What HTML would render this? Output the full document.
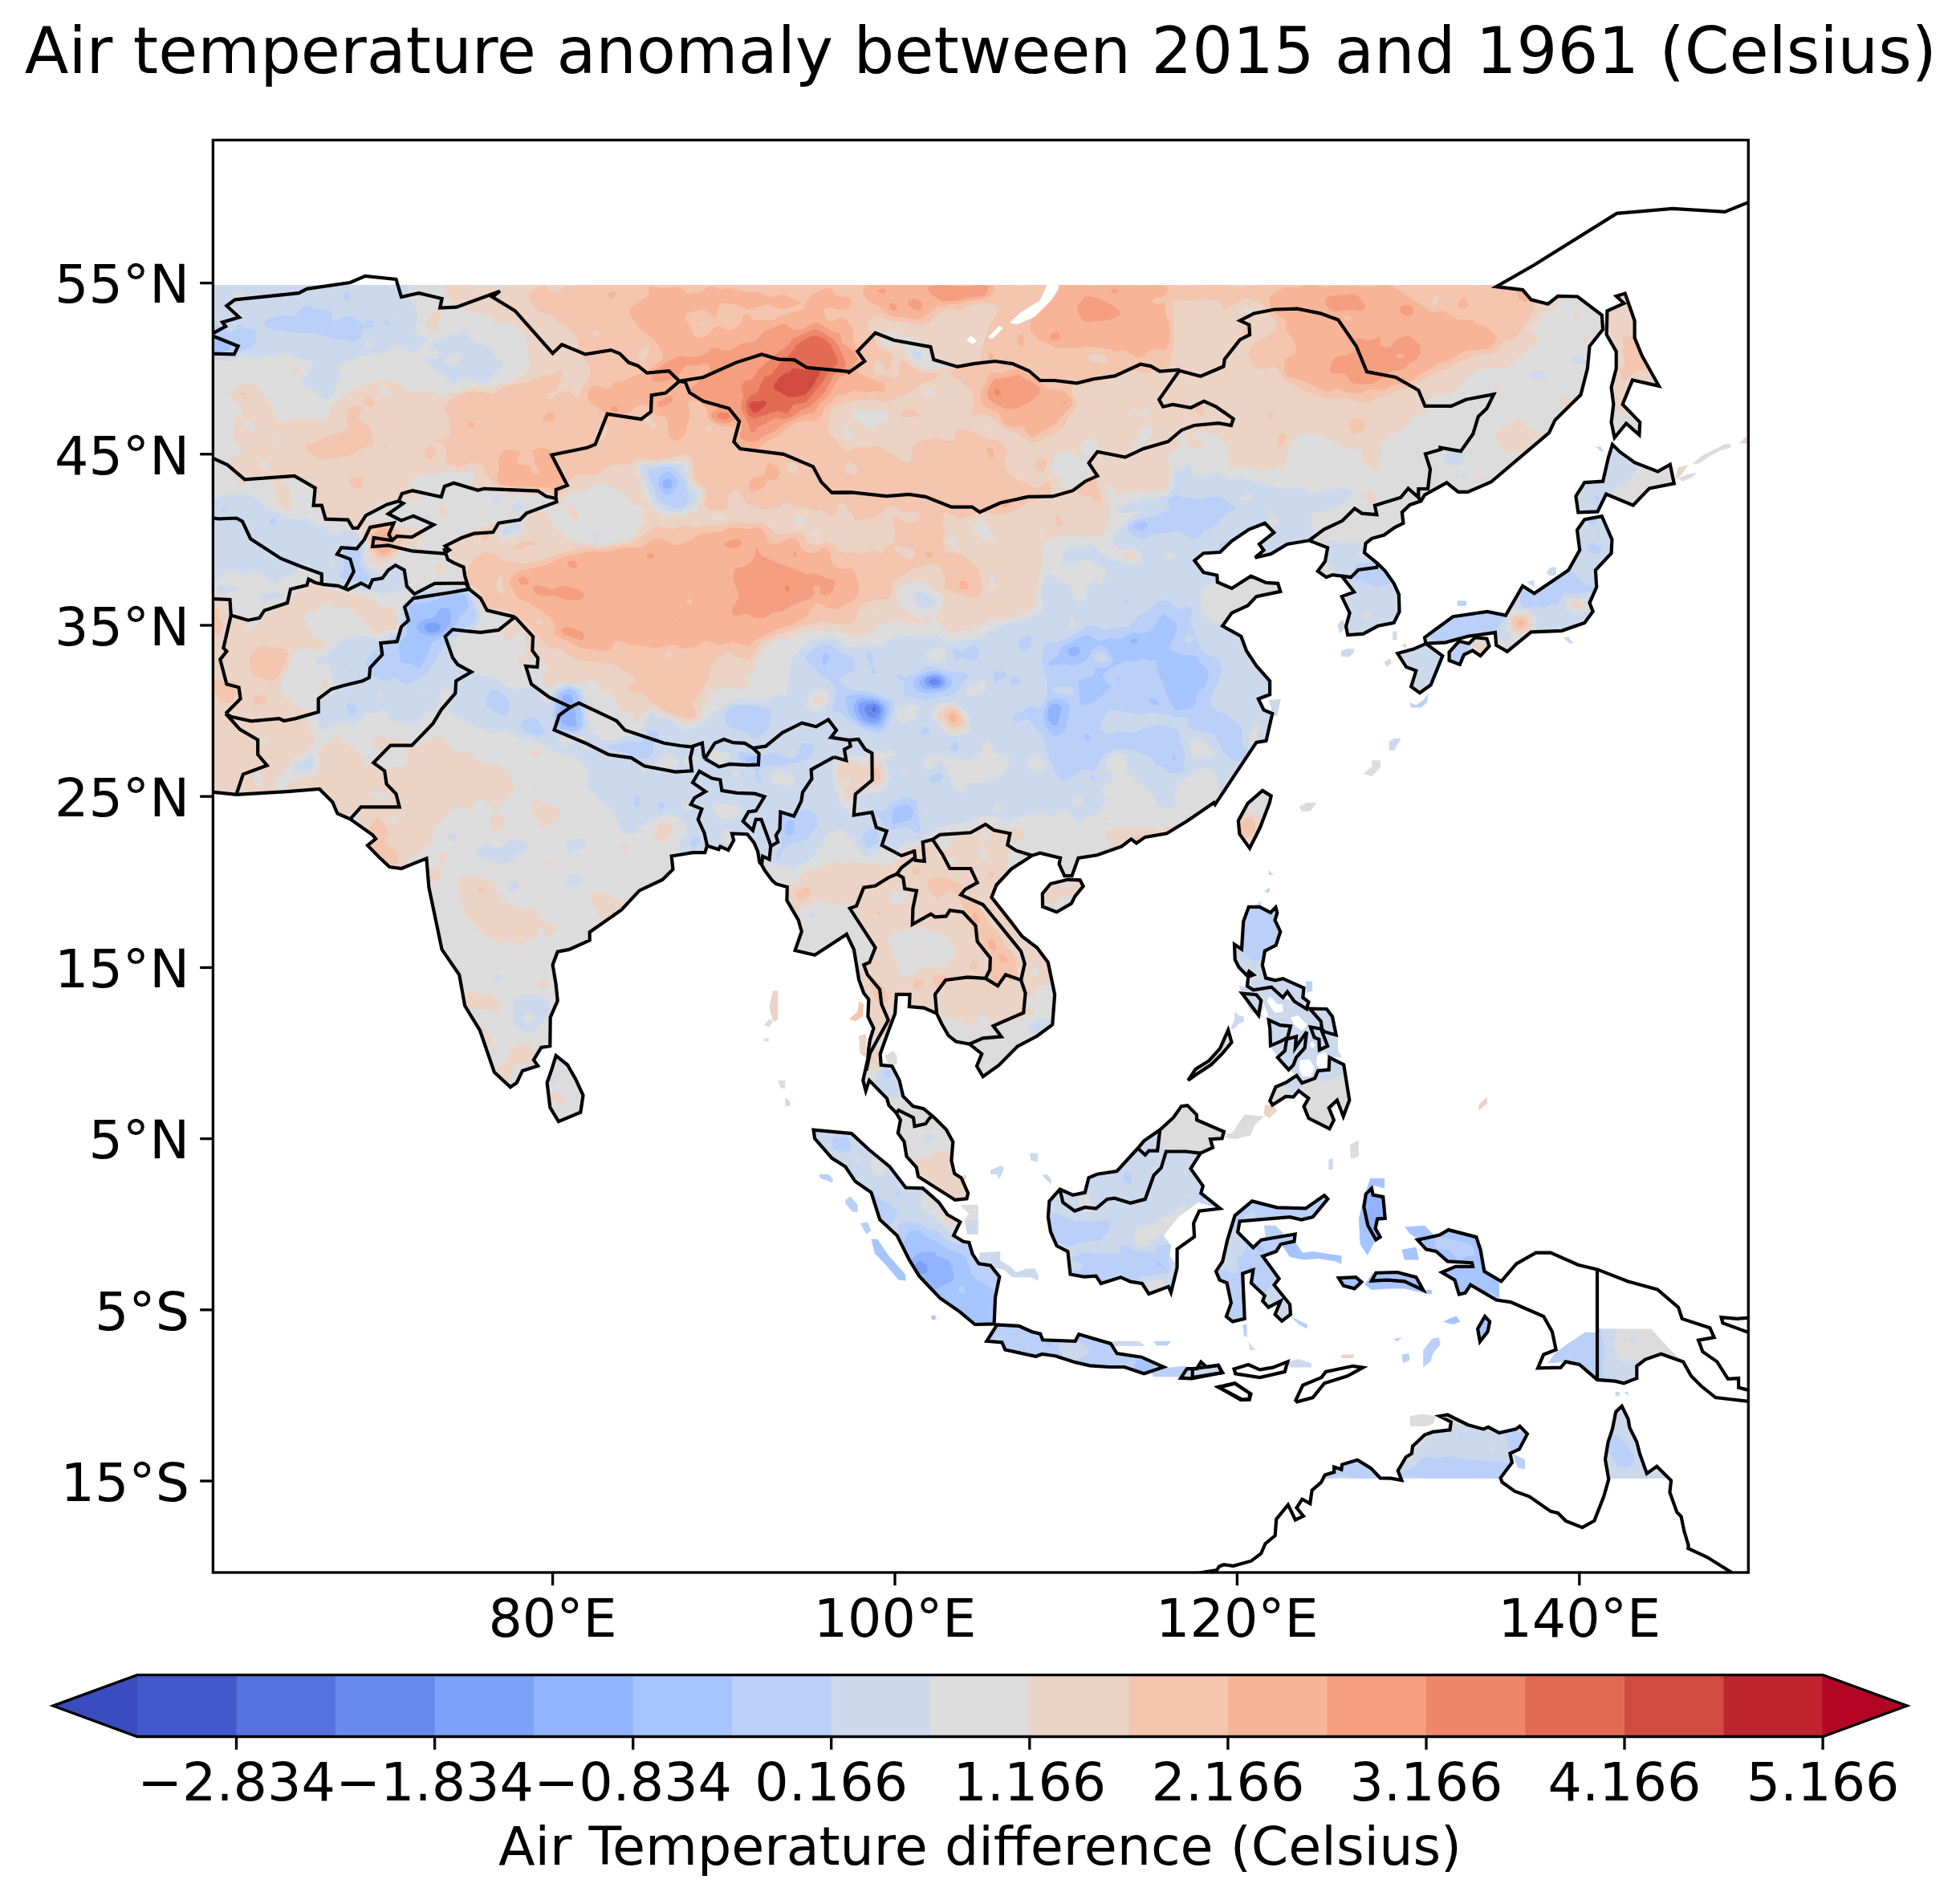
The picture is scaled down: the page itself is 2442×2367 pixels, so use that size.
<!DOCTYPE html>
<html lang="en"><head><meta charset="utf-8"><title>Air temperature anomaly between 2015 and 1961 (Celsius)</title>
<style>html,body{margin:0;padding:0;background:#fff}body{width:2442px;height:2367px;overflow:hidden}</style></head>
<body>
<svg width="2442" height="2367" viewBox="0 0 2442 2367" style="display:block">
<rect width="2442" height="2367" fill="#fff"/>
<defs><clipPath id="fc"><rect x="265.4" y="174.5" width="1912.9" height="1784.5"/></clipPath></defs>
<defs>
<clipPath id="band"><rect x="265.4" y="355.0" width="1912.9" height="1487.0"/></clipPath>
<clipPath id="land"><path clip-rule="nonzero" d="M255.9,986.9 L266.1,986.9 L294.7,989.8 L358.0,986.1 L398.0,982.9 L414.3,999.2 L420.4,1013.5 L436.3,1020.4 L464.1,1040.0 L468.2,1044.9 L458.0,1053.1 L472.2,1067.8 L485.3,1080.0 L500.0,1082.0 L531.4,1069.4 L534.3,1105.3 L550.6,1182.9 L572.2,1214.3 L579.2,1253.1 L598.0,1283.7 L615.9,1335.9 L635.9,1354.3 L643.7,1349.0 L651.0,1333.9 L670.2,1327.8 L664.9,1320.4 L674.3,1304.9 L685.3,1303.3 L685.7,1267.3 L694.7,1246.9 L692.7,1226.5 L688.6,1202.0 L694.7,1185.7 L709.0,1182.9 L734.7,1171.4 L734.7,1161.2 L774.3,1133.5 L796.7,1109.4 L825.3,1095.9 L838.4,1082.9 L836.7,1066.5 L840.0,1066.0 L863.0,1062.2 L878.3,1062.2 L881.0,1053.7 L895.4,1058.3 L897.4,1054.5 L907.4,1059.1 L914.2,1046.8 L911.9,1038.4 L931.1,1039.2 L939.5,1049.9 L944.1,1060.6 L946.4,1074.4 L949.0,1077.5 L953.3,1085.1 L962.5,1097.4 L967.0,1101.2 L980.8,1105.0 L980.4,1121.6 L994.7,1146.1 L998.8,1160.4 L990.6,1184.1 L1015.1,1189.8 L1053.9,1164.5 L1054.8,1163.8 L1064.0,1183.1 L1070.1,1220.4 L1076.2,1237.2 L1082.3,1244.9 L1081.4,1266.3 L1088.5,1281.0 L1083.9,1295.4 L1082.3,1306.1 L1081.4,1318.4 L1075.3,1345.9 L1078.7,1358.8 L1083.0,1345.9 L1105.1,1368.6 L1107.4,1377.0 L1116.5,1386.2 L1121.9,1395.4 L1118.8,1411.5 L1126.5,1422.2 L1129.5,1440.6 L1141.8,1454.3 L1144.1,1465.8 L1190.0,1494.9 L1204.5,1493.4 L1206.1,1486.5 L1197.7,1467.4 L1189.2,1462.0 L1185.4,1445.9 L1187.3,1422.4 L1178.8,1407.1 L1163.5,1391.8 L1150.6,1381.1 L1137.4,1378.1 L1125.2,1365.8 L1120.6,1345.9 L1111.4,1328.2 L1097.7,1326.9 L1096.7,1312.9 L1106.8,1284.7 L1115.1,1262.7 L1116.9,1238.8 L1133.5,1238.8 L1132.9,1254.1 L1151.2,1255.6 L1167.1,1262.7 L1173.3,1275.5 L1181.8,1290.2 L1191.0,1297.5 L1207.9,1300.6 L1223.2,1312.9 L1217.0,1328.2 L1224.7,1341.3 L1244.6,1326.9 L1267.5,1303.7 L1292.0,1290.8 L1311.3,1276.4 L1314.1,1238.8 L1305.8,1199.0 L1292.0,1180.6 L1273.7,1166.8 L1258.4,1146.9 L1235.4,1117.9 L1241.5,1102.5 L1259.9,1082.7 L1285.9,1065.8 L1295.7,1062.8 L1321.1,1068.9 L1319.6,1076.5 L1326.3,1091.2 L1335.5,1091.2 L1343.5,1068.9 L1367.0,1065.2 L1397.6,1054.5 L1409.3,1045.3 L1416.0,1050.5 L1426.7,1042.9 L1453.7,1038.3 L1478.8,1023.0 L1512.4,1000.0 L1513.9,1002.3 L1536.2,968.7 L1565.3,924.9 L1577.5,922.8 L1585.2,889.1 L1574.5,884.5 L1567.8,870.7 L1582.1,865.2 L1582.1,848.4 L1565.3,829.4 L1553.1,811.0 L1546.3,792.7 L1523.1,779.8 L1534.7,763.6 L1554.6,754.4 L1565.3,743.1 L1595.3,736.9 L1592.2,726.8 L1577.5,725.9 L1558.6,717.7 L1534.7,733.0 L1516.9,725.3 L1516.3,716.7 L1499.5,713.1 L1488.2,698.4 L1499.5,689.2 L1520.0,688.0 L1534.7,673.9 L1556.1,659.5 L1576.0,651.8 L1587.3,663.5 L1569.0,677.9 L1574.5,685.5 L1563.8,694.7 L1583.7,690.1 L1603.6,677.9 L1631.1,673.3 L1654.1,682.4 L1651.0,699.3 L1641.8,711.5 L1652.5,719.2 L1660.2,716.1 L1671.8,717.7 L1687.1,737.5 L1671.8,743.1 L1681.6,763.6 L1677.0,780.4 L1679.2,791.1 L1698.5,789.6 L1716.8,779.8 L1736.7,775.8 L1743.5,762.0 L1742.9,740.6 L1736.7,726.8 L1726.0,711.5 L1716.8,702.3 L1700.0,688.6 L1701.5,676.9 L1709.2,670.8 L1724.5,666.5 L1737.3,657.3 L1748.4,651.8 L1746.8,638.1 L1756.6,628.9 L1770.4,624.3 L1775.0,616.6 L1802.5,601.3 L1816.8,612.9 L1828.7,612.9 L1857.6,600.5 L1930.0,539.2 L1937.4,523.4 L1969.5,491.8 L1977.9,458.9 L1980.5,431.3 L1997.1,410.3 L1995.8,392.6 L1965.5,369.5 L1941.1,368.9 L1928.7,378.7 L1907.6,373.4 L1897.1,361.1 L1864.2,357.1 L1911.6,330.0 L2014.3,265.9 L2083.7,259.8 L2149.0,263.9 L2177.6,252.4 L2216.3,239.4 L2300.0,230.0 L2300.0,100.0 L200.0,100.0 L200.0,987.0Z M1308.9,1101.0 L1330.3,1095.8 L1345.6,1096.4 L1349.6,1104.1 L1339.5,1116.3 L1334.9,1125.5 L1316.5,1136.2 L1299.1,1129.5 L1298.8,1113.3Z M1480.3,1345.9 L1489.5,1332.1 L1506.3,1321.4 L1520.1,1306.1 L1530.2,1283.2 L1534.5,1298.5 L1523.2,1312.2 L1509.4,1326.0 L1491.0,1338.3Z M692.7,1315.1 L706.9,1326.5 L717.1,1344.1 L726.5,1364.5 L723.3,1385.7 L695.9,1397.1 L685.3,1379.6 L681.6,1349.0 L687.3,1332.7Z M1013.6,1407.6 L1061.0,1412.1 L1082.4,1432.0 L1108.5,1453.5 L1128.4,1479.5 L1149.8,1480.4 L1169.7,1497.9 L1180.4,1513.2 L1196.3,1522.3 L1188.1,1539.2 L1200.3,1546.8 L1207.3,1547.8 L1211.6,1562.1 L1219.6,1574.4 L1234.0,1576.5 L1245.3,1590.6 L1240.1,1615.7 L1238.6,1649.4 L1214.7,1650.0 L1195.7,1634.1 L1171.2,1617.2 L1145.2,1589.7 L1133.0,1569.8 L1117.7,1539.2 L1096.2,1519.3 L1085.5,1485.6 L1065.6,1471.8 L1053.4,1453.5 L1036.5,1442.8 L1015.1,1418.3Z M1242.2,1650.3 L1269.2,1651.8 L1286.0,1659.2 L1296.1,1661.6 L1299.2,1669.3 L1339.6,1670.8 L1344.2,1662.2 L1384.0,1673.9 L1391.6,1686.1 L1422.2,1690.7 L1449.8,1703.0 L1425.3,1711.2 L1400.8,1703.0 L1382.4,1703.0 L1358.0,1701.4 L1338.1,1696.8 L1315.1,1689.2 L1298.3,1687.0 L1290.6,1689.8 L1252.3,1681.5 L1248.4,1672.3 L1229.4,1670.8Z M1471.2,1716.7 L1478.9,1705.1 L1491.1,1705.1 L1496.3,1696.8 L1503.4,1703.0 L1517.7,1700.8 L1522.6,1710.0 L1485.0,1717.3Z M1560.0,1496.4 L1591.1,1504.3 L1626.8,1505.4 L1650.0,1489.3 L1654.3,1493.6 L1635.7,1516.1 L1621.4,1519.6 L1607.1,1516.1 L1544.6,1521.4 L1542.1,1535.0 L1561.4,1554.3 L1571.4,1544.6 L1613.6,1537.5 L1612.5,1546.4 L1595.7,1550.0 L1590.0,1558.9 L1573.2,1565.0 L1593.6,1592.9 L1587.5,1600.7 L1607.1,1625.0 L1607.9,1637.5 L1597.1,1645.7 L1588.6,1637.5 L1595.7,1620.7 L1580.4,1628.6 L1573.2,1620.7 L1575.7,1614.3 L1558.9,1598.2 L1561.4,1582.1 L1548.2,1586.4 L1550.7,1642.9 L1535.7,1646.4 L1527.9,1640.0 L1533.9,1623.2 L1528.6,1598.2 L1519.6,1594.6 L1515.0,1583.9 L1523.2,1571.4 L1529.3,1544.6 L1538.6,1514.3Z M1708.9,1480.4 L1710.7,1488.6 L1723.2,1491.1 L1725.7,1517.9 L1716.1,1518.6 L1713.6,1530.4 L1719.6,1541.1 L1714.3,1544.6 L1704.3,1526.8 L1699.3,1503.6 L1701.8,1487.5Z M1667.9,1592.1 L1689.3,1591.1 L1696.4,1597.1 L1687.5,1605.4 L1673.9,1601.8Z M1708.9,1595.7 L1714.3,1585.7 L1741.1,1585.0 L1764.3,1591.1 L1773.2,1607.1 L1750.0,1596.4 L1728.6,1594.6Z M1850.0,1640.0 L1856.1,1646.4 L1853.6,1658.9 L1843.9,1671.4 L1841.1,1655.4Z M1555.8,1129.8 L1569.5,1129.8 L1583.0,1136.9 L1589.4,1130.3 L1591.3,1136.9 L1588.5,1146.4 L1595.3,1160.6 L1589.7,1177.6 L1575.9,1184.7 L1572.8,1202.5 L1577.1,1218.4 L1588.9,1221.4 L1598.4,1219.1 L1624.5,1230.9 L1623.3,1242.7 L1630.4,1248.2 L1628.0,1257.0 L1612.6,1247.5 L1603.9,1235.6 L1598.4,1242.7 L1584.2,1229.7 L1561.7,1233.3 L1553.9,1228.5 L1555.3,1216.7 L1561.7,1214.3 L1556.3,1210.3 L1553.9,1215.5 L1543.5,1204.9 L1538.7,1195.4 L1538.0,1176.4 L1547.0,1182.4 L1549.2,1148.0Z M1547.5,1237.5 L1565.3,1239.2 L1571.2,1246.3 L1568.1,1264.8Z M1631.6,1256.5 L1652.9,1257.0 L1660.0,1266.4 L1664.7,1289.4 L1650.5,1285.4 L1647.0,1281.8 L1645.8,1272.4Z M1632.8,1279.5 L1645.8,1281.8 L1654.1,1303.1 L1643.9,1307.9 L1643.4,1294.8 L1637.5,1292.5Z M1580.7,1270.7 L1594.9,1277.1 L1607.9,1278.3 L1604.3,1292.5 L1596.0,1297.2 L1583.0,1302.7 L1582.3,1281.8Z M1603.1,1294.8 L1615.0,1291.3 L1613.8,1305.5 L1628.0,1285.4 L1625.6,1305.5 L1615.0,1317.3 L1611.4,1326.8 L1605.5,1332.7 L1591.8,1317.3 L1600.8,1309.1Z M1656.4,1317.3 L1674.2,1326.3 L1681.3,1370.6 L1673.7,1390.8 L1665.9,1370.6 L1655.7,1380.1 L1661.9,1395.5 L1656.4,1406.2 L1630.4,1393.1 L1624.5,1378.4 L1630.4,1368.3 L1618.1,1358.8 L1611.4,1366.6 L1602.0,1365.9 L1585.4,1376.6 L1582.3,1371.3 L1589.4,1354.1 L1603.1,1348.1 L1615.5,1339.8 L1622.1,1349.3 L1638.2,1343.4 L1642.2,1333.9 L1655.7,1332.7Z M1741.3,814.1 L1761.2,808.6 L1776.5,801.8 L1797.3,817.1 L1782.6,853.3 L1768.9,863.1 L1758.2,855.4 L1764.3,835.5 L1752.0,830.9Z M1805.6,812.5 L1817.9,798.8 L1830.1,801.8 L1837.8,794.2 L1852.4,795.7 L1855.5,804.9 L1844.5,817.1 L1834.7,810.4 L1824.0,815.6 L1818.8,827.9 L1805.6,822.7Z M2013.7,368.9 L2024.7,365.5 L2036.6,399.7 L2036.6,420.8 L2045.8,443.2 L2066.8,480.8 L2033.9,473.4 L2021.6,503.7 L2043.2,526.1 L2042.4,541.8 L2026.1,527.4 L2011.6,545.3 L2007.6,526.1 L2010.3,503.7 L2007.6,482.6 L2013.7,458.9 L2013.7,437.9 L2001.6,416.8 L2002.4,387.4 L2023.4,377.9Z M2008.9,553.7 L2018.2,562.9 L2036.6,576.1 L2065.5,587.4 L2080.8,578.7 L2085.8,602.4 L2055.0,608.4 L2034.7,629.5 L2001.1,615.5 L1990.5,637.4 L1966.3,638.4 L1963.4,618.2 L1974.2,601.1 L1997.1,599.7 L2003.7,570.8Z M1491.1,1395.3 L1524.8,1409.7 L1522.6,1418.3 L1508.0,1419.2 L1511.0,1429.6 L1495.7,1436.6 L1483.5,1455.9 L1498.8,1477.3 L1496.3,1486.5 L1520.2,1505.5 L1494.2,1508.6 L1487.1,1523.9 L1488.1,1540.7 L1466.6,1556.0 L1466.6,1579.0 L1459.0,1610.2 L1455.9,1602.9 L1431.4,1612.0 L1422.9,1598.9 L1408.5,1596.7 L1396.2,1591.2 L1371.7,1598.9 L1365.6,1589.7 L1350.3,1590.6 L1333.5,1587.5 L1330.4,1559.1 L1316.6,1552.0 L1309.0,1534.6 L1305.9,1516.2 L1307.4,1496.3 L1320.6,1481.6 L1336.5,1488.7 L1351.8,1485.6 L1356.4,1467.2 L1367.1,1462.7 L1391.6,1459.0 L1417.6,1430.5 L1425.3,1421.3 L1445.2,1407.6 L1462.0,1392.2 L1472.0,1378.1 L1479.4,1377.1 L1491.0,1388.8Z M1573.0,984.9 L1583.7,991.6 L1581.8,1000.0 L1570.0,1030.8 L1557.0,1056.8 L1544.4,1039.1 L1542.8,1022.5 L1554.6,1000.8Z M1775.0,794.2 L1810.2,768.2 L1853.1,762.0 L1876.0,766.6 L1897.1,730.0 L1911.6,739.2 L1954.2,710.3 L1968.2,685.3 L1965.0,660.3 L1974.2,647.1 L1995.8,643.2 L2008.4,672.1 L2007.6,689.2 L1987.9,710.3 L1989.2,731.3 L1980.5,751.1 L1984.7,761.6 L1974.2,776.1 L1945.8,785.8 L1907.6,787.4 L1877.9,811.6 L1864.2,803.7 L1862.9,787.9 L1862.2,788.1 L1828.6,792.7 L1801.0,800.3 L1776.5,801.8Z M1489.2,1960.7 L1501.4,1958.4 L1516.0,1956.1 L1519.0,1951.5 L1524.4,1949.2 L1536.6,1950.8 L1558.8,1944.7 L1571.1,1935.5 L1576.4,1923.2 L1588.7,1913.0 L1590.2,1892.6 L1604.8,1874.7 L1613.9,1893.4 L1623.9,1888.8 L1615.5,1878.4 L1622.4,1867.7 L1632.3,1873.2 L1634.6,1856.6 L1646.1,1846.7 L1650.7,1837.5 L1662.2,1834.0 L1662.2,1827.6 L1671.3,1830.6 L1672.1,1824.5 L1691.2,1818.7 L1708.1,1829.1 L1719.6,1841.3 L1732.6,1841.6 L1746.3,1844.1 L1741.7,1832.1 L1751.7,1815.3 L1758.9,1810.7 L1760.0,1801.8 L1775.0,1787.5 L1785.0,1783.9 L1806.4,1781.4 L1807.9,1771.4 L1793.6,1764.3 L1803.6,1762.5 L1828.6,1775.0 L1848.2,1780.4 L1854.3,1777.9 L1867.9,1785.0 L1888.6,1780.4 L1893.6,1776.8 L1902.9,1786.4 L1892.9,1805.4 L1881.4,1810.7 L1883.9,1822.1 L1869.6,1841.1 L1871.4,1846.4 L1887.5,1857.9 L1905.4,1864.3 L1932.1,1882.9 L1941.1,1885.0 L1950.7,1894.6 L1971.4,1902.9 L1986.4,1894.6 L1998.2,1864.3 L2004.3,1842.9 L2000.0,1817.9 L2003.6,1796.4 L2008.9,1780.4 L2013.2,1758.9 L2020.7,1751.8 L2028.6,1767.9 L2030.4,1778.6 L2039.3,1796.4 L2042.9,1810.7 L2051.8,1835.7 L2064.3,1826.8 L2082.1,1844.6 L2080.4,1858.9 L2089.3,1883.9 L2094.6,1889.3 L2098.2,1907.1 L2103.6,1925.0 L2103.2,1929.0 L2126.7,1939.8 L2156.3,1958.2 L2200.0,1985.0 L1450.0,1985.0Z M1766.1,1544.6 L1793.6,1538.6 L1804.6,1532.1 L1839.3,1541.1 L1844.6,1557.1 L1849.3,1583.9 L1867.9,1594.6 L1867.9,1618.6 L1864.3,1619.6 L1832.1,1600.7 L1825.7,1610.7 L1817.9,1612.5 L1812.5,1594.6 L1796.4,1585.0 L1813.6,1577.9 L1835.0,1577.9 L1833.9,1573.2 L1803.6,1571.4 L1789.3,1558.9 L1776.8,1556.4Z M1990.0,1655.4 L2057.1,1655.4 L2075.0,1675.0 L2092.9,1693.6 L2069.6,1686.8 L2050.0,1693.6 L2039.3,1701.8 L2039.3,1717.1 L2023.2,1723.2 L2012.5,1720.7 L1990.0,1718.9 L1967.9,1700.0 L1950.7,1696.4 L1928.6,1698.2 L1937.5,1685.7 L1957.1,1671.4 L1975.0,1660.0 L1990.0,1660.0Z"/></clipPath>
</defs>
<g clip-path="url(#fc)"><g clip-path="url(#band)">
<path fill="#bad0f8" d="M1021.2,1462.7 1031.9,1462.7 1038.1,1468.8 1036.5,1473.4 1028.9,1470.3 1021.2,1467.2Z"/>
<path fill="#bad0f8" d="M1053.4,1494.8 1059.5,1490.2 1068.7,1500.9 1068.7,1510.1 1062.5,1510.1 1053.4,1499.4Z"/>
<path fill="#bad0f8" d="M1071.7,1523.9 1080.9,1522.3 1085.5,1533.1 1079.4,1537.7Z"/>
<path fill="#a6c4fe" d="M1085.5,1543.8 1093.2,1543.8 1106.9,1563.7 1128.4,1588.2 1128.4,1595.8 1119.2,1594.3 1103.9,1575.9 1090.1,1562.1Z"/>
<path fill="#a6c4fe" d="M1160.5,1638.7 1165.7,1638.7 1165.7,1643.9 1160.5,1643.9Z"/>
<path fill="#ccd9ed" d="M1220.2,1560.6 1246.2,1559.1 1246.2,1569.8 1260.0,1579.0 1266.1,1585.1 1278.4,1580.5 1289.1,1580.5 1293.7,1588.2 1293.7,1595.8 1284.5,1591.2 1272.2,1591.2 1261.5,1591.2 1250.8,1582.0 1235.5,1579.0 1220.2,1574.4Z"/>
<path fill="#dddcdc" d="M1197.2,1500.9 1218.7,1500.9 1218.7,1519.3 1201.8,1519.3 1204.9,1514.7Z"/>
<path fill="#ccd9ed" d="M1201.8,1519.3 1218.7,1519.3 1218.7,1537.7 1204.9,1537.7Z"/>
<path fill="#fff" d="M1195.7,1511.6 1201.8,1506.1 1207.3,1512.2 1201.2,1518.4Z"/>
<path fill="#ccd9ed" d="M1234.0,1458.1 1246.2,1451.9 1250.8,1453.5 1249.3,1461.1 1244.7,1468.8 1241.6,1462.7 1234.0,1463.3Z"/>
<path fill="#ccd9ed" d="M1283.0,1436.6 1293.1,1436.6 1293.1,1447.3 1284.5,1445.8Z"/>
<path fill="#ccd9ed" d="M1298.3,1464.2 1304.4,1462.7 1310.5,1470.3 1309.0,1474.9Z"/>
<path fill="#ccd9ed" d="M1385.5,1670.8 1419.2,1670.8 1426.8,1676.9 1388.6,1676.9Z"/>
<path fill="#bad0f8" d="M1437.5,1670.8 1459.0,1670.8 1454.4,1676.3 1440.6,1676.3Z"/>
<path fill="#bad0f8" d="M1434.5,1710.6 1449.8,1704.5 1477.3,1701.4 1474.3,1715.2 1437.5,1715.2Z"/>
<path fill="#dddcdc" d="M1204.9,1465.7 1201.8,1471.8 1197.2,1470.3 1201.8,1462.7Z"/>
<path fill="#ccd9ed" d="M1543.9,1227.4 1560.5,1233.3 1584.2,1229.7 1598.4,1242.7 1612.6,1247.5 1628.0,1257.0 1652.9,1257.0 1660.0,1266.4 1667.1,1291.3 1667.1,1307.9 1671.8,1317.3 1656.4,1317.3 1655.7,1332.7 1642.2,1333.9 1638.2,1343.4 1622.1,1349.3 1615.5,1339.8 1605.5,1332.7 1591.8,1317.3 1582.3,1302.7 1580.7,1270.7 1568.1,1264.8 1558.2,1260.5 1547.5,1237.5Z"/>
<path fill="#fff" d="M1578.3,1246.3 1583.0,1241.6 1591.3,1251.0 1598.4,1251.0 1598.4,1260.5 1588.9,1261.7 1584.2,1255.8Z"/>
<path fill="#fff" d="M1607.9,1267.6 1617.4,1265.2 1629.2,1277.1 1622.1,1284.2 1612.6,1277.1Z"/>
<path fill="#fff" d="M1631.6,1300.8 1635.1,1297.2 1639.1,1302.0 1635.1,1306.0Z"/>
<path fill="#fff" d="M1641.0,1315.0 1650.5,1310.2 1655.3,1317.3 1655.7,1331.6 1643.4,1331.6 1639.9,1324.5Z"/>
<path fill="#fff" d="M1619.7,1320.9 1631.6,1319.7 1637.5,1329.2 1633.9,1341.0 1622.1,1341.0 1618.5,1331.6Z"/>
<path fill="#fff" d="M1571.2,1247.5 1574.7,1254.6 1571.2,1262.9 1574.7,1267.6 1580.7,1270.0 1579.5,1262.9 1574.7,1251.0Z"/>
<path fill="#ebd3c6" d="M1575.9,1376.6 1585.4,1376.6 1591.3,1383.7 1581.8,1393.1 1574.7,1388.4Z"/>
<path fill="#dddcdc" d="M1543.9,1397.9 1551.0,1388.4 1574.7,1390.8 1562.9,1402.6 1558.2,1414.4 1539.2,1419.2 1525.0,1416.8 1536.8,1409.7Z"/>
<path fill="#bad0f8" d="M1580.7,1084.1 1586.6,1090.0 1580.7,1090.0Z"/>
<path fill="#bad0f8" d="M1574.7,1111.3 1581.8,1105.4 1581.8,1111.8Z"/>
<path fill="#ccd9ed" d="M1564.1,1127.9 1571.2,1122.0 1571.2,1129.1Z"/>
<path fill="#ccd9ed" d="M1538.0,1260.5 1543.9,1265.2 1549.9,1266.4 1549.9,1272.4 1542.8,1275.9 1538.0,1281.8 1533.3,1281.8 1538.0,1270.0Z"/>
<path fill="#bad0f8" d="M1626.8,1222.6 1635.1,1222.6 1635.1,1234.5 1628.0,1236.8Z"/>
<path fill="#dddcdc" d="M1618.5,1004.7 1628.0,1000.0 1641.0,1000.0 1631.6,1010.7 1622.1,1010.7Z"/>
<path fill="#dddcdc" d="M1682.5,1426.3 1692.0,1420.4 1692.0,1428.7 1688.4,1433.4 1688.4,1442.9 1682.5,1442.9Z"/>
<path fill="#ebd3c6" d="M1842.3,1376.6 1853.0,1365.9 1853.0,1374.2 1842.3,1383.7Z"/>
<path fill="#a6c4fe" d="M1692.9,1517.9 1700.0,1489.3 1707.1,1467.9 1725.0,1467.9 1725.0,1480.4 1710.7,1476.8 1700.0,1507.1 1703.6,1528.6 1714.3,1544.6 1703.6,1564.3 1694.6,1550.0Z"/>
<path fill="#bad0f8" d="M1575.0,1526.8 1589.3,1526.8 1603.6,1541.1 1576.8,1542.9Z"/>
<path fill="#a6c4fe" d="M1596.4,1550.0 1614.3,1548.2 1623.2,1560.7 1635.7,1558.9 1658.9,1562.5 1671.4,1564.3 1671.4,1575.0 1664.3,1571.4 1642.9,1567.9 1625.0,1569.6 1607.1,1566.1Z"/>
<path fill="#a6c4fe" d="M1750.0,1528.6 1775.0,1526.8 1785.7,1537.5 1766.1,1542.9 1757.1,1537.5Z"/>
<path fill="#a6c4fe" d="M1746.4,1557.1 1764.3,1553.6 1767.9,1569.6 1750.0,1569.6Z"/>
<path fill="#a6c4fe" d="M1700.0,1600.0 1710.7,1585.7 1714.3,1596.4 1728.6,1594.6 1750.0,1597.1 1773.2,1607.1 1783.9,1607.1 1783.9,1612.5 1773.2,1610.7 1750.0,1605.4 1728.6,1605.4 1708.9,1607.1Z"/>
<path fill="#a6c4fe" d="M1798.2,1646.4 1805.4,1642.9 1814.3,1639.3 1819.6,1646.4 1810.7,1650.0 1803.6,1648.2Z"/>
<path fill="#bad0f8" d="M1773.2,1682.1 1783.9,1667.9 1792.9,1666.1 1794.6,1675.0 1785.7,1685.7 1782.1,1696.4 1773.2,1703.6Z"/>
<path fill="#bad0f8" d="M1735.7,1667.9 1746.4,1666.1 1741.1,1671.4Z"/>
<path fill="#bad0f8" d="M1746.4,1687.5 1755.4,1685.7 1756.4,1694.6 1748.2,1698.2Z"/>
<path fill="#bad0f8" d="M1607.1,1639.3 1628.6,1650.0 1628.6,1655.4 1617.9,1650.0Z"/>
<path fill="#bad0f8" d="M1548.2,1650.0 1553.6,1650.0 1553.6,1666.1 1550.0,1664.3Z"/>
<path fill="#ccd9ed" d="M1555.4,1671.4 1564.3,1682.1 1557.1,1682.1Z"/>
<path fill="#ccd9ed" d="M1603.6,1696.4 1617.9,1692.9 1633.9,1698.2 1633.9,1703.6 1607.1,1703.6Z"/>
<path fill="#ebd3c6" d="M1671.4,1687.5 1687.5,1687.5 1685.7,1692.1 1671.4,1692.1Z"/>
<path fill="#dddcdc" d="M1756.4,1764.3 1771.4,1761.4 1789.3,1764.3 1785.7,1773.2 1778.6,1776.8 1757.1,1776.8Z"/>
<path fill="#bad0f8" d="M1883.9,1810.7 1900.0,1817.9 1900.0,1830.4 1891.1,1828.6Z"/>
<path fill="#ccd9ed" d="M2012.5,1733.9 2017.9,1733.9 2017.9,1739.3 2012.5,1739.3Z"/>
<path fill="#ccd9ed" d="M2023.2,1733.9 2028.6,1733.9 2028.6,1739.3Z"/>
<path fill="#ccd9ed" d="M2051.8,1835.7 2064.3,1826.8 2082.1,1841.1 2082.1,1844.6 2051.8,1844.6Z"/>
<path fill="#dddcdc" d="M1521.4,1410.7 1539.3,1417.9 1553.6,1407.1 1564.3,1400.0 1553.6,1400.0 1535.7,1412.5Z"/>
<path fill="#ccd9ed" d="M1655.4,1444.6 1660.7,1442.9 1660.7,1457.1 1655.4,1457.1Z"/>
<path fill="#dddcdc" d="M1682.1,1426.8 1692.9,1421.4 1692.9,1441.1 1682.9,1442.1Z"/>
<path fill="#ebd3c6" d="M963.0,1234.2 969.1,1234.2 969.1,1270.9 963.0,1272.4 958.4,1254.1Z"/>
<path fill="#dddcdc" d="M963.0,1272.4 958.4,1280.1 952.2,1277.0 958.4,1269.4Z"/>
<path fill="#dddcdc" d="M952.2,1293.3 957.8,1293.3 957.8,1297.5 952.2,1297.5Z"/>
<path fill="#dddcdc" d="M969.1,1345.9 978.3,1345.9 978.3,1356.6 972.1,1355.1Z"/>
<path fill="#ccd9ed" d="M978.3,1367.3 984.4,1371.9 984.4,1378.1 978.3,1378.1Z"/>
<path fill="#f4c6af" d="M1057.9,1269.4 1068.6,1260.2 1070.1,1248.0 1076.2,1251.0 1074.7,1266.3 1065.5,1272.4Z"/>
<path fill="#ebd3c6" d="M1070.1,1290.8 1079.3,1287.8 1079.3,1318.4 1071.6,1312.2Z"/>
<path fill="#dddcdc" d="M1102.2,1315.3 1113.0,1309.2 1117.5,1315.3 1117.5,1326.0 1106.8,1326.0Z"/>
<path fill="#ccd9ed" d="M1735.2,786.5 1740.4,786.5 1740.4,797.2 1735.2,797.2Z"/>
<path fill="#ccd9ed" d="M1670.9,811.0 1678.6,808.0 1687.8,808.6 1686.2,814.1 1680.1,818.7 1670.9,817.8Z"/>
<path fill="#ccd9ed" d="M1666.3,778.9 1672.4,771.2 1677.0,780.4 1669.4,789.6Z"/>
<path fill="#ccd9ed" d="M1724.5,824.8 1732.1,820.2 1733.7,826.3 1727.5,830.9Z"/>
<path fill="#ccd9ed" d="M1745.9,803.4 1752.0,801.8 1752.0,808.0Z"/>
<path fill="#bad0f8" d="M1756.6,875.3 1764.3,878.4 1773.5,872.2 1779.6,863.1 1778.1,875.3 1770.4,881.4 1758.2,881.4Z"/>
<path fill="#bad0f8" d="M1816.3,751.3 1827.0,749.2 1827.0,754.4 1816.3,755.3Z"/>
<path fill="#ccd9ed" d="M1931.1,706.9 1938.8,706.3 1938.8,716.1 1932.6,717.7 1926.5,714.6Z"/>
<path fill="#ccd9ed" d="M1902.0,725.3 1911.2,722.2 1911.8,731.4Z"/>
<path fill="#ccd9ed" d="M1730.6,924.3 1736.7,919.7 1745.9,919.7 1736.7,935.0 1730.6,935.0Z"/>
<path fill="#dddcdc" d="M1698.5,964.1 1709.2,954.9 1709.2,947.2 1719.9,947.2 1719.9,956.4 1709.2,967.1Z"/>
<path fill="#ccd9ed" d="M1580.6,872.2 1595.9,870.7 1591.3,892.1 1583.7,892.1 1583.7,881.4Z"/>
<path fill="#dddcdc" d="M1618.9,1006.9 1632.7,1000.8 1638.8,1000.8 1632.7,1010.0Z"/>
<path fill="#ccd9ed" d="M1948.0,794.2 1954.1,792.7 1960.2,801.8 1955.6,801.8Z"/>
<path fill="#ebd3c6" d="M2086.6,598.4 2090.5,582.6 2103.7,578.7 2095.8,590.5Z"/>
<path fill="#dddcdc" d="M2108.9,577.4 2119.5,568.2 2132.6,561.6 2148.4,553.7 2156.3,552.4 2156.3,557.6 2143.2,561.6 2130.0,568.2 2119.5,576.1 2111.6,578.7Z"/>
<path fill="#ebd3c6" d="M2166.8,552.4 2176.1,543.2 2176.1,552.4Z"/>
<path fill="#dddcdc" d="M2090.5,595.8 2103.7,590.5 2114.2,589.2 2108.9,594.5 2095.8,599.7Z"/>
<path fill="#bad0f8" d="M1815.5,748.4 1826.8,748.4 1826.8,753.7 1815.5,753.7Z"/>
<path fill="#ccd9ed" d="M1987.9,556.3 1994.5,556.3 1998.4,562.9 1993.2,561.6Z"/>
<g clip-path="url(#land)">
<rect x="265.4" y="355.0" width="1912.9" height="1487.0" fill="#dddcdc"/>
<path fill="#ebd3c6" fill-rule="evenodd" d="M297,332 298,332 324,332 321,338 316,340 302,336 298,334ZM481,332 493,331 494,340 490,343 482,341 480,338ZM567,332 575,332 574,336 572,338 568,336ZM746,332 748,332 762,332 758,339 754,340 752,340 748,337ZM778,332 778,332 786,332 784,334 782,335ZM968,332 990,332 992,344 998,347 1016,349 1024,346 1028,343 1025,332 1042,332 1040,340 1040,344 1046,345 1058,344 1066,348 1088,346 1103,344 1105,340 1096,335 1094,332 1107,332 1109,338 1112,340 1114,342 1137,346 1150,348 1168,346 1178,346 1186,344 1188,340 1186,332 1198,332 1200,344 1202,344 1220,344 1244,348 1256,346 1270,350 1286,347 1300,348 1316,344 1340,347 1354,345 1370,348 1390,346 1397,344 1390,336 1389,332 1410,332 1409,338 1407,344 1410,346 1424,349 1448,347 1466,348 1478,350 1520,347 1534,351 1540,351 1574,347 1588,349 1616,348 1623,346 1630,340 1634,340 1640,341 1647,346 1654,348 1666,347 1708,349 1730,345 1744,348 1762,349 1774,348 1789,345 1798,347 1834,349 1844,348 1852,344 1856,344 1876,351 1904,349 1922,351 1934,351 1936,354 1946,356 1945,370 1940,380 1934,386 1922,393 1911,406 1909,412 1913,418 1915,424 1912,431 1900,438 1880,457 1874,459 1858,458 1838,463 1826,472 1817,484 1814,487 1802,493 1790,492 1775,500 1772,502 1772,506 1778,512 1778,514 1768,516 1762,519 1754,530 1742,538 1732,542 1726,548 1723,554 1718,572 1720,584 1718,586 1714,586 1709,584 1700,574 1698,572 1696,559 1694,558 1684,560 1678,559 1648,543 1640,540 1622,540 1616,542 1605,560 1603,574 1600,579 1588,584 1568,586 1558,582 1538,583 1531,580 1530,574 1532,566 1532,560 1522,548 1514,542 1504,540 1496,536 1490,537 1485,542 1483,545 1490,546 1498,546 1501,548 1501,550 1500,554 1496,558 1490,559 1484,558 1478,554 1476,550 1479,544 1468,538 1466,539 1462,542 1462,544 1465,548 1471,550 1472,554 1466,560 1455,566 1453,568 1458,580 1456,598 1454,609 1448,612 1432,611 1402,614 1390,618 1387,608 1378,604 1377,608 1380,620 1382,638 1381,652 1375,667 1372,670 1360,667 1348,669 1334,667 1324,667 1304,674 1301,676 1300,686 1297,694 1298,706 1290,736 1289,752 1286,758 1277,764 1270,767 1262,769 1246,772 1234,771 1210,786 1198,786 1186,790 1184,790 1168,773 1163,770 1173,758 1176,748 1174,742 1168,737 1162,734 1154,726 1144,724 1136,725 1119,734 1116,742 1117,748 1124,759 1138,766 1148,772 1154,769 1162,770 1156,777 1154,777 1150,776 1148,773 1146,776 1138,780 1136,780 1124,773 1106,775 1096,778 1082,791 1076,793 1060,793 1042,786 1030,787 1018,785 997,788 992,790 985,796 964,797 960,800 946,814 940,832 933,844 931,857 928,859 926,859 916,856 898,858 884,862 880,868 881,874 877,880 874,892 868,898 862,900 850,900 836,893 826,890 818,884 812,883 804,886 796,898 794,900 790,897 788,891 784,888 772,885 770,880 767,868 765,866 752,861 742,849 736,846 734,847 728,852 704,849 697,850 688,855 682,856 679,854 676,844 680,836 680,832 674,824 668,821 662,820 656,821 650,828 646,825 647,820 655,812 657,806 652,787 650,785 646,786 643,790 638,794 632,796 628,795 626,790 627,788 629,784 640,776 640,772 636,770 629,766 604,762 599,754 593,740 575,724 574,716 575,706 573,704 566,701 556,682 556,680 560,675 586,661 598,658 616,651 620,651 621,652 619,656 618,662 622,673 626,675 628,674 646,668 652,664 654,662 654,646 662,640 670,637 678,638 682,640 686,646 688,656 692,657 710,675 730,676 748,680 782,673 788,670 793,664 796,656 802,646 802,640 800,634 788,628 776,612 764,609 754,604 740,605 726,614 713,613 705,620 699,628 694,631 692,631 688,622 685,620 680,618 658,615 632,615 614,608 610,609 602,613 596,613 587,608 587,604 592,596 592,592 591,590 586,587 572,589 554,587 542,591 530,591 520,593 514,598 509,604 509,608 512,611 518,613 520,616 522,620 520,624 518,624 508,620 502,621 490,627 472,625 464,634 454,638 455,646 457,650 464,651 476,649 484,650 508,658 520,658 524,659 527,664 525,670 520,681 518,682 509,681 506,682 494,695 484,700 466,704 464,703 461,700 461,688 459,680 449,658 440,654 430,648 422,646 412,648 406,646 395,628 390,610 380,603 374,596 370,593 368,591 362,591 355,596 353,598 360,610 361,620 366,628 364,634 362,636 356,635 344,628 343,626 346,620 345,616 341,608 338,598 331,592 328,591 320,597 302,603 296,601 292,596 289,584 285,574 287,572 298,566 300,562 299,556 291,548 290,530 292,522 300,518 301,512 298,506 289,496 286,490 287,488 290,485 302,480 314,478 320,480 338,504 340,518 344,522 352,524 358,524 370,520 382,523 392,522 404,523 408,520 411,508 413,506 436,487 452,480 466,475 472,474 494,476 498,478 508,487 514,489 524,489 536,486 538,486 544,491 550,494 554,493 560,490 572,488 584,481 602,483 613,482 634,476 652,467 658,458 659,452 658,434 656,428 655,418 652,414 646,409 638,404 628,401 616,403 610,394 608,393 580,386 562,378 556,370 552,362 554,356 562,349 572,347 580,352 590,355 596,364 598,363 602,358 608,356 616,358 620,364 622,364 624,362 628,358 644,351 658,355 676,347 682,348 689,350 700,349 710,351 724,347 746,347 754,344 766,347 788,349 808,344 824,348 838,346 850,347 868,350 872,350 880,344 886,343 892,344 907,350 928,351 968,346 971,344ZM994,643 992,644 989,646 991,652 994,655 1000,654 1003,652 1003,646 999,644ZM1016,661 1013,664 1016,669 1018,670 1022,668 1021,664ZM1052,534 1049,538 1052,544 1056,548 1060,547 1063,544 1063,542 1058,536 1054,534ZM1066,511 1062,514 1061,518 1062,520 1072,525 1078,532 1082,533 1088,532 1104,524 1107,520 1107,518 1106,513 1100,511 1088,511 1078,512ZM1106,412 1100,413 1096,416 1096,422 1100,428 1106,432 1112,433 1114,432 1120,427 1124,428 1128,440 1132,446 1144,456 1150,459 1156,460 1174,459 1179,458 1180,454 1177,452 1166,449 1160,445 1154,430 1150,426 1132,420 1124,420 1114,414ZM1184,670 1182,676 1184,681 1186,682 1192,680 1194,676 1192,670 1190,668 1186,668ZM1220,649 1211,656 1211,658 1212,662 1228,673 1238,676 1240,674 1238,668 1226,651 1222,649ZM1232,529 1230,532 1232,534 1234,532ZM1298,657 1295,662 1297,665 1301,662 1300,658ZM1328,562 1324,564 1316,565 1313,568 1309,584 1309,586 1312,590 1318,595 1322,605 1324,608 1330,609 1340,606 1346,602 1356,592 1359,590 1359,586 1352,569 1346,569 1334,561ZM1352,547 1346,556 1346,562 1352,568 1354,569 1365,566 1368,562 1369,560 1366,548 1364,546 1360,545ZM1382,568 1381,569 1382,568ZM1394,595 1393,596 1394,597 1396,596ZM1406,513 1405,518 1409,518 1410,514 1408,513ZM1424,511 1421,514 1422,518 1426,521 1430,519 1431,514 1430,512 1426,510ZM1552,384 1551,386 1551,388 1556,392 1560,392 1562,388 1561,386 1558,384ZM304,525 305,530 316,540 318,536 316,529 310,525 308,524ZM328,574 326,574 325,578 328,584 332,584 335,580 335,578 332,575ZM344,545 340,550 340,554 344,555 347,550 346,546ZM478,481 476,482 473,484 473,490 478,494 484,494 486,490 485,488ZM826,574 812,576 800,575 796,575 794,577 792,580 793,586 798,598 804,622 808,628 820,639 830,643 848,643 860,639 871,638 872,628 874,622 875,616 873,610 862,602 859,592 859,578 857,574 850,573ZM886,643 885,644 885,646 890,648 896,649 901,646 901,644 898,642ZM926,636 925,638 926,638 926,638ZM1094,760 1090,765 1090,768 1094,766ZM1126,553 1126,554 1126,555 1127,554ZM1156,484 1154,485 1151,488 1152,490 1156,496 1160,494 1160,490 1160,487ZM1178,480 1175,482 1178,484 1180,482ZM1234,717 1232,722 1232,724 1234,731 1238,732 1240,728 1240,720 1238,717ZM1426,531 1423,536 1417,548 1410,556 1409,560 1411,562 1414,564 1420,564 1423,562 1425,554 1435,542 1435,536 1432,533 1430,531ZM1221,332 1222,332 1238,332 1234,338 1228,339 1223,338ZM1457,332 1460,332 1467,332 1462,334ZM1620,332 1622,332 1630,332 1628,335ZM1714,332 1714,332 1725,332 1720,335 1717,334ZM1878,332 1880,332 1884,332 1882,333ZM2010,332 2012,332 2027,332 2021,338 2014,339 2011,337ZM258,340 262,339 265,340 265,344 261,346 257,346 256,344ZM2041,344 2044,346 2045,352 2045,358 2042,362 2041,368 2044,370 2044,376 2047,380 2046,386 2049,388 2046,404 2048,404 2051,404 2053,422 2056,424 2056,430 2059,434 2059,436 2062,440 2062,443 2064,442 2065,436 2068,433 2072,434 2075,440 2074,442 2072,445 2068,446 2066,444 2065,448 2068,452 2067,454 2071,460 2066,467 2054,478 2047,490 2042,492 2040,494 2040,500 2036,506 2039,512 2039,514 2036,517 2032,517 2024,514 2012,513 2006,512 2000,506 2000,503 2006,494 2013,488 2012,485 2008,484 2000,487 1996,486 1996,484 1996,470 1999,466 1998,458 1999,434 2006,425 2006,421 2000,410 2002,394 1998,374 2001,370 2001,364 2012,353 2018,354 2020,351 2024,351 2026,354 2030,353 2033,356 2036,349ZM2186,358 2198,358 2198,386 2193,382 2188,374 2186,364ZM242,382 242,380 246,382 248,386 252,410 250,422 248,426 242,430 242,417 244,415 246,410 244,402 242,399ZM541,388 548,387 550,388 552,392 550,395 546,400 549,410 547,412 542,413 537,412 533,410 532,404 533,397ZM1966,388 1970,389 1970,392 1969,394 1966,397 1964,397 1962,394 1961,392ZM2126,388 2130,388 2131,392 2128,393 2126,392ZM1973,418 1976,418 1977,422 1976,425 1971,424 1970,422ZM2097,418 2098,417 2099,422 2098,422ZM2101,424 2102,424 2102,424ZM2103,428 2104,426 2112,434 2110,434 2108,434 2104,431ZM366,458 368,456 370,456 374,460 370,466 368,468 366,466 365,464ZM2176,472 2182,471 2186,472 2189,476 2190,478 2189,482 2186,483 2180,483 2175,478 2175,476ZM1864,478 1868,479 1869,482 1868,485 1864,484 1863,482ZM1944,494 1949,494 1955,497 1960,509 1960,515 1958,517 1955,514 1953,509 1950,506 1943,500 1941,496ZM242,524 242,521 244,523 245,526 244,530 242,532ZM1888,524 1892,521 1894,523 1900,531 1915,538 1915,542 1898,562 1888,564 1876,563 1874,562 1865,550 1863,548 1864,542 1865,538 1870,533 1882,527ZM2195,544 2198,544 2198,557 2192,555 2190,554 2191,548ZM1983,556 1988,556 1991,562 1988,566 1988,574 1984,577 1981,577 1978,574 1975,568 1978,560ZM1911,562 1916,560 1918,562 1916,566 1912,566ZM2140,566 2144,563 2146,563 2148,566 2148,568 2146,572 2144,573 2140,572 2139,568ZM1843,592 1846,593 1848,596 1844,598 1841,596ZM2086,592 2090,592 2095,596 2094,598 2086,603 2084,598 2084,596ZM2106,592 2108,591 2110,592 2110,597 2108,600 2105,598 2104,596ZM1863,596 1876,594 1879,596 1878,598 1870,602 1866,610 1862,614 1860,614 1858,609 1857,602 1858,598ZM2083,604 2084,604 2086,608 2086,610 2085,614 2080,615 2077,614 2076,610 2076,608ZM2039,608 2042,606 2044,607 2045,608 2045,610 2042,611ZM1706,610 1712,612 1714,616 1715,626 1712,628 1708,629 1706,627 1701,620 1702,614ZM2176,614 2180,614 2181,616 2180,621 2176,621 2176,620 2175,616ZM2102,616 2108,615 2109,616 2110,620 2107,622 2102,626 2099,622ZM1802,622 1804,620 1808,621 1813,626 1814,629 1807,628 1803,626ZM755,628 758,627 759,628 758,630ZM547,632 550,629 554,630 558,634 558,638 556,640 550,642 548,640 546,638ZM707,632 710,629 712,629 718,634 719,644 718,646 716,648 712,648 708,644ZM2057,638 2060,636 2062,636 2063,638 2062,642 2060,645 2056,645 2056,644ZM628,646 632,646 632,646 628,649ZM623,650 626,649 628,650 626,650ZM2163,664 2168,663 2170,664 2173,670 2170,673 2164,672 2162,670 2162,669ZM1401,688 1406,687 1410,688 1414,692 1415,694 1412,697 1402,696 1399,694 1398,692ZM1727,688 1730,687 1734,688 1736,692 1735,698 1732,698 1726,692ZM543,704 548,702 553,706 555,710 554,714 550,714 544,710 543,706ZM1899,712 1900,712 1904,713 1905,716 1896,716ZM383,728 386,727 404,733 440,740 466,748 471,754 476,757 482,757 490,756 495,770 495,778 494,783 490,785 476,787 466,790 464,789 460,784 454,773 438,760 430,758 418,758 410,752 406,752 395,760 385,764 379,766 377,770 380,771 382,775 388,788 394,794 406,800 407,802 406,805 404,809 400,810 376,807 370,809 366,814 362,826 350,850 348,860 362,876 364,878 376,881 382,886 384,890 384,902 392,920 389,928 385,934 376,940 362,947 358,958 343,974 343,988 346,993 350,993 354,982 359,976 376,969 388,967 394,964 396,962 398,952 397,938 398,934 400,930 410,926 418,917 421,917 434,929 447,938 450,940 452,947 454,951 472,959 482,959 494,955 502,955 505,953 507,950 509,940 507,934 500,931 490,931 481,936 478,936 470,932 462,926 461,922 465,920 472,918 484,922 494,920 500,921 514,928 520,929 526,927 542,919 550,918 554,920 558,926 563,928 568,939 572,939 584,935 592,946 598,949 608,952 616,952 622,953 636,964 639,979 638,987 628,996 622,1004 616,1008 614,1006 604,997 598,996 593,998 590,1000 586,1011 584,1011 578,1006 572,1005 563,1006 551,1022 544,1028 540,1034 537,1048 535,1054 520,1065 514,1067 508,1067 508,1070 508,1078 512,1083 520,1084 548,1079 549,1082 549,1094 548,1096 544,1099 538,1099 526,1093 520,1095 518,1093 512,1092 508,1095 494,1095 490,1094 488,1088 484,1086 470,1084 446,1064 446,1058 443,1054 446,1052 446,1042 449,1028 449,1022 446,1017 440,1013 436,1014 428,1020 424,1020 416,1018 410,1018 406,1016 405,1012 402,1010 402,1006 394,999 383,998 380,992 376,989 370,991 361,998 356,998 352,1001 334,1001 330,1000 328,999 310,1003 296,1001 268,1002 260,1000 262,994 259,982 259,970 259,962 263,950 263,946 250,920 251,914 258,904 262,892 262,890 256,878 258,844 261,836 258,830 250,824 250,820 257,814 258,808 256,806 248,800 247,796 247,794 252,782 253,764 255,754 260,749 266,747 284,751 285,754 285,764 286,767 290,769 302,767 304,769 307,772 307,782 310,784 314,783 326,773 338,758 356,752 361,748 368,739ZM464,984 462,986 461,988 463,992 472,993 482,998 484,999 486,998 486,994 482,989 478,988 470,988ZM488,1017 487,1022 490,1027 493,1028 496,1028 496,1024 494,1020 490,1017ZM320,960 317,968 318,974 322,979 326,981 328,980 329,970 326,965ZM329,919 324,922 326,927 328,928 332,927 334,922 332,920ZM1590,730 1592,730 1592,730 1592,731ZM493,748 494,748 497,748 494,752ZM1955,752 1958,750 1966,750 1971,752 1973,754 1970,758 1960,758 1956,754ZM1884,766 1892,764 1898,764 1904,766 1907,770 1909,776 1906,785 1904,787 1892,791 1886,788 1883,784 1881,778 1882,770ZM1648,770 1652,767 1656,770 1657,776 1654,780 1652,780 1648,777 1647,772ZM2004,788 2008,785 2014,787 2016,794 2016,796 2014,799 2011,799 2006,796 2003,790ZM2141,794 2144,792 2146,792 2148,794 2146,799 2143,800 2140,796ZM2079,800 2080,797 2083,800 2083,802 2080,804ZM1838,802 1844,801 1853,803 1856,808 1855,814 1850,819 1844,820 1840,820 1838,815 1836,808ZM1681,806 1684,805 1689,806 1688,809 1684,810 1682,809ZM1942,814 1945,814 1946,818 1942,821 1941,820 1940,818ZM1672,818 1676,817 1677,818 1677,820 1676,824 1672,826 1668,826 1666,824 1666,822ZM2152,830 2156,829 2156,833 2152,833ZM402,848 404,846 406,847 410,852 410,855 406,858 404,858 402,856 401,850ZM2193,854 2198,852 2198,858 2192,857ZM1864,856 1870,855 1873,856 1873,860 1868,863 1864,863 1863,862 1862,860ZM1017,868 1022,867 1025,868 1025,872 1023,875 1018,878 1016,877 1015,874 1015,872ZM1672,868 1678,867 1689,868 1694,874 1695,880 1691,883 1671,878 1669,874ZM242,872 242,870 243,874 242,877ZM1926,878 1930,876 1936,876 1941,880 1941,884 1936,884 1924,883 1923,880ZM1178,880 1184,879 1190,880 1201,890 1204,898 1203,904 1201,908 1192,912 1186,912 1176,902 1171,896 1169,890 1169,886ZM1805,886 1808,886 1810,890 1808,894 1804,892 1803,890ZM2195,896 2198,894 2198,906 2191,904 2186,902 2188,901ZM2176,902 2180,901 2185,902 2185,904 2180,906 2174,906 2172,904ZM1931,910 1934,908 1940,909 1941,914 1940,916 1936,918 1934,917ZM1731,920 1736,918 1740,920 1741,922 1738,928 1736,929 1732,926ZM1702,922 1706,922 1706,926 1700,932 1694,938 1687,938ZM1648,926 1649,926 1648,927ZM660,934 662,932 670,934 673,938 672,940 668,944 664,942 662,938ZM2002,934 2002,933 2006,933 2012,944 2013,950 2012,952 2008,951 2006,946 2002,940ZM891,944 892,943 895,944 892,945ZM1083,946 1088,944 1090,944 1094,946 1100,956 1103,964 1100,975 1094,979 1072,984 1064,988 1054,998 1052,993 1051,980 1046,975 1043,968 1043,958 1044,952 1049,950 1060,948 1069,950 1076,954 1078,953ZM1058,967 1054,970 1053,974 1053,976 1054,979 1058,976 1061,970ZM1779,946 1784,944 1790,946 1792,952 1790,958 1786,958 1780,952 1779,950ZM242,956 242,955 242,956 242,956ZM1879,958 1882,956 1888,958 1890,962 1890,964 1887,970 1887,980 1886,980 1882,980 1878,970 1877,965ZM667,974 669,976 668,980 664,982 664,976ZM1558,980 1561,979 1562,982 1560,988 1560,994 1554,1006 1556,1010 1570,1019 1583,1024 1584,1030 1584,1036 1581,1040 1582,1046 1579,1048 1579,1052 1573,1058 1573,1060 1564,1067 1550,1068 1539,1058 1539,1054 1533,1048 1533,1046 1530,1042 1532,1017 1537,1012 1538,1010 1533,1000 1536,998 1536,994 1543,988 1543,986 1546,982 1556,982ZM1700,988 1704,988 1705,992 1700,996 1696,996 1696,992ZM2170,988 2170,987 2174,987 2178,994 2177,1000 2174,1003 2170,1002 2169,998ZM664,998 668,996 670,996 680,1004 695,1004 698,1010 698,1016 697,1018 691,1024 686,1028 676,1031 674,1030 666,1018 661,1006 662,1000ZM1882,1000 1886,1000 1886,1000 1886,1002 1883,1003ZM2104,1010 2108,1008 2110,1008 2113,1009 2114,1012 2110,1017 2108,1018 2104,1016 2103,1012ZM264,1012 268,1012 269,1016 266,1018 262,1017 262,1016ZM614,1016 616,1013 620,1014 626,1017 629,1022 629,1024 625,1033 622,1038 620,1039 615,1036 612,1030 612,1022ZM2029,1016 2032,1015 2040,1018 2043,1022 2042,1024 2036,1028 2030,1028 2027,1022ZM2085,1016 2087,1016 2089,1018 2086,1028 2084,1031 2080,1032 2076,1030 2074,1028 2076,1022 2080,1017ZM1484,1018 1490,1018 1494,1028 1490,1034 1486,1034 1474,1044 1472,1044 1466,1050 1462,1050 1460,1053 1448,1053 1444,1057 1436,1057 1432,1060 1430,1060 1426,1062 1418,1062 1408,1057 1406,1057 1400,1061 1396,1061 1381,1048 1378,1042 1378,1036 1381,1034 1388,1031 1412,1031 1426,1029 1444,1033 1474,1024ZM1690,1022 1694,1020 1698,1024 1696,1030 1694,1032 1690,1031 1688,1028ZM823,1024 832,1024 838,1028 838,1030 832,1046 830,1049 826,1049 814,1048 812,1047 812,1044 817,1036 819,1028ZM1221,1030 1226,1029 1228,1029 1230,1030 1230,1034 1222,1040 1220,1042 1222,1049 1226,1049 1228,1047 1236,1034 1240,1032 1270,1032 1275,1036 1276,1042 1274,1047 1270,1049 1262,1048 1258,1052 1256,1070 1256,1082 1260,1088 1265,1094 1265,1096 1259,1102 1259,1106 1254,1112 1253,1118 1257,1120 1257,1124 1268,1136 1268,1138 1272,1148 1273,1166 1275,1172 1280,1178 1286,1180 1292,1179 1300,1174 1304,1173 1310,1178 1312,1180 1312,1184 1315,1190 1312,1196 1312,1198 1318,1210 1322,1212 1324,1218 1316,1226 1313,1232 1310,1228 1306,1227 1298,1227 1294,1229 1290,1238 1278,1244 1278,1250 1287,1258 1288,1262 1286,1264 1270,1270 1264,1267 1258,1266 1250,1276 1246,1277 1240,1275 1228,1265 1226,1264 1222,1265 1210,1278 1198,1272 1184,1270 1168,1259 1154,1257 1138,1262 1130,1263 1120,1254 1118,1253 1114,1253 1111,1258 1111,1276 1108,1285 1106,1288 1094,1292 1091,1294 1089,1298 1090,1304 1100,1316 1100,1318 1093,1328 1088,1332 1082,1335 1076,1333 1066,1329 1064,1312 1061,1310 1061,1306 1066,1301 1068,1294 1071,1292 1072,1276 1069,1274 1070,1269 1082,1270 1084,1267 1085,1262 1078,1251 1072,1248 1066,1248 1065,1244 1061,1240 1061,1238 1058,1234 1060,1228 1057,1226 1057,1216 1054,1214 1054,1210 1054,1205 1064,1211 1070,1210 1072,1208 1073,1202 1076,1197 1085,1196 1088,1190 1088,1184 1085,1172 1079,1162 1076,1154 1070,1146 1064,1132 1054,1122 1052,1123 1046,1127 1040,1129 1031,1126 1024,1120 992,1135 986,1126 982,1123 968,1118 967,1114 969,1112 976,1104 992,1101 994,1098 1001,1088 1016,1080 1028,1079 1040,1073 1042,1073 1052,1077 1060,1073 1070,1075 1090,1076 1100,1080 1102,1079 1122,1070 1132,1058 1154,1050 1162,1049 1166,1050 1172,1058 1178,1059 1183,1054 1185,1052 1185,1046 1190,1039 1198,1036 1214,1039 1216,1038ZM1286,1204 1283,1208 1283,1210 1288,1215 1292,1215 1294,1210 1294,1208 1292,1204ZM1114,1111 1109,1114 1109,1120 1114,1126 1120,1127 1124,1126 1126,1123 1130,1118 1130,1114 1129,1112 1124,1110ZM1142,1156 1132,1159 1120,1159 1108,1166 1106,1169 1105,1174 1113,1186 1121,1210 1119,1216 1120,1217 1132,1216 1138,1214 1150,1204 1154,1203 1166,1206 1174,1204 1183,1198 1188,1190 1188,1184 1186,1178 1183,1172 1177,1166 1168,1161 1160,1160 1148,1155ZM1184,1068 1181,1070 1180,1072 1180,1076 1186,1076 1190,1076 1193,1072 1192,1070 1190,1068ZM1220,1056 1218,1060 1220,1067 1222,1070 1230,1070 1232,1066 1231,1064 1222,1055ZM1168,1240 1166,1242 1163,1246 1166,1257 1168,1255 1172,1246 1172,1242ZM2112,1036 2116,1034 2120,1034 2122,1038 2124,1042 2123,1046 2120,1049 2114,1050 2110,1048 2109,1046 2109,1042ZM355,1040 358,1038 362,1040 363,1042 362,1044 358,1044 355,1042ZM774,1052 778,1051 781,1052 784,1054 784,1058 779,1060 776,1059 772,1054ZM1993,1052 1997,1054 1998,1058 1996,1061 1994,1059 1990,1054ZM1291,1054 1292,1054 1294,1058 1292,1059 1289,1058ZM1582,1058 1586,1058 1589,1060 1589,1064 1586,1067 1582,1067 1579,1064 1578,1060ZM288,1060 290,1060 290,1064 289,1064ZM549,1064 554,1061 557,1064 557,1070 554,1075 550,1075 549,1072 548,1066ZM1438,1064 1442,1061 1444,1062 1446,1066 1444,1069 1441,1070 1439,1066ZM1624,1064 1624,1063 1626,1064 1624,1064ZM315,1070 317,1070 318,1072 316,1074 313,1072 314,1070ZM391,1070 394,1067 400,1069 404,1072 405,1076 404,1078 400,1081 394,1081 391,1076ZM1923,1070 1928,1068 1934,1069 1944,1078 1946,1082 1942,1082 1928,1077 1923,1072ZM679,1072 686,1071 687,1072 688,1076 686,1079 680,1079 677,1076ZM873,1072 877,1070 880,1072 880,1076 878,1080 874,1080 872,1078 872,1076ZM713,1076 716,1075 719,1076 716,1079ZM1342,1076 1342,1075 1343,1076 1342,1076ZM1393,1078 1396,1077 1400,1077 1402,1082 1401,1084 1396,1084 1393,1082ZM1633,1078 1636,1076 1642,1077 1651,1082 1653,1084 1653,1088 1649,1090 1646,1092 1640,1091 1634,1089 1632,1088 1631,1084ZM1350,1084 1352,1082 1354,1082 1358,1083 1360,1086 1363,1094 1363,1112 1360,1114 1360,1118 1354,1123 1354,1126 1348,1131 1342,1128 1334,1116 1330,1116 1324,1116 1312,1124 1306,1125 1303,1124 1298,1109 1294,1108 1288,1107 1287,1106 1289,1102 1288,1100 1285,1100 1286,1096 1292,1097 1298,1093 1300,1094 1304,1093 1306,1090 1312,1090 1318,1094 1322,1104 1323,1106 1328,1107 1330,1106 1342,1096ZM316,1088 319,1090 319,1096 316,1100 314,1101 310,1100 310,1093 314,1088ZM275,1094 278,1091 280,1092 283,1096 282,1100 280,1101 278,1101 275,1096ZM571,1094 578,1092 596,1093 610,1097 616,1102 622,1118 628,1123 640,1130 650,1132 658,1132 664,1128 668,1136 676,1146 680,1149 692,1150 695,1154 695,1156 688,1164 682,1167 677,1166 677,1156 676,1155 674,1155 670,1160 673,1166 670,1168 656,1172 646,1178 644,1177 634,1170 632,1170 626,1175 622,1176 620,1175 608,1166 598,1162 590,1151 581,1144 579,1142 578,1126 573,1118 573,1108 569,1100 569,1096ZM1610,1106 1612,1104 1616,1110 1616,1115 1612,1118 1609,1118 1606,1114 1606,1110ZM1532,1108 1534,1107 1538,1109 1541,1114 1540,1118 1538,1117ZM739,1112 746,1111 754,1112 768,1120 778,1123 794,1120 808,1110 812,1112 815,1118 816,1124 808,1134 806,1137 802,1137 794,1126 790,1124 784,1125 780,1130 774,1142 754,1150 752,1150 748,1147 736,1120 735,1114ZM424,1120 428,1120 429,1120 431,1124 430,1125 428,1126 424,1124ZM372,1124 374,1123 376,1126 374,1128ZM2023,1124 2024,1122 2027,1124 2024,1125ZM1357,1136 1358,1134 1360,1134 1364,1138 1364,1143 1360,1144 1356,1142 1355,1138ZM1766,1136 1768,1133 1774,1133 1779,1136 1780,1138 1779,1142 1774,1145 1772,1147 1768,1146 1766,1142ZM2115,1136 2120,1134 2121,1136 2122,1138 2121,1142 2114,1145 2108,1149 2103,1148 2096,1142 2098,1138 2108,1140 2110,1139ZM1279,1138 1282,1138 1286,1138 1286,1142 1281,1142ZM493,1142 496,1139 498,1142 496,1143ZM2127,1142 2132,1142 2135,1144 2133,1148 2128,1148 2125,1144ZM2052,1144 2056,1143 2068,1148 2064,1154 2060,1155 2053,1150 2052,1148ZM514,1150 518,1150 520,1151 524,1156 526,1162 525,1166 520,1169 514,1168 511,1166 511,1156ZM2194,1150 2198,1149 2198,1159 2193,1156 2192,1154ZM1873,1154 1876,1152 1880,1156 1879,1160 1876,1161 1874,1158ZM1821,1156 1826,1155 1828,1156 1829,1160 1828,1162 1826,1164 1822,1162 1819,1160ZM739,1160 746,1159 747,1162 746,1167 740,1170 735,1168 734,1166 735,1162ZM1645,1160 1648,1158 1654,1158 1658,1161 1660,1166 1658,1168 1654,1170 1642,1169 1641,1166ZM918,1166 922,1165 924,1172 920,1175 914,1174 914,1170ZM1690,1166 1690,1164 1694,1164 1694,1166 1694,1167 1690,1167ZM496,1174 500,1172 502,1173 503,1174 502,1178 496,1179 494,1178ZM938,1187 944,1186 946,1190 944,1197 940,1200 934,1198 928,1192 929,1190 932,1188ZM1140,1186 1144,1185 1146,1186 1144,1189 1142,1190ZM1433,1186 1436,1185 1438,1188 1443,1202 1442,1210 1438,1212 1436,1210 1432,1196 1432,1190ZM780,1190 782,1189 785,1190 788,1194 789,1198 788,1203 784,1202 781,1198 780,1192ZM298,1192 302,1190 304,1191 310,1197 311,1204 308,1209 304,1209 303,1208ZM445,1192 446,1192 446,1192 446,1193ZM1627,1196 1630,1195 1633,1199 1636,1204 1636,1208 1634,1209 1630,1208 1627,1201ZM964,1198 968,1198 970,1202 972,1208 971,1210 967,1214 962,1215 958,1214 957,1210 957,1208 960,1202ZM414,1210 419,1210 419,1214 416,1215 413,1214ZM1873,1210 1876,1209 1880,1209 1881,1210 1881,1214 1876,1215 1874,1214ZM792,1216 794,1214 796,1217 798,1222 796,1227 794,1228 791,1238 784,1241 776,1238 774,1234 776,1231 793,1228ZM268,1220 272,1218 274,1219 275,1222 271,1226 268,1223ZM369,1220 370,1217 374,1217 379,1220 381,1222 379,1226 374,1226 370,1222ZM673,1222 676,1221 681,1222 683,1226 683,1228 681,1232 676,1232 670,1231 669,1228ZM981,1222 982,1222 986,1222 987,1226 986,1228 982,1232 980,1233 976,1232 977,1228ZM817,1232 820,1229 824,1229 830,1232 832,1234 829,1238 820,1240 816,1238ZM559,1234 562,1232 574,1236 586,1234 602,1240 610,1238 614,1239 625,1250 626,1252 626,1256 622,1258 616,1259 602,1257 590,1258 584,1254 574,1241 572,1239 562,1240 560,1238ZM919,1238 922,1239 933,1246 934,1250 933,1252 926,1252 921,1250 918,1244 918,1240ZM1747,1244 1750,1241 1754,1241 1762,1244 1762,1246 1754,1250 1750,1250 1747,1246ZM1359,1252 1364,1250 1367,1252 1367,1256 1365,1258 1360,1261 1358,1258ZM2164,1252 2168,1251 2169,1252 2170,1256 2168,1258 2166,1258 2163,1256ZM553,1258 556,1256 559,1258 561,1264 560,1267 556,1267 554,1265 552,1262ZM2086,1264 2090,1262 2092,1262 2099,1264 2110,1273 2120,1273 2126,1276 2129,1280 2129,1282 2126,1284 2120,1285 2110,1281 2108,1283 2101,1292 2098,1293 2092,1293 2088,1288 2090,1280 2086,1269ZM883,1268 886,1265 888,1268 886,1268ZM1018,1268 1022,1268 1028,1274 1039,1280 1040,1286 1038,1292 1038,1294 1045,1304 1044,1306 1042,1308 1036,1306 1022,1294 1020,1292 1020,1282 1017,1274 1017,1270ZM1158,1276 1166,1275 1169,1276 1170,1294 1166,1296 1160,1296 1150,1288 1149,1282 1150,1280ZM595,1280 602,1280 608,1285 611,1292 613,1300 611,1304 595,1310 593,1316 594,1322 592,1324 590,1326 586,1325 582,1322 582,1318 584,1316 591,1312 592,1310 591,1306 588,1304 588,1298 585,1294 585,1292 583,1288 584,1286 587,1282ZM854,1280 856,1277 860,1278 863,1280 864,1282 863,1288 860,1292 856,1291 855,1288 853,1282ZM261,1282 266,1280 269,1282 269,1292 266,1295 262,1295 260,1288ZM1210,1282 1210,1281 1223,1286 1222,1287 1220,1287 1214,1286ZM1509,1282 1514,1281 1514,1282 1511,1286 1510,1289 1510,1288ZM474,1286 482,1283 485,1286 488,1293 496,1294 500,1295 505,1300 506,1304 506,1308 502,1310 500,1311 490,1309 485,1294 471,1292 470,1288ZM916,1288 920,1286 926,1287 929,1292 928,1294 926,1297 920,1297 915,1294 914,1292ZM1428,1288 1430,1286 1432,1287 1435,1292 1436,1294 1432,1296 1430,1295 1428,1292ZM1957,1288 1958,1288 1960,1288 1962,1292 1961,1294 1958,1296 1956,1294 1955,1292ZM1177,1294 1184,1296 1186,1300 1187,1304 1184,1306 1181,1306 1176,1300 1174,1298ZM649,1300 656,1299 658,1301 664,1306 669,1318 668,1328 664,1328 650,1326 640,1328 638,1333 630,1358 622,1361 616,1356 610,1348 614,1343 615,1336 620,1329 632,1324 633,1322 633,1310 634,1308 644,1304ZM834,1300 836,1299 838,1298 841,1301 843,1306 842,1310 838,1309 835,1306 833,1304ZM391,1304 394,1302 399,1304 399,1306 398,1310 394,1311 392,1310 391,1306ZM1969,1306 1972,1304 1976,1305 1977,1306 1978,1310 1976,1312 1972,1312 1969,1310ZM449,1312 452,1310 455,1312 452,1314ZM1543,1312 1546,1312 1546,1315 1544,1315ZM847,1322 850,1321 852,1324 851,1328 848,1330 844,1329 844,1328ZM1483,1322 1487,1319 1492,1324 1497,1330 1498,1334 1496,1336 1492,1337 1485,1330 1483,1328ZM811,1328 812,1328 812,1331 811,1330ZM994,1340 998,1341 1005,1348 1004,1353 997,1357 994,1356 992,1355 990,1352 992,1343ZM1698,1340 1700,1339 1703,1340 1700,1340ZM1414,1346 1416,1348 1414,1351 1411,1348ZM2031,1348 2036,1348 2037,1352 2035,1354 2032,1354 2029,1352ZM274,1354 278,1353 279,1354 278,1358 274,1358ZM745,1354 748,1356 750,1358 748,1362 746,1363 740,1360 740,1358ZM688,1364 694,1362 700,1363 703,1366 703,1372 700,1375 698,1375 692,1373 687,1370 686,1366ZM859,1364 860,1362 862,1362 865,1366 862,1373 860,1372ZM1066,1364 1070,1364 1071,1366 1066,1368 1065,1366ZM242,1370 242,1368 248,1369 250,1376 248,1389 244,1394 242,1396ZM581,1370 584,1368 588,1370 588,1372 586,1375 583,1376 580,1372ZM898,1370 902,1368 904,1370 906,1372 905,1376 900,1376 898,1372ZM2113,1370 2116,1368 2119,1370 2119,1372 2116,1376 2114,1373ZM1882,1376 1886,1374 1888,1376 1890,1382 1888,1383 1882,1379ZM2040,1376 2048,1374 2050,1376 2051,1378 2050,1384 2047,1388 2042,1390 2038,1390 2036,1384 2037,1378ZM639,1384 640,1384 644,1384 640,1388 638,1388ZM657,1384 662,1383 668,1385 672,1390 671,1394 668,1395 663,1394 658,1388ZM808,1388 812,1385 814,1386 816,1390 814,1397 812,1397 808,1395 807,1390ZM1135,1390 1142,1389 1143,1390 1142,1394 1132,1394ZM554,1396 556,1395 564,1396 564,1400 556,1400ZM1531,1396 1532,1396 1535,1400 1534,1403 1532,1406 1528,1406 1527,1402 1527,1400ZM439,1400 440,1400 440,1400ZM778,1400 778,1399 778,1400ZM834,1402 836,1400 838,1401 841,1402 842,1406 837,1406ZM1645,1402 1646,1401 1646,1402ZM1315,1406 1316,1403 1318,1403 1321,1406 1320,1408 1318,1410 1316,1409ZM318,1408 320,1407 322,1406 322,1409 320,1410ZM769,1412 776,1410 777,1412 776,1414 772,1417 769,1418 767,1415ZM274,1414 278,1414 285,1424 286,1427 284,1430 280,1428 278,1425 274,1418ZM630,1414 634,1414 644,1419 652,1420 656,1424 656,1429 652,1430 644,1427 634,1428 630,1426 627,1424 627,1420ZM1932,1414 1934,1414 1936,1415 1941,1420 1942,1426 1940,1430 1936,1430 1932,1426 1930,1418ZM356,1418 362,1416 364,1418 364,1420 360,1426 356,1428 353,1426 353,1424ZM436,1424 440,1422 442,1424 446,1430 444,1432 440,1433 436,1431 435,1426ZM1856,1424 1858,1421 1862,1421 1867,1424 1870,1426 1870,1430 1869,1432 1864,1436 1858,1434 1856,1430ZM1570,1426 1574,1425 1575,1426 1574,1428ZM1744,1426 1748,1425 1750,1426 1748,1429ZM1257,1430 1258,1429 1262,1430 1263,1432 1262,1435 1257,1436 1256,1433ZM924,1432 940,1431 945,1432 948,1436 948,1438 946,1441 938,1447 932,1455 928,1457 926,1456 920,1454 918,1450 917,1448ZM1390,1432 1391,1432 1391,1438 1388,1442 1384,1442 1386,1436ZM1166,1436 1178,1433 1190,1438 1198,1440 1199,1448 1202,1450 1198,1460 1198,1461 1205,1462 1208,1466 1206,1486 1208,1490 1216,1494 1218,1498 1210,1506 1204,1506 1202,1509 1186,1503 1156,1478 1136,1469 1132,1465 1130,1456 1132,1446 1148,1444ZM1834,1436 1838,1434 1840,1436 1843,1438 1843,1442 1838,1444 1834,1442 1833,1438ZM1123,1438 1126,1441 1126,1442 1123,1442ZM988,1442 992,1440 993,1442 994,1444 992,1447 988,1444ZM588,1448 592,1446 596,1448 598,1450 597,1454 596,1456 592,1458 588,1456 586,1454 586,1450ZM674,1448 676,1445 679,1448 676,1454 674,1450ZM1237,1448 1240,1445 1245,1448 1247,1454 1245,1456 1244,1458 1238,1454 1236,1450ZM1807,1448 1811,1448 1813,1450 1801,1457 1796,1466 1792,1467 1791,1466 1792,1462 1798,1450ZM466,1454 470,1452 472,1453 473,1456 469,1456ZM1886,1456 1888,1455 1892,1454 1892,1456 1888,1459ZM1297,1460 1298,1458 1300,1458 1303,1462 1301,1466 1298,1465 1296,1462ZM1723,1462 1730,1460 1732,1460 1735,1462 1735,1466 1732,1469 1723,1468 1718,1465ZM1581,1466 1582,1465 1585,1465 1585,1469 1582,1473 1580,1471 1579,1468ZM868,1468 872,1467 875,1468 872,1472 868,1472ZM934,1472 938,1470 939,1472 940,1474 938,1477 934,1475ZM1306,1472 1306,1470 1310,1469 1310,1472 1306,1475ZM978,1474 980,1474 981,1474 982,1476 983,1480 980,1485 976,1485 974,1480 975,1478ZM427,1478 428,1476 430,1475 434,1478 436,1484 434,1489 430,1489 428,1488 426,1484ZM1893,1480 1894,1479 1898,1479 1898,1480 1898,1482 1894,1482ZM2023,1490 2032,1490 2036,1494 2030,1504 2028,1516 2024,1520 2020,1520 2012,1516 2006,1510 2005,1508 2014,1499 2018,1492 2020,1490ZM2136,1490 2138,1487 2138,1490 2138,1492ZM639,1492 644,1491 645,1492 645,1504 651,1514 651,1516 640,1521 630,1522 622,1530 616,1530 614,1526 615,1522 625,1516 629,1502 634,1496ZM1755,1492 1758,1492 1760,1494 1760,1496 1756,1499 1753,1496ZM2099,1498 2104,1496 2108,1496 2109,1498 2108,1506 2104,1508 2102,1507 2098,1503ZM242,1502 244,1504 242,1519 242,1516ZM272,1502 274,1500 278,1501 278,1506 274,1506ZM1866,1502 1868,1502 1868,1504 1868,1508 1864,1512 1863,1508 1863,1504ZM492,1514 494,1511 496,1513 500,1516 502,1523 500,1525 494,1526 491,1526 490,1522ZM1178,1513 1180,1511 1186,1512 1192,1516 1192,1520 1190,1523 1184,1523 1178,1520 1177,1516ZM456,1516 460,1515 464,1515 472,1522 488,1527 489,1528 487,1534 482,1538 477,1538 470,1529 455,1520ZM2146,1516 2150,1515 2150,1522 2146,1525 2142,1526 2141,1522ZM434,1520 440,1518 446,1519 448,1520 448,1522 442,1528 434,1529 432,1528 430,1526 431,1522ZM2123,1520 2128,1519 2130,1522 2128,1524 2126,1523 2124,1522ZM1878,1522 1883,1522 1885,1526 1884,1532 1880,1534 1871,1534 1869,1532ZM379,1526 388,1528 387,1532 382,1535 380,1534 377,1528ZM1063,1528 1070,1528 1074,1532 1075,1534 1073,1538 1070,1540 1066,1539 1063,1534 1062,1532ZM1087,1532 1091,1534 1090,1536 1086,1538 1083,1534ZM1235,1538 1240,1535 1245,1538 1244,1554 1240,1557 1232,1555 1228,1552 1227,1550 1229,1544ZM1425,1540 1427,1540 1426,1542ZM1692,1540 1694,1539 1697,1544 1698,1550 1694,1553 1690,1553 1690,1546ZM2104,1540 2104,1538 2108,1539 2116,1546 2116,1550 2114,1552 2110,1551 2106,1546ZM697,1546 698,1545 701,1546 700,1548ZM799,1546 802,1546 806,1548 807,1550 806,1552 802,1554 797,1552 797,1550ZM1990,1550 1994,1549 1996,1549 1995,1556 1990,1560 1988,1561 1984,1560 1983,1556 1985,1552ZM2028,1552 2032,1551 2035,1552 2036,1556 2033,1562 2033,1570 2030,1572 2027,1568ZM283,1556 286,1553 290,1554 290,1556 290,1557 286,1557ZM432,1556 434,1554 434,1556ZM1901,1556 1910,1553 1911,1556 1898,1571 1894,1573 1881,1570 1876,1568 1876,1564 1880,1563 1892,1557ZM723,1558 728,1557 730,1558 731,1562 722,1568 716,1576 712,1577 709,1570 709,1562 710,1560 712,1559 718,1560ZM493,1568 496,1565 499,1565 503,1568 502,1570 500,1572 495,1570ZM958,1574 958,1573 962,1574 958,1577 956,1577ZM2004,1574 2006,1572 2008,1572 2012,1576 2013,1586 2017,1592 2016,1594 2014,1594 2010,1588 2006,1584 2004,1580ZM253,1576 254,1576 254,1577ZM1669,1576 1670,1574 1672,1576 1670,1577ZM502,1580 502,1578 503,1580ZM1120,1580 1121,1580 1120,1580ZM1480,1580 1484,1579 1487,1582 1484,1592 1486,1593 1498,1590 1502,1592 1502,1594 1504,1598 1503,1606 1498,1615 1496,1618 1492,1617 1478,1602 1477,1598 1480,1594ZM866,1592 868,1589 872,1589 874,1592 874,1598 872,1600 868,1600 866,1598 865,1594ZM1906,1592 1906,1591 1907,1592 1906,1592ZM1795,1606 1796,1605 1799,1606 1799,1610 1802,1612 1802,1617 1798,1618 1793,1616 1792,1612ZM1296,1610 1301,1610 1304,1612 1305,1616 1304,1617 1300,1617 1298,1616 1296,1612ZM433,1612 437,1616 436,1622 434,1622 432,1618 431,1616ZM535,1612 538,1611 544,1612 546,1616 543,1618 538,1620 535,1616ZM320,1616 322,1613 326,1614 328,1616 328,1620 326,1622 322,1622ZM1027,1628 1030,1628 1032,1630 1032,1634 1030,1636 1028,1635 1024,1631ZM2192,1627 2198,1626 2198,1635 2192,1633 2190,1630ZM852,1636 856,1635 862,1635 866,1636 868,1640 866,1642 856,1646 854,1645 852,1642 851,1640ZM697,1640 700,1638 703,1640 704,1644 700,1646 700,1646 698,1644ZM267,1642 268,1641 272,1640 274,1641 280,1646 280,1648 274,1652 268,1652 266,1648ZM2107,1642 2110,1640 2114,1641 2116,1646 2115,1648 2114,1650 2109,1648 2107,1646ZM485,1645 488,1644 490,1646 495,1652 494,1654 490,1657 488,1657 485,1654 483,1648ZM1647,1652 1654,1649 1658,1649 1662,1652 1662,1654 1656,1660 1652,1668 1648,1666 1646,1658 1646,1654ZM2062,1652 2066,1650 2069,1652 2071,1658 2069,1660 2062,1663 2061,1660 2060,1658ZM1673,1654 1676,1653 1678,1654 1679,1658 1676,1658ZM444,1666 446,1666 447,1670 446,1671 442,1672 441,1670ZM597,1666 598,1664 602,1665 603,1666 602,1670 598,1670ZM1493,1666 1498,1665 1503,1666 1504,1670 1502,1674 1498,1676 1486,1677 1485,1676 1486,1672ZM843,1670 844,1668 848,1669 848,1672 848,1676 844,1679 842,1678 841,1676 841,1672ZM1428,1672 1430,1671 1431,1672 1430,1674ZM1876,1678 1876,1677 1880,1678 1883,1682 1880,1683 1876,1682ZM416,1681 422,1680 424,1681 426,1684 424,1689 422,1691 416,1690 414,1684ZM1030,1682 1034,1682 1036,1684 1035,1687 1030,1694 1028,1695 1024,1694 1023,1688 1025,1684ZM1719,1684 1724,1687 1725,1690 1724,1694 1720,1695 1718,1694 1716,1690 1718,1685ZM242,1690 242,1688 245,1690 246,1694 244,1698 241,1700ZM678,1690 682,1688 686,1689 688,1692 692,1702 691,1706 688,1707 686,1707 680,1703 677,1696ZM386,1694 392,1693 398,1695 402,1700 401,1702 398,1706 392,1705 386,1700 385,1696ZM1068,1694 1072,1691 1075,1694 1074,1696 1070,1698 1067,1696ZM943,1696 950,1695 953,1696 955,1706 955,1708 953,1712 950,1711 942,1706 941,1702ZM368,1700 373,1700 372,1702 368,1705 365,1702ZM1545,1702 1546,1701 1550,1702 1550,1704ZM1593,1706 1594,1704 1601,1706 1604,1708 1604,1712 1598,1711 1594,1708ZM1169,1708 1174,1706 1177,1708 1174,1710ZM819,1714 824,1714 826,1717 824,1720 820,1720 818,1718ZM658,1718 662,1716 668,1720 669,1724 667,1730 664,1731 662,1730 653,1723 653,1720ZM1368,1718 1372,1717 1377,1718 1376,1720 1372,1722 1369,1720ZM1630,1720 1634,1719 1636,1720 1636,1722 1636,1724 1634,1724ZM1000,1724 1007,1721 1012,1722 1016,1726 1016,1732 1010,1735 1004,1733 1000,1730 999,1726ZM242,1726 244,1729 242,1731 242,1730ZM529,1726 532,1726 533,1726 532,1732 530,1734 526,1732 526,1730ZM742,1730 746,1729 758,1730 760,1731 761,1732 748,1744 742,1745 737,1742 735,1738 738,1732ZM1637,1730 1640,1727 1646,1728 1652,1732 1653,1736 1652,1738 1646,1745 1642,1746 1640,1745 1637,1742 1635,1736ZM1854,1730 1856,1729 1856,1730 1856,1730ZM1957,1730 1958,1729 1959,1730 1958,1731ZM2190,1730 2198,1729 2198,1747 2188,1751 2182,1752 2179,1750 2176,1748 2177,1745 2186,1732ZM319,1732 322,1734 324,1736 323,1738 320,1741 316,1738 316,1735ZM428,1732 430,1731 435,1732 430,1737 428,1736ZM1170,1732 1178,1732 1180,1734 1181,1748 1178,1751 1172,1752 1167,1750 1162,1745 1162,1742 1164,1738ZM1852,1732 1852,1732 1853,1732ZM802,1742 803,1742 802,1745 802,1744ZM1576,1744 1580,1744 1580,1748 1576,1748ZM873,1748 878,1746 880,1746 884,1748 885,1754 884,1756 880,1760 878,1762 874,1761 872,1757 871,1750ZM1949,1748 1952,1746 1954,1746 1960,1750 1961,1754 1959,1766 1954,1770 1949,1768 1947,1766 1947,1760ZM991,1754 994,1752 998,1754 1001,1760 1001,1766 998,1768 994,1768 990,1762 990,1760ZM913,1756 914,1756 917,1760 914,1763 910,1763 909,1760ZM945,1756 946,1755 950,1755 953,1760 951,1766 946,1769 944,1768 942,1766 943,1760ZM1159,1756 1160,1760 1156,1762 1154,1760ZM1494,1760 1498,1760 1500,1766 1496,1770 1490,1770 1488,1768 1487,1766 1490,1762ZM424,1762 428,1766 428,1767 424,1768 423,1766ZM1768,1768 1768,1768 1771,1768 1768,1771ZM1395,1774 1396,1774 1400,1776 1401,1780 1400,1783 1396,1784 1394,1781 1393,1778ZM589,1778 591,1778 592,1780 589,1780ZM2059,1778 2062,1776 2072,1780 2075,1784 2075,1786 2070,1793 2062,1795 2056,1792 2054,1790 2055,1786ZM406,1784 407,1784 406,1784ZM516,1784 518,1783 520,1784 522,1786 523,1790 520,1795 518,1795 514,1790 514,1786ZM1368,1784 1372,1782 1378,1781 1384,1784 1386,1786 1385,1790 1381,1792 1364,1798 1358,1793 1358,1790ZM895,1786 898,1784 902,1785 910,1792 911,1796 909,1798 904,1800 898,1800 896,1796 894,1792ZM1626,1786 1630,1786 1634,1789 1634,1792 1632,1796 1628,1796 1625,1795 1624,1790ZM589,1802 593,1804 592,1809 590,1811 586,1810 585,1808 584,1804 586,1802ZM523,1808 524,1806 526,1805 532,1808 536,1810 536,1814 536,1818 532,1820 526,1818 523,1814ZM673,1810 684,1816 686,1820 686,1826 682,1827 678,1822 674,1816ZM448,1816 452,1815 458,1818 462,1826 463,1828 460,1831 454,1831 447,1826 445,1822 445,1820ZM1111,1820 1114,1819 1118,1820 1121,1822 1120,1826 1115,1828 1112,1827 1110,1822ZM2140,1820 2144,1821 2146,1826 2148,1832 2146,1834 2141,1838 2134,1839 2133,1838 2134,1834ZM924,1838 928,1836 933,1838 934,1844 934,1846 932,1849 929,1849 924,1846 922,1844 922,1840ZM1178,1840 1180,1839 1184,1840 1185,1846 1184,1850 1179,1850 1176,1846ZM1482,1844 1486,1842 1490,1842 1492,1846 1490,1852 1486,1855 1484,1855 1481,1852 1481,1846ZM2193,1844 2198,1843 2198,1868 2195,1868 2196,1858 2191,1850 2190,1846ZM442,1846 444,1850 442,1851 442,1850ZM797,1846 800,1845 801,1846 802,1850 800,1852 796,1850ZM1163,1850 1168,1848 1172,1850 1171,1852 1168,1854 1164,1852ZM1011,1852 1012,1851 1016,1852 1012,1856ZM1743,1856 1748,1854 1750,1856 1760,1862 1764,1868 1737,1868 1741,1862ZM2086,1856 2090,1853 2093,1856 2094,1858 2092,1860 2090,1860ZM1201,1858 1206,1858 1209,1862 1210,1864 1208,1866 1204,1866 1202,1864ZM1562,1858 1568,1859 1571,1862 1571,1868 1550,1868 1554,1862ZM1362,1862 1366,1860 1372,1860 1376,1862 1377,1868 1357,1868ZM336,1864 340,1864 344,1868 333,1868ZM601,1864 604,1862 608,1864 610,1868 600,1868ZM1878,1864 1886,1863 1891,1864 1894,1868 1875,1868ZM1998,1864 2000,1863 2002,1862 2005,1868 1998,1868ZM536,1868 538,1866 542,1868 542,1868ZM757,1868 760,1866 765,1868 764,1868ZM1212,1868 1214,1867 1214,1868 1214,1868ZM1300,1868 1304,1866 1305,1868 1304,1868Z"/>
<path fill="#f4c6af" fill-rule="evenodd" d="M1107,350 1124,349 1148,351 1166,349 1216,349 1234,350 1246,354 1256,353 1274,357 1286,354 1298,354 1312,351 1328,350 1364,351 1382,350 1402,350 1426,352 1448,351 1474,356 1490,353 1508,355 1520,353 1540,358 1574,353 1588,355 1600,353 1618,352 1636,348 1652,352 1666,351 1706,352 1730,351 1748,355 1760,355 1786,352 1798,354 1826,354 1838,356 1856,352 1874,356 1898,352 1920,352 1918,356 1917,362 1912,382 1907,394 1888,422 1876,424 1872,428 1866,436 1862,439 1839,442 1816,452 1804,459 1790,464 1773,472 1762,481 1738,487 1730,492 1714,496 1706,501 1700,502 1694,501 1682,496 1660,497 1648,495 1630,489 1600,473 1598,470 1592,459 1589,457 1574,460 1568,460 1564,458 1556,445 1555,442 1557,436 1563,428 1568,424 1581,418 1587,412 1591,406 1590,400 1580,391 1574,380 1570,377 1556,372 1552,372 1526,385 1523,382 1521,376 1516,374 1508,374 1498,372 1484,375 1466,373 1462,376 1461,392 1463,424 1460,440 1459,451 1456,456 1450,459 1442,459 1430,465 1412,461 1402,464 1382,468 1370,475 1352,479 1340,480 1336,482 1335,488 1341,500 1340,506 1336,514 1329,524 1326,530 1316,539 1288,552 1282,550 1268,540 1252,535 1238,522 1228,517 1222,516 1216,518 1213,518 1210,514 1213,506 1211,488 1196,474 1183,466 1190,459 1197,454 1204,452 1216,452 1221,448 1223,442 1225,428 1229,418 1233,404 1244,388 1244,385 1240,381 1232,378 1226,378 1208,380 1196,387 1186,385 1180,385 1166,394 1156,403 1150,405 1108,399 1096,393 1090,393 1082,401 1080,404 1080,410 1088,416 1092,428 1096,434 1112,442 1113,446 1108,460 1106,463 1102,461 1100,453 1096,450 1094,449 1090,451 1088,460 1090,465 1094,467 1102,467 1112,471 1114,471 1118,470 1120,465 1121,451 1122,448 1124,448 1144,462 1150,464 1170,466 1169,470 1148,478 1132,491 1120,493 1112,499 1102,501 1088,497 1066,499 1046,504 1038,508 1035,512 1033,518 1032,538 1034,542 1042,548 1048,557 1054,561 1058,562 1070,556 1082,557 1094,555 1114,567 1126,575 1132,577 1135,574 1138,556 1142,551 1166,545 1172,546 1178,549 1186,549 1190,545 1191,538 1192,536 1196,534 1202,535 1216,539 1228,546 1244,549 1246,550 1254,560 1255,562 1251,580 1254,586 1258,592 1270,599 1280,602 1288,608 1294,607 1304,600 1306,600 1308,604 1310,614 1309,616 1282,626 1270,633 1246,642 1240,642 1222,636 1208,643 1196,646 1180,638 1178,639 1176,640 1174,650 1177,664 1175,676 1177,686 1180,688 1196,690 1204,694 1210,701 1216,704 1220,708 1221,718 1223,724 1224,730 1220,742 1216,745 1198,741 1178,734 1176,730 1177,722 1176,716 1172,706 1168,703 1166,702 1144,706 1132,712 1114,724 1112,728 1110,742 1106,747 1090,747 1076,752 1069,760 1066,773 1060,777 1036,777 1024,773 1013,778 994,781 982,787 968,790 946,802 938,817 932,822 917,818 910,812 908,812 896,818 890,825 885,832 884,842 877,856 868,870 862,876 863,880 867,886 868,890 867,892 862,895 848,893 829,886 811,874 802,865 783,860 781,856 790,850 791,848 791,844 776,835 766,828 760,827 718,822 710,818 700,809 698,808 686,808 680,804 670,791 644,767 632,761 610,757 604,754 602,749 598,736 592,731 584,726 580,718 582,710 589,698 598,690 604,688 616,690 628,699 632,699 650,702 656,702 674,698 698,689 712,687 725,682 734,682 748,684 788,676 796,672 812,658 818,655 838,659 856,654 866,657 878,655 898,655 914,650 928,652 944,651 950,652 956,655 964,663 970,666 988,663 998,664 1003,668 1006,676 1010,678 1016,679 1028,676 1034,677 1040,679 1046,686 1052,689 1060,688 1072,690 1082,687 1088,686 1100,689 1102,682 1105,680 1112,678 1114,674 1116,662 1111,650 1112,646 1114,644 1118,644 1130,652 1142,650 1144,648 1147,644 1146,640 1142,638 1124,638 1114,631 1112,630 1106,632 1090,646 1078,646 1070,649 1066,649 1054,629 1052,627 1048,626 1043,628 1042,638 1040,641 1036,642 1034,642 1024,636 1022,635 1016,637 1004,632 992,633 982,626 980,626 970,633 950,635 932,628 928,625 922,614 920,612 916,611 913,612 909,616 907,622 907,634 904,636 884,635 879,632 878,628 881,616 879,610 874,605 866,598 865,596 862,572 860,569 854,566 842,569 814,573 796,570 790,573 784,579 766,579 754,582 745,592 724,591 718,592 712,597 701,614 694,617 682,613 662,610 646,611 628,610 622,608 615,602 605,590 601,580 596,577 586,577 577,580 572,582 562,580 558,578 555,572 556,560 554,553 550,551 541,550 543,548 554,547 556,545 560,542 562,536 559,520 553,508 564,496 586,487 592,487 614,491 625,484 644,477 658,476 676,468 692,466 698,461 700,461 701,466 698,474 694,486 682,490 681,494 682,496 686,497 688,496 698,488 710,487 712,488 718,496 722,495 723,488 734,470 735,464 735,458 731,452 722,441 721,428 716,416 706,407 694,401 689,394 686,392 668,387 659,370 658,367 662,363 674,355 678,356 686,363 692,364 704,357 740,353 761,353 772,353 788,355 808,351 824,353 854,352 868,355 880,352 890,351 925,356 940,355 952,355 970,352 1016,354 1030,351 1054,352 1066,354 1078,351ZM1358,442 1355,446 1356,448 1360,450 1376,453 1378,451 1380,448 1379,446 1375,442 1364,440ZM1786,370 1784,374 1783,376 1786,380 1790,380 1792,376 1793,370 1790,369ZM1870,403 1869,406 1870,408 1871,406ZM1054,576 1052,584 1054,589 1064,591 1069,590 1069,586 1065,580 1058,575ZM1190,568 1189,568 1190,569 1190,568ZM622,718 619,724 619,734 622,738 626,740 628,739 629,736 626,728 626,718ZM668,772 668,776 670,777 674,778 677,776 675,772 670,770ZM832,811 829,814 829,818 832,820 836,818 838,814 837,812ZM1114,679 1114,683 1116,686 1130,696 1136,697 1139,694 1140,688 1138,684 1130,683ZM740,412 736,416 736,416 740,419 742,419 746,418 747,416 746,412ZM748,532 744,536 742,542 742,546 746,549 748,549 752,547 757,536 754,532ZM802,432 796,437 795,442 796,446 800,450 802,450 806,442 810,436 808,433ZM866,538 865,542 866,542 867,538ZM874,402 873,404 874,407 876,406 876,404ZM880,531 879,536 880,537 884,537 887,536 885,532ZM982,577 980,580 982,587 988,590 992,590 994,584 994,580 988,577ZM800,517 799,520 812,534 814,534 817,532 818,530 808,518 802,515ZM2034,358 2036,358 2036,361ZM1554,406 1559,407 1560,410 1559,412 1556,416 1550,417 1548,416 1548,412 1549,410ZM2033,418 2050,417 2051,422 2054,424 2054,430 2057,434 2057,436 2061,440 2061,442 2064,446 2063,448 2066,452 2061,458 2056,460 2038,461 2032,468 2023,474 2021,472 2018,464 2019,460 2025,454 2022,442 2023,430 2022,422 2024,419 2030,420ZM1532,484 1534,483 1536,484 1534,487ZM299,490 304,489 307,490 304,494 302,494ZM456,496 460,495 464,496 467,502 465,506 460,506 454,504 453,502ZM1201,496 1202,496 1202,496 1202,497ZM523,502 526,501 527,502 526,503ZM1489,502 1490,501 1492,501 1496,504 1501,514 1500,518 1492,515 1490,512 1488,506ZM440,506 449,506 450,508 447,520 449,524 458,529 461,532 465,550 464,554 458,557 446,561 436,568 424,569 404,573 398,572 381,560 381,556 385,554 394,551 410,542 422,540 430,536 433,532 435,530 431,520 433,512 436,507ZM508,508 508,508 509,508 508,509ZM1124,512 1130,509 1136,510 1142,512 1146,518 1144,519 1126,520 1123,518 1122,514ZM1530,514 1533,514 1532,518 1531,518ZM1579,514 1582,513 1586,514 1586,518 1585,520 1582,521 1580,519ZM1684,524 1688,521 1696,522 1701,526 1701,532 1698,536 1690,539 1688,540 1684,539 1682,530ZM1593,542 1598,540 1600,540 1603,544 1600,552 1594,557 1592,550ZM481,554 482,554 483,556 482,558 480,556ZM532,556 538,554 543,562 543,566 542,568 536,572 532,571 529,566 530,560ZM1292,572 1298,570 1300,570 1304,574 1304,579 1300,587 1298,589 1290,584 1288,578ZM436,596 446,594 452,596 453,598 453,602 451,608 446,609 440,607 435,602 434,598ZM1357,598 1364,597 1366,600 1372,620 1372,622 1370,625 1366,625 1360,619 1346,616 1341,614 1346,608ZM1315,644 1318,642 1321,644 1324,652 1322,655 1318,655 1316,653ZM470,656 478,654 484,655 493,658 502,667 513,668 511,670 502,673 500,676 493,688 490,691 482,695 476,696 470,693 466,690 458,664 457,662 459,658ZM602,668 608,665 609,668 608,671 604,674 601,674 600,670ZM649,676 658,674 662,674 666,676 666,680 658,678 653,682 646,685 640,683 641,680ZM263,758 266,756 269,758 272,762 272,770 278,778 277,784 274,789 272,790 266,791 262,790 261,788 260,782 264,770 262,764ZM1887,770 1894,768 1901,770 1904,776 1902,782 1894,785 1888,785 1885,778 1885,772ZM324,806 328,805 338,807 344,806 358,809 359,814 356,824 348,842 340,849 334,848 328,844 316,842 313,838 311,818 320,808ZM265,848 272,846 286,849 292,849 297,850 292,868 290,874 284,876 275,874 272,868 266,862 264,854ZM316,868 320,866 326,866 331,868 332,872 331,874 316,879 314,874ZM1183,884 1190,884 1198,892 1199,898 1198,902 1192,906 1190,907 1184,904 1177,896 1176,890 1178,886ZM349,928 350,928 350,931ZM346,932 346,931 348,931 346,932ZM1089,956 1090,955 1094,956 1096,961 1097,964 1096,970 1090,973 1084,970 1084,968ZM467,1022 470,1019 472,1019 478,1026 483,1034 484,1040 479,1048 482,1053 490,1058 494,1061 496,1070 495,1076 494,1077 482,1075 469,1066 452,1067 448,1064 448,1058 445,1054 447,1052 448,1046 457,1040 462,1028ZM1549,1022 1556,1019 1558,1019 1562,1022 1564,1028 1564,1034 1563,1036 1556,1043 1552,1044 1550,1043 1545,1036 1546,1028ZM1413,1042 1420,1040 1430,1041 1433,1042 1424,1048 1420,1049 1414,1046ZM1136,1082 1138,1080 1144,1082 1146,1084 1146,1088 1142,1090 1138,1089 1136,1084ZM1232,1088 1234,1086 1238,1088 1238,1092 1234,1095 1232,1093 1231,1090ZM1162,1094 1168,1093 1178,1094 1196,1101 1198,1105 1198,1112 1199,1114 1202,1118 1214,1121 1216,1124 1228,1142 1232,1151 1244,1163 1252,1177 1261,1186 1265,1192 1268,1214 1268,1217 1264,1221 1262,1222 1258,1222 1252,1218 1250,1219 1238,1226 1234,1225 1232,1213 1235,1202 1233,1196 1215,1172 1212,1156 1202,1142 1201,1130 1192,1114 1186,1110 1180,1110 1168,1119 1166,1118 1157,1108 1155,1102 1156,1096ZM1027,1096 1030,1095 1032,1096 1030,1097ZM598,1106 602,1106 603,1108 602,1112 598,1112 596,1110 596,1107ZM998,1108 1004,1106 1006,1106 1010,1108 1012,1112 1010,1114 1004,1120 998,1122 992,1118 991,1114 993,1112ZM1092,1136 1096,1134 1098,1136 1096,1139 1094,1140ZM1212,1198 1216,1198 1219,1202 1218,1204 1214,1208 1210,1208 1208,1204 1209,1202ZM1087,1216 1098,1226 1106,1238 1107,1240 1105,1246 1102,1250 1100,1252 1096,1251 1092,1246 1086,1234 1084,1222 1084,1219ZM1165,1216 1172,1214 1178,1215 1181,1220 1180,1226 1174,1230 1168,1230 1166,1229 1161,1222 1161,1220ZM1141,1222 1148,1220 1151,1222 1148,1229 1142,1232 1138,1232 1137,1228 1138,1226ZM1117,1238 1120,1235 1124,1235 1130,1236 1133,1238 1130,1244 1126,1245 1119,1240ZM1069,1304 1069,1301 1072,1301 1076,1303 1079,1310 1078,1312 1076,1314 1070,1314Z"/>
<path fill="#f7b497" fill-rule="evenodd" d="M1159,352 1220,352 1234,354 1238,356 1239,358 1239,362 1235,368 1228,372 1208,375 1196,379 1184,379 1168,382 1150,396 1144,398 1114,394 1107,392 1094,381 1080,374 1078,370 1075,362 1076,358 1082,355 1126,353 1148,355ZM1315,356 1330,354 1364,356 1384,353 1418,356 1444,355 1455,358 1456,362 1450,370 1441,370 1435,374 1436,376 1438,378 1444,379 1450,377 1452,380 1452,392 1456,400 1457,406 1457,424 1454,434 1450,437 1436,435 1432,437 1426,443 1420,446 1414,444 1402,437 1400,436 1390,438 1382,435 1366,432 1352,432 1340,434 1330,433 1318,434 1294,423 1284,412 1283,406 1284,400 1288,394 1294,390 1298,386 1306,370 1309,358ZM1624,356 1630,354 1636,354 1646,357 1652,358 1666,356 1706,357 1724,355 1732,356 1744,362 1784,389 1786,389 1798,387 1816,398 1834,398 1842,404 1852,407 1863,416 1864,420 1864,424 1860,430 1856,434 1840,436 1828,436 1816,442 1805,450 1790,453 1785,458 1768,467 1760,474 1748,478 1736,480 1724,486 1706,485 1694,491 1676,488 1666,483 1658,488 1652,488 1625,475 1606,470 1600,464 1600,458 1601,448 1604,446 1614,440 1615,434 1612,424 1603,412 1602,400 1600,398 1586,388 1584,386 1582,380 1582,370 1588,365 1600,358 1618,358ZM1678,394 1676,394 1674,398 1682,399 1685,398 1681,394ZM809,358 812,357 826,359 842,358 848,358 853,362 854,364 856,366 872,364 884,357 890,358 898,360 910,359 926,363 944,364 958,370 976,367 998,376 994,380 976,385 968,384 956,379 932,386 916,379 902,378 898,379 896,382 892,394 890,396 878,386 872,386 860,389 856,392 854,394 854,398 860,406 864,418 868,421 872,421 880,418 892,407 896,407 908,411 914,410 922,404 926,394 932,390 938,397 940,399 952,398 962,399 964,398 974,393 1000,386 1003,382 1002,380 1004,376 1012,367 1028,359 1034,359 1042,368 1058,371 1061,374 1062,376 1059,382 1052,386 1046,386 1036,383 1030,383 1027,386 1026,388 1030,398 1034,401 1036,401 1042,397 1048,395 1052,397 1061,406 1064,412 1062,424 1076,446 1075,452 1069,461 1069,464 1088,473 1100,477 1103,482 1102,486 1100,488 1088,487 1076,489 1064,486 1054,492 1046,492 1042,493 1037,500 1028,508 1023,518 1016,524 1012,525 1004,524 992,527 983,532 970,543 956,550 946,559 944,560 926,557 917,554 915,550 913,544 915,532 898,531 887,526 882,520 881,512 879,508 872,502 866,499 860,499 857,502 860,518 856,530 854,540 848,547 842,550 833,544 832,526 830,520 817,517 806,505 800,504 794,506 782,515 776,518 766,520 758,519 745,508 736,503 734,500 732,490 734,484 736,482 742,480 758,484 766,476 776,475 788,469 806,463 824,448 826,446 826,442 818,427 812,421 799,412 785,392 785,386 788,382 796,375 806,370 808,368ZM1890,358 1894,358 1904,370 1903,374 1901,376 1894,374 1891,370ZM760,364 764,363 766,363 768,364 766,369 764,372 760,372 758,370 757,368ZM1819,374 1822,371 1826,371 1829,380 1828,383 1822,385 1817,382 1816,380ZM1269,418 1270,417 1274,417 1276,422 1276,428 1274,431 1270,431 1268,427 1267,422ZM1231,442 1234,440 1238,442 1238,446 1234,450 1232,450ZM1281,452 1282,449 1284,452 1282,452ZM1262,460 1268,459 1274,462 1280,466 1294,474 1306,485 1318,485 1324,486 1330,491 1335,496 1336,502 1334,508 1330,512 1323,518 1316,528 1288,544 1286,544 1281,542 1278,538 1277,532 1274,531 1262,532 1253,530 1248,524 1244,514 1228,507 1223,502 1222,500 1221,494 1224,484 1234,465 1238,464 1250,465ZM683,514 688,514 691,518 691,524 688,525 682,526 677,524 676,520ZM585,526 590,526 592,530 591,532 585,532 583,530ZM1230,556 1234,558 1238,562 1238,570 1234,571 1232,566 1228,560ZM406,560 406,559 408,560 406,560ZM666,560 676,557 684,560 686,562 688,574 693,580 696,590 702,598 701,604 698,609 694,611 692,611 686,608 674,607 664,606 646,607 626,604 622,602 619,596 620,590 622,586 620,572 626,563 628,561 634,560 646,562 649,566 646,567 644,574 646,578 660,580 662,584 664,589 668,591 671,590 672,586 666,578 665,568 663,562ZM956,578 958,576 968,581 971,586 971,592 969,596 964,598 956,599 951,608 946,610 938,613 934,611 933,608 934,599 940,594 952,592ZM1122,614 1130,611 1130,616 1126,619 1124,618 1122,616ZM1250,622 1252,621 1258,622 1260,626 1259,628 1252,632 1248,632 1246,628ZM476,658 482,659 487,662 490,664 491,670 490,676 485,688 478,692 472,689 470,686 467,668 467,664 469,662ZM908,658 916,657 932,659 946,657 952,662 958,676 962,678 974,675 986,670 991,670 994,674 998,682 1004,687 1010,689 1016,689 1024,683 1030,683 1035,688 1035,698 1036,700 1042,706 1046,708 1060,708 1065,712 1070,728 1070,736 1068,742 1063,748 1042,759 1030,758 1022,752 1018,752 1014,754 1004,769 1000,771 986,779 970,783 940,798 934,804 932,805 914,800 902,803 896,804 884,799 878,798 868,805 862,807 854,808 842,804 836,803 814,808 800,804 784,804 772,798 770,798 766,800 760,809 754,811 748,811 724,807 689,790 692,786 692,782 690,776 686,769 658,750 646,746 643,742 635,727 635,724 638,719 645,712 676,705 704,693 718,691 734,687 752,687 764,686 776,682 796,682 802,680 814,672 820,670 830,673 838,678 844,679 862,672 874,664 898,663ZM856,747 855,748 857,752 863,752 862,748 860,746ZM1159,686 1162,688 1163,692 1160,694 1156,695 1153,692 1154,688ZM1195,724 1198,723 1203,724 1206,728 1207,730 1206,734 1202,735 1197,734 1195,730ZM1891,776 1894,773 1898,776 1897,778 1894,780 1892,779ZM1183,890 1186,888 1190,890 1192,893 1192,898 1190,900 1186,900 1184,898 1181,892ZM1212,1138 1214,1137 1216,1138 1219,1142 1220,1144 1220,1150 1216,1150 1214,1147 1212,1142ZM1230,1172 1234,1170 1238,1171 1240,1174 1242,1180 1240,1185 1238,1185 1232,1180 1230,1174ZM1244,1190 1246,1188 1252,1190 1256,1196 1256,1199 1250,1199 1246,1197Z"/>
<path fill="#f59f80" fill-rule="evenodd" d="M1160,356 1168,355 1202,357 1220,355 1228,356 1232,358 1230,364 1227,368 1222,369 1208,371 1192,375 1174,375 1166,371 1158,364 1156,358ZM1093,362 1100,359 1104,362 1102,365 1100,366 1095,364ZM1384,362 1388,359 1393,362 1390,365 1388,366ZM1663,368 1688,366 1690,367 1699,376 1701,382 1699,386 1694,387 1678,386 1664,388 1658,386 1652,380 1651,374 1654,370ZM1352,370 1354,369 1358,369 1372,373 1390,383 1395,388 1395,392 1392,394 1382,399 1358,401 1352,401 1348,398 1342,386 1343,380ZM1132,374 1138,372 1144,373 1148,376 1149,382 1148,385 1144,387 1138,385 1132,380 1131,376ZM1108,380 1112,377 1114,378 1117,382 1117,386 1114,387 1110,386 1108,382ZM1745,382 1750,380 1756,380 1760,383 1761,388 1760,391 1756,393 1750,393 1745,389 1744,386ZM974,404 980,404 988,411 992,411 1000,410 1012,403 1018,402 1024,405 1036,413 1046,415 1050,428 1064,438 1068,446 1068,448 1058,465 1047,470 1044,472 1032,494 1021,502 1016,512 1012,515 1000,517 974,530 964,538 950,544 944,550 940,551 932,550 926,548 922,545 922,542 925,530 924,524 920,521 910,526 904,528 896,526 890,524 886,518 887,514 895,508 897,506 896,504 880,500 874,495 862,490 859,488 859,484 862,482 868,478 874,470 883,464 885,458 882,454 878,453 866,456 856,454 854,456 847,464 846,470 842,472 818,476 814,475 812,472 812,466 817,460 842,445 848,444 860,445 874,443 880,440 886,434 890,433 892,433 902,437 908,437 926,427 940,426 952,413ZM946,442 946,442 946,443 947,442ZM1309,416 1316,413 1318,414 1321,418 1321,422 1319,424 1316,425 1309,422 1308,418ZM1689,422 1690,420 1700,423 1706,424 1718,420 1720,421 1721,424 1719,428 1719,430 1726,433 1732,432 1739,424 1744,421 1750,419 1756,419 1762,423 1768,429 1770,434 1769,442 1765,448 1756,453 1749,460 1735,462 1714,476 1709,478 1700,479 1688,478 1683,476 1678,468 1676,466 1660,465 1658,464 1656,460 1659,452 1663,446 1670,443 1678,443 1688,437ZM1742,441 1740,442 1741,447 1748,446 1750,442 1748,441ZM1257,470 1268,467 1288,477 1294,482 1296,484 1295,490 1286,499 1264,510 1252,509 1234,500 1231,496 1230,490 1231,484 1238,474 1240,472 1252,471ZM831,494 836,492 838,494 837,500 835,502 830,505 824,507 820,507 820,506 820,501ZM1326,500 1328,500 1328,503 1324,502ZM762,506 767,506 770,508 770,512 766,513 762,512 760,508ZM478,668 478,666 480,668 478,668ZM909,674 920,671 923,674 924,676 923,680 920,682 910,683 903,680 903,676ZM943,682 948,692 968,701 988,708 1006,716 1016,714 1028,720 1036,722 1040,724 1040,728 1039,734 1034,740 1028,742 1022,740 1022,730 1015,729 1014,730 1013,734 1015,740 1009,746 1003,748 988,753 976,761 964,763 952,770 940,770 932,765 928,765 916,767 912,764 912,758 920,746 921,740 913,722 914,712 916,708 926,706 934,702 941,692 941,686ZM988,688 992,688 993,692 992,694 988,693ZM805,692 812,689 814,691 815,694 812,696 808,696 806,694ZM707,700 710,699 716,699 718,701 720,704 719,706 716,708 712,708 708,704ZM652,718 658,722 659,724 658,728 652,729 648,728 646,724 646,721ZM666,730 674,730 688,735 700,730 704,730 724,735 728,740 728,742 724,747 716,748 704,747 692,742 674,742 668,740 665,736 664,734ZM840,776 842,775 843,776 842,777ZM703,782 706,781 724,786 728,790 728,795 724,798 722,797 704,791 700,788 700,784Z"/>
<path fill="#ee8669" fill-rule="evenodd" d="M1010,412 1016,410 1022,412 1040,424 1050,442 1054,452 1054,454 1052,458 1039,466 1028,488 1010,506 998,511 989,518 982,521 976,522 968,521 962,522 952,529 943,532 942,536 939,538 936,538 933,530 923,508 926,494 923,484 925,478 928,475 938,472 945,460 960,448 970,438 978,434 988,422ZM1239,488 1240,485 1244,485 1247,490 1244,493 1240,492ZM897,514 907,514 909,518 909,520 904,523 896,521 893,518ZM979,730 983,730 984,734 982,737 979,736 978,734Z"/>
<path fill="#e36b54" fill-rule="evenodd" d="M1013,418 1019,419 1024,421 1034,428 1043,446 1044,452 1043,454 1032,464 1024,477 1006,499 1004,501 994,503 988,505 982,514 980,515 968,512 940,521 934,519 931,514 929,508 930,500 934,494 944,488 950,474 952,470 962,466 964,463 976,448 985,440 992,430 1000,424Z"/>
<path fill="#d24b40" fill-rule="evenodd" d="M1013,457 1018,457 1022,459 1022,464 1021,466 1012,482 1004,491 994,494 982,495 964,484 964,482 965,478 970,471 976,466 983,464 988,459 992,459 1004,461ZM945,500 952,499 956,502 953,506 944,513 940,514 938,513 934,508 934,502 938,500Z"/>
<path fill="#ccd9ed" fill-rule="evenodd" d="M406,332 406,332 432,332 430,334 416,338 410,336ZM526,332 526,332 532,332 530,333ZM670,332 670,332 677,332 674,334ZM1138,332 1160,332 1160,338 1156,341 1154,342 1148,341 1141,338ZM1593,332 1598,332 1597,334 1594,337 1593,334ZM1665,332 1666,332 1681,332 1678,337 1676,339 1672,339 1668,338ZM1927,332 1928,332 1935,332 1934,335 1930,336ZM2068,332 2074,332 2076,338 2074,341 2072,342 2067,340 2067,338ZM2106,332 2116,332 2116,340 2114,346 2110,347 2108,346 2106,344ZM654,338 656,336 658,336 663,340 663,344 658,346 656,345 653,340ZM925,344 926,343 926,344 926,344ZM349,346 352,344 356,344 364,353 374,357 376,356 388,348 394,346 404,348 412,349 424,354 440,351 452,347 472,352 508,351 510,356 506,370 514,377 518,382 520,400 517,412 520,416 531,422 534,424 524,430 518,438 512,438 488,430 482,438 478,440 464,440 458,443 446,444 433,452 422,455 420,458 423,464 424,470 418,480 417,490 412,496 406,498 400,496 388,484 382,482 376,483 375,482 378,472 385,464 389,454 390,452 388,449 380,449 352,440 340,443 328,445 320,448 302,444 286,450 266,448 260,445 256,440 255,430 258,410 258,388 263,376 259,364 262,357 268,353 284,348 298,351 310,349 322,354 334,354 340,352ZM458,425 455,430 458,435 460,436 463,434 464,429 460,425ZM496,391 496,394 499,394 497,392ZM298,364 292,367 289,371 287,374 288,376 302,376 308,374 308,370 306,368 302,364ZM1976,368 1982,366 1986,368 1982,370 1978,371ZM2050,398 2054,396 2054,398 2052,400 2050,401ZM2112,406 2114,405 2118,406 2121,412 2120,416 2116,417 2113,416 2110,412ZM573,412 574,412 579,412 588,424 614,435 618,446 627,452 625,457 617,464 612,472 608,476 598,478 586,473 578,472 572,474 566,478 557,470 548,466 538,457 530,452 530,446 532,445 542,447 546,446 547,442 544,435 536,430 534,428 536,426 544,425 562,417 570,416ZM568,442 555,448 553,452 560,455 566,456 568,454 573,448 575,443 574,441 572,440ZM1138,436 1142,436 1148,439 1148,448 1144,449 1138,445 1136,440ZM2088,436 2090,435 2092,436 2094,442 2092,443 2089,442 2088,440ZM1959,446 1960,444 1966,444 1975,448 1977,452 1974,454 1968,454 1960,452 1958,448ZM1909,464 1916,462 1922,463 1924,465 1927,470 1924,473 1916,471 1910,473 1906,470 1906,466ZM261,494 262,493 265,493 266,496 262,499 259,496ZM2116,496 2120,494 2122,497 2125,506 2131,520 2131,524 2128,525 2126,526 2120,525 2114,520 2112,518 2111,508ZM1837,508 1838,508 1838,512 1837,512ZM242,544 242,543 245,544 249,550 245,554 242,554ZM2125,544 2128,543 2131,544 2132,549 2128,550 2125,548ZM1999,548 2006,547 2026,550 2038,562 2042,562 2046,566 2049,572 2048,574 2044,581 2030,596 2024,604 2011,609 2007,614 2005,632 2006,634 2008,636 2010,640 2014,644 2014,650 2017,652 2017,656 2019,658 2019,664 2022,668 2022,680 2020,687 2014,688 2010,694 2013,704 2011,706 2011,710 2004,716 2004,736 2001,740 2001,746 1997,748 1999,764 1998,770 1991,776 1990,779 1982,789 1978,789 1976,792 1970,792 1966,795 1960,795 1958,798 1946,798 1942,801 1918,800 1914,800 1913,790 1914,772 1912,766 1904,762 1886,758 1882,759 1879,764 1877,778 1878,784 1882,794 1881,796 1876,800 1874,800 1868,793 1865,793 1861,796 1844,795 1834,797 1832,800 1831,802 1836,826 1834,830 1834,832 1828,838 1826,838 1822,841 1808,840 1804,842 1804,866 1802,867 1786,867 1780,872 1778,872 1774,875 1762,877 1759,873 1756,874 1750,866 1749,866 1752,862 1751,859 1748,859 1738,861 1736,844 1737,832 1732,826 1732,824 1729,820 1728,812 1731,808 1731,806 1736,800 1738,799 1750,799 1754,796 1760,795 1762,794 1765,788 1780,770 1783,770 1781,766 1784,765 1786,767 1792,762 1796,762 1798,759 1802,759 1804,756 1810,755 1813,752 1832,752 1834,749 1868,749 1871,746 1871,742 1874,740 1874,737 1877,734 1877,730 1892,718 1894,718 1893,722 1894,725 1898,726 1900,725 1904,721 1913,719 1916,716 1918,716 1924,710 1928,710 1934,705 1936,705 1941,700 1946,694 1946,692 1949,688 1950,686 1953,682 1954,666 1956,668 1958,668 1966,664 1968,662 1966,656 1964,652 1960,655 1954,664 1954,652 1957,650 1957,646 1954,644 1954,640 1951,638 1950,626 1952,614 1952,610 1956,604 1956,602 1962,596 1962,592 1964,591 1966,591 1970,588 1978,588 1982,586 1984,586 1987,584 1993,568 1993,556 1996,554 1996,550ZM1955,745 1952,747 1950,752 1951,758 1954,760 1960,763 1970,763 1976,762 1979,760 1981,754 1980,752 1976,747 1970,745ZM1964,622 1962,626 1964,628 1966,626ZM255,554 256,552 260,552 261,554 260,556ZM1808,562 1816,561 1822,562 1825,566 1824,572 1817,580 1814,581 1808,580 1802,578 1798,574 1797,572 1798,567ZM2194,572 2198,569 2198,578 2194,574ZM825,578 848,578 853,580 858,602 862,608 868,612 870,616 869,622 862,632 848,638 830,637 823,634 814,626 798,586 798,580 802,579 812,580ZM1480,578 1480,577 1483,580 1486,589 1490,591 1502,592 1510,589 1516,589 1532,597 1546,594 1564,600 1576,601 1586,606 1592,608 1610,609 1622,608 1630,614 1660,610 1672,608 1683,610 1685,614 1685,616 1681,622 1664,634 1636,639 1634,640 1633,644 1633,652 1639,668 1639,670 1632,682 1630,688 1631,698 1629,706 1629,716 1630,718 1628,734 1628,770 1631,784 1629,796 1631,808 1629,824 1630,838 1629,848 1634,864 1638,866 1636,868 1634,870 1629,884 1630,910 1632,922 1628,940 1629,946 1634,959 1639,956 1642,948 1646,947 1649,950 1652,962 1652,965 1648,966 1642,965 1636,970 1634,969 1630,980 1628,981 1592,981 1586,975 1582,975 1580,972 1568,972 1564,974 1562,974 1556,979 1546,980 1533,988 1526,990 1522,990 1520,986 1516,968 1514,963 1508,958 1502,957 1486,964 1468,976 1463,988 1465,1004 1460,1006 1448,1007 1444,1006 1440,1000 1434,986 1424,980 1405,962 1403,956 1405,946 1405,944 1400,940 1390,938 1384,941 1379,946 1379,958 1382,962 1389,968 1389,970 1374,982 1373,986 1377,994 1377,998 1369,1012 1366,1015 1354,1017 1346,1025 1342,1025 1340,1023 1330,1012 1328,1010 1318,1011 1310,1017 1306,1017 1300,1013 1298,1013 1280,1015 1270,1018 1264,1022 1258,1024 1252,1023 1240,1017 1228,1017 1210,1022 1196,1027 1184,1027 1174,1031 1166,1032 1149,1046 1142,1049 1126,1052 1118,1058 1114,1059 1100,1056 1094,1059 1084,1065 1078,1067 1072,1063 1063,1046 1048,1034 1042,1034 1034,1038 1029,1042 1019,1060 1010,1071 994,1081 988,1082 976,1078 962,1078 956,1076 954,1076 950,1064 944,1059 932,1062 926,1060 914,1071 910,1070 908,1073 904,1073 902,1071 896,1071 890,1070 884,1060 880,1058 878,1058 866,1063 854,1063 848,1059 845,1052 846,1048 854,1041 856,1036 856,1028 850,1021 836,1015 826,1016 813,1022 797,1030 790,1040 784,1040 781,1040 777,1036 771,1028 765,1012 761,1007 748,998 734,982 732,980 733,968 731,958 718,944 706,939 694,938 663,922 646,919 634,912 628,911 610,913 598,906 583,902 574,895 566,891 560,886 560,884 564,874 565,868 562,862 556,856 554,856 549,859 548,874 544,881 538,885 526,891 518,902 514,904 511,904 500,899 487,898 484,896 484,890 478,885 476,885 470,889 458,887 448,899 442,902 430,900 422,901 416,903 406,910 404,910 400,910 397,904 394,892 395,884 403,872 416,863 419,856 419,854 413,845 411,838 412,832 418,830 407,826 398,829 394,828 392,824 394,819 398,818 404,819 406,817 416,806 430,795 442,795 452,791 470,797 478,793 494,788 497,784 499,778 501,754 506,748 520,735 530,733 546,734 572,731 580,733 588,740 592,746 599,766 597,776 590,783 584,787 574,790 565,796 563,800 566,818 584,836 596,841 610,842 628,854 640,859 656,856 664,851 668,851 670,856 675,872 680,876 689,862 700,854 710,852 718,855 725,860 731,874 732,892 735,902 734,910 748,921 764,922 782,917 794,917 806,894 812,889 816,890 824,894 836,897 850,909 860,908 880,897 891,886 902,881 914,872 938,870 952,873 960,872 970,865 980,867 981,862 982,848 985,836 987,820 992,814 1000,808 1006,801 1012,798 1028,794 1040,794 1044,796 1053,806 1060,807 1082,803 1096,805 1112,794 1132,792 1150,794 1166,791 1168,792 1178,799 1180,799 1202,798 1222,795 1226,794 1229,788 1234,784 1256,776 1274,774 1286,767 1296,764 1299,758 1300,752 1298,740 1298,734 1302,718 1304,715 1306,714 1322,722 1334,731 1336,736 1336,746 1342,749 1352,748 1353,746 1354,734 1358,726 1360,724 1364,724 1370,728 1372,727 1378,716 1379,710 1366,702 1354,698 1348,698 1334,704 1328,703 1324,701 1323,698 1324,692 1328,684 1330,681 1352,681 1360,678 1366,682 1372,689 1388,698 1408,702 1414,703 1420,701 1423,698 1423,694 1420,688 1408,683 1394,684 1389,680 1386,670 1388,664 1396,657 1406,646 1412,642 1420,640 1422,638 1418,637 1408,639 1394,639 1391,638 1392,634 1408,625 1426,621 1442,621 1454,616 1460,610 1462,592 1465,586ZM1486,921 1484,923 1482,928 1484,937 1486,940 1492,943 1502,945 1507,944 1512,940 1510,934 1499,922 1492,920ZM1550,616 1546,620 1547,622 1550,624 1556,623 1560,620 1560,616 1558,616ZM1574,711 1565,718 1558,722 1546,724 1538,722 1534,722 1522,726 1511,727 1503,730 1498,736 1495,746 1496,758 1500,766 1508,773 1516,777 1533,776 1549,766 1556,770 1562,765 1564,765 1574,756 1580,756 1582,753 1594,752 1598,749 1600,749 1601,742 1606,730 1606,724 1597,716 1588,714 1586,711 1580,712 1576,710ZM1580,631 1579,634 1580,636 1581,634ZM1582,640 1581,646 1581,652 1584,656 1588,656 1592,652 1592,646 1588,643ZM1610,928 1603,938 1602,940 1604,943 1618,947 1622,947 1624,946 1627,940 1626,938 1622,932 1616,927 1612,927ZM472,861 472,866 472,867 476,868 478,862 476,860ZM526,857 525,860 530,860 530,859ZM724,916 712,921 704,918 698,918 695,920 695,922 698,927 700,930 706,929 712,925 716,924 722,927 728,934 730,934 734,932 728,918ZM830,940 824,942 818,950 814,952 801,952 799,956 800,962 802,963 808,959 814,958 832,960 843,956 845,952 846,950 842,944 836,940ZM836,922 834,922 836,926 837,926ZM850,1000 849,1004 850,1006 854,1009 860,1010 862,1006 862,1004 860,1000 854,999ZM856,942 851,946 851,950 852,952 856,955 862,952 869,946 870,944 866,941ZM884,933 878,940 878,944 884,950 890,952 898,952 908,948 910,944 909,940 908,939 898,937 886,932ZM914,960 911,964 914,967 920,967 922,964 922,962 920,959 916,959ZM964,961 961,964 961,968 964,974 968,977 982,980 990,976 991,970 989,968 976,962 970,960ZM1018,859 1008,866 1005,872 1005,880 1008,884 1016,887 1022,885 1028,880 1032,874 1033,868 1033,862 1030,859 1024,858ZM1106,934 1100,937 1094,935 1088,935 1076,943 1060,941 1052,942 1042,946 1038,950 1037,956 1038,976 1046,1000 1058,1014 1060,1015 1065,1012 1066,1000 1069,994 1072,992 1078,989 1088,987 1100,983 1104,980 1108,968 1108,962 1103,949 1102,945 1106,943 1112,943 1114,942 1116,940 1116,938 1112,935ZM1130,880 1122,884 1119,886 1117,896 1118,898 1120,900 1126,900 1132,899 1138,896 1142,892 1143,886 1142,880 1138,878 1136,878ZM1166,808 1156,812 1154,814 1154,818 1157,820 1166,824 1174,822 1178,820 1180,814 1177,808 1174,807ZM1183,874 1178,875 1168,879 1162,883 1161,890 1163,896 1179,914 1183,916 1190,917 1204,913 1208,910 1210,904 1208,896 1205,886 1192,877ZM1226,847 1208,856 1204,862 1205,866 1208,867 1214,867 1226,861 1228,856 1230,850 1228,848ZM1288,940 1281,944 1280,946 1280,950 1286,959 1292,961 1298,958 1301,956 1301,952 1298,944 1294,939ZM1336,766 1333,778 1333,782 1336,783 1339,782 1340,778 1338,770ZM1456,688 1453,692 1453,694 1456,697 1460,696 1463,692 1461,688ZM1562,901 1556,920 1556,922 1558,926 1562,926 1564,925 1566,922 1567,914 1571,904 1568,900 1564,900ZM1570,781 1571,784 1574,786 1575,784 1575,782 1574,780ZM890,1003 888,1004 887,1006 898,1020 904,1021 914,1020 920,1016 922,1012 921,1006 916,1003 896,1001ZM1126,957 1125,958 1126,962 1133,964 1130,958ZM1226,924 1222,927 1224,934 1218,940 1210,945 1204,946 1178,943 1168,940 1160,941 1154,943 1151,946 1152,956 1156,958 1160,958 1168,950 1172,949 1174,950 1184,964 1184,974 1186,976 1191,980 1196,986 1198,988 1202,985 1204,979 1210,975 1222,976 1232,971 1240,970 1244,969 1252,961 1256,956 1257,950 1257,944 1252,941 1242,938 1238,934 1234,924 1232,923ZM1340,993 1336,998 1336,1000 1336,1004 1340,1004 1346,1002 1349,998 1349,994 1346,992ZM904,1035 900,1040 897,1046 898,1049 904,1052 908,1052 910,1049 912,1040 910,1034 908,1034ZM1154,1009 1153,1010 1154,1013 1157,1010ZM1240,1002 1238,1004 1242,1010 1244,1011 1249,1010 1250,1007ZM2128,580 2132,581 2134,586 2132,596 2128,599 2126,598 2124,592 2125,584ZM1650,584 1652,582 1654,584 1652,585ZM1821,592 1822,591 1826,592 1826,596 1822,596ZM242,596 244,596 253,602 250,604 242,605ZM280,616 314,616 334,633 346,638 358,646 370,647 380,645 388,650 400,654 412,662 418,664 430,661 440,662 446,666 454,681 456,688 454,701 458,708 472,717 478,716 487,707 494,706 500,708 507,716 511,724 511,730 508,734 478,741 473,740 466,736 458,737 452,736 434,731 400,724 396,722 387,706 382,703 373,706 364,716 356,719 344,726 338,725 326,716 316,712 302,717 290,711 286,711 280,713 272,722 268,723 262,722 258,718 255,712 263,698 264,692 257,662 258,658 263,652 263,646 258,632 259,628 268,622 274,618ZM412,699 411,704 412,705 416,704 417,700 416,699ZM614,620 616,618 621,620 623,622 622,626 620,627 616,627 614,624ZM2134,620 2138,617 2144,618 2145,626 2143,632 2140,633 2134,632 2132,626ZM379,628 380,627 380,632 379,632ZM639,628 646,626 649,628 650,634 647,638 644,638 640,636 638,632ZM531,644 532,643 534,646 532,649ZM1801,644 1802,643 1804,644 1802,644ZM1880,650 1882,648 1886,652 1882,653ZM642,652 646,653 648,656 649,658 647,662 632,667 628,667 626,664 625,662 627,658ZM2145,652 2146,652 2149,652 2147,656 2144,656ZM1858,656 1859,656 1858,659 1858,658ZM742,662 746,661 748,664 748,668 746,670 742,670 739,668 739,664ZM1653,674 1660,672 1672,676 1696,676 1702,682 1712,682 1718,683 1727,694 1730,704 1742,715 1748,718 1749,722 1752,724 1752,728 1754,730 1754,740 1755,742 1754,744 1750,752 1748,770 1751,778 1742,789 1736,789 1732,792 1726,795 1718,795 1714,798 1712,798 1708,801 1706,801 1702,804 1689,802 1688,800 1684,800 1682,802 1676,803 1672,800 1669,800 1669,796 1666,794 1665,766 1666,762 1677,758 1679,752 1677,746 1672,738 1670,735 1664,732 1662,730 1661,722 1663,710 1661,706 1644,694 1644,692 1649,686ZM1700,685 1693,688 1692,692 1696,693 1701,692 1702,688ZM1700,762 1698,766 1699,770 1700,772 1702,772 1707,766 1707,764 1702,761ZM2131,694 2136,698 2138,700 2139,704 2138,705 2132,704 2128,700 2127,698 2128,695ZM242,706 244,706 248,708 249,710 250,712 242,726ZM1915,706 1916,706 1916,706 1916,707ZM2194,706 2198,705 2198,711 2194,710ZM1777,710 1780,708 1782,710 1783,712 1780,720 1778,724 1774,724 1773,718 1774,712ZM2045,716 2048,714 2053,716 2054,718 2054,721 2050,722 2047,721 2045,718ZM2098,724 2098,724 2099,724ZM272,730 274,729 292,730 295,734 292,736 278,742 272,739 270,736ZM2053,730 2054,729 2056,730 2056,734 2054,735 2051,734ZM1144,736 1150,737 1165,746 1166,748 1164,752 1160,756 1154,758 1144,756 1139,748 1138,742 1140,740ZM329,740 346,738 351,740 353,742 350,745 340,746 328,751 326,748 325,746 326,742ZM2194,748 2198,748 2198,758 2188,759 2187,758 2188,754ZM2190,770 2192,768 2198,767 2198,785 2192,784 2188,782 2187,776ZM2097,812 2099,812 2100,814 2096,817 2095,814ZM2111,812 2114,809 2116,810 2117,814 2114,818 2110,814ZM2014,820 2018,820 2020,822 2020,827 2012,839 2006,842 2001,842 1998,838 1999,836 2002,830 2005,826ZM1860,824 1864,823 1865,824 1862,825ZM2097,832 2098,832 2099,832 2098,834ZM949,836 950,838 950,839 949,838ZM1966,856 1970,854 1972,854 1978,854 1982,856 1983,860 1983,868 1982,872 1979,874 1972,875 1969,874 1968,872ZM2103,862 2108,861 2114,862 2120,866 2120,868 2114,874 2108,873 2101,868 2100,866ZM2132,862 2138,861 2140,862 2138,869 2134,872 2132,872 2128,868 2128,866ZM2033,872 2037,872 2038,874 2032,878 2031,878 2029,874ZM2197,872 2198,876 2194,876 2193,874ZM242,896 248,895 248,898 242,899ZM1850,914 1855,914 1857,916 1855,922 1852,925 1850,926 1846,926 1845,922 1847,917ZM1808,922 1810,921 1812,922 1810,925ZM2062,926 2068,926 2071,929 2072,932 2070,934 2066,936 2062,935 2055,932 2055,928ZM1903,932 1904,932 1904,933ZM383,944 388,942 392,946 391,952 389,958 386,961 367,964 366,962 368,952ZM1897,944 1898,944 1898,946ZM2193,946 2198,945 2198,953 2193,950ZM242,974 242,972 248,973 249,976 245,980 242,980ZM1942,974 1946,972 1946,974 1943,976 1940,977ZM2136,976 2140,975 2144,976 2145,980 2144,982 2140,982 2137,980ZM2194,988 2198,986 2198,997 2193,994ZM1630,992 1630,989 1632,994 1630,1000 1629,998ZM1751,992 1756,991 1760,994 1760,998 1760,1001 1756,1002 1750,1000 1749,998 1749,994ZM375,1006 376,1005 380,1004 390,1010 396,1016 397,1018 396,1022 392,1024 388,1025 382,1024 376,1022 374,1016ZM1836,1016 1839,1016 1841,1018 1838,1021 1834,1019 1834,1018ZM1377,1018 1382,1018 1382,1022 1377,1022ZM2197,1018 2198,1018 2198,1024 2195,1022ZM407,1022 410,1021 410,1023ZM1810,1022 1814,1021 1815,1022 1811,1024 1808,1024ZM1851,1022 1856,1020 1862,1022 1858,1034 1856,1035 1852,1034 1850,1030 1849,1024ZM1770,1024 1773,1024 1774,1028 1772,1031 1768,1032 1767,1030 1768,1028ZM1305,1036 1306,1035 1311,1036 1306,1038ZM290,1040 296,1038 298,1039 302,1044 302,1049 298,1050 292,1047 289,1042ZM559,1040 562,1038 567,1040 569,1042 568,1048 566,1048 560,1046 557,1042ZM1597,1040 1600,1039 1604,1039 1604,1042 1600,1046 1598,1045 1596,1042ZM713,1046 724,1045 730,1048 731,1052 728,1054 718,1061 710,1064 706,1063 705,1052 706,1048ZM635,1048 640,1046 652,1048 657,1052 657,1054 656,1059 644,1066 639,1072 634,1075 626,1076 614,1074 598,1069 592,1064 592,1060 594,1058 602,1053 608,1052 616,1056 622,1056 627,1054ZM242,1052 248,1049 249,1052 248,1054 244,1057 242,1056ZM2192,1052 2198,1050 2198,1068 2194,1064ZM409,1058 412,1056 422,1059 430,1060 433,1064 433,1066 430,1069 428,1069 418,1062 411,1060ZM1500,1058 1502,1055 1506,1058 1502,1064 1499,1060ZM1788,1058 1790,1057 1792,1057 1793,1060 1790,1061ZM1363,1064 1364,1062 1366,1062 1368,1064 1370,1066 1369,1070 1366,1070 1365,1070 1363,1066ZM1411,1066 1412,1064 1414,1066 1420,1065 1422,1070 1422,1072 1418,1076 1414,1076ZM1498,1066 1501,1072 1500,1076 1498,1077 1496,1077 1495,1072ZM2025,1066 2026,1065 2030,1066 2030,1070 2026,1074 2024,1074 2022,1072 2022,1070ZM454,1072 458,1076 458,1078 454,1077 453,1076ZM1606,1072 1608,1076 1608,1078 1606,1080 1604,1080 1603,1076ZM1893,1072 1898,1071 1899,1078 1898,1083 1894,1085 1892,1085 1888,1082 1889,1078ZM940,1076 946,1076 950,1078 946,1083 940,1084 936,1082 935,1078ZM1269,1078 1270,1076 1277,1078 1280,1082 1278,1084 1273,1088 1270,1084ZM258,1082 260,1079 262,1082 263,1084 261,1096 260,1099 256,1100 255,1100 254,1096ZM1993,1088 1997,1085 2000,1086 2003,1090 2003,1096 2000,1096 1996,1094 1993,1090ZM2084,1088 2086,1085 2090,1086 2093,1088 2093,1090 2090,1094 2085,1094 2083,1090ZM711,1090 718,1090 724,1090 727,1094 727,1096 718,1105 712,1107 710,1106 706,1102 704,1096 706,1092ZM1860,1094 1864,1094 1867,1096 1866,1102 1864,1106 1862,1108 1858,1108 1856,1102 1857,1096ZM1462,1096 1462,1095 1466,1094 1468,1096 1466,1099 1462,1098ZM636,1100 640,1098 646,1099 648,1102 647,1106 640,1110 634,1111 633,1108 633,1106ZM2195,1100 2198,1098 2198,1104 2195,1102ZM393,1102 399,1102 399,1106 394,1108 391,1108 390,1106ZM339,1106 344,1103 346,1103 352,1106 353,1108 352,1111 350,1113 344,1111 339,1108ZM1789,1112 1802,1109 1804,1110 1805,1112 1802,1116 1796,1117 1790,1116 1788,1114ZM1956,1112 1958,1112 1959,1114 1958,1116 1956,1114ZM1550,1118 1552,1115 1570,1115 1574,1115 1576,1118 1594,1119 1606,1130 1606,1144 1608,1148 1611,1160 1623,1186 1624,1206 1639,1226 1639,1228 1642,1232 1652,1242 1654,1243 1660,1248 1664,1248 1668,1252 1668,1256 1674,1262 1675,1270 1677,1274 1677,1292 1674,1294 1674,1298 1672,1300 1671,1304 1672,1306 1678,1313 1682,1313 1686,1318 1686,1322 1689,1324 1688,1333 1678,1335 1664,1343 1646,1348 1640,1346 1634,1341 1630,1341 1623,1352 1618,1360 1616,1362 1612,1362 1606,1359 1592,1343 1582,1342 1580,1343 1577,1340 1574,1332 1572,1330 1571,1324 1569,1322 1568,1316 1564,1306 1562,1295 1557,1286 1555,1274 1556,1272 1559,1270 1559,1268 1556,1264 1552,1266 1550,1265 1549,1262 1538,1252 1538,1250 1535,1246 1537,1232 1540,1228 1539,1222 1537,1220 1536,1216 1531,1210 1531,1208 1528,1204 1528,1202 1524,1198 1523,1174 1532,1166 1533,1142 1534,1126 1544,1125ZM1562,1212 1559,1214 1558,1217 1562,1220 1564,1220 1568,1219 1569,1216 1568,1214ZM1610,1260 1607,1262 1606,1264 1610,1267 1612,1266 1613,1262 1612,1260ZM1628,1275 1626,1276 1628,1278 1631,1276 1630,1275ZM280,1120 287,1120 288,1124 288,1126 278,1144 274,1146 272,1145 270,1142 271,1130 274,1124ZM891,1120 892,1119 896,1120 902,1125 908,1126 916,1122 922,1122 934,1125 937,1126 937,1130 933,1132 928,1134 916,1135 908,1140 904,1140 898,1136 892,1130 890,1124ZM1647,1120 1648,1119 1652,1119 1657,1120 1658,1124 1652,1128 1648,1128 1646,1124ZM2193,1120 2198,1118 2198,1137 2194,1136 2191,1130 2191,1124ZM1012,1136 1017,1138 1017,1142 1016,1143 1012,1144 1009,1142 1008,1138ZM1804,1138 1808,1138 1810,1139 1813,1141 1813,1144 1810,1146 1805,1144 1803,1142ZM1997,1138 2000,1137 2002,1137 2005,1142 2002,1151 2000,1153 1996,1147ZM388,1144 392,1142 400,1143 404,1144 408,1150 406,1154 392,1153 387,1150 387,1148ZM1630,1144 1630,1144 1631,1144 1630,1145ZM1338,1148 1340,1147 1342,1149 1344,1154 1340,1156 1336,1157 1334,1156 1333,1154 1334,1150ZM1285,1160 1288,1157 1294,1158 1297,1160 1298,1163 1294,1166 1288,1166 1285,1162ZM1992,1160 1994,1159 1994,1160 1994,1160ZM816,1162 820,1161 840,1172 843,1174 843,1178 838,1185 836,1187 832,1186 824,1174 814,1168 814,1166ZM1891,1162 1892,1160 1894,1162 1895,1166 1892,1169 1890,1166ZM1990,1162 1990,1160 1991,1162ZM898,1168 899,1168 900,1172 898,1175 896,1175 895,1172ZM1050,1172 1054,1170 1058,1172 1056,1174 1052,1175 1049,1174ZM1852,1172 1852,1171 1854,1172 1852,1172ZM789,1174 790,1172 794,1172 798,1174 796,1186 790,1180ZM1749,1174 1760,1172 1763,1174 1763,1178 1760,1180 1754,1182 1747,1180 1745,1178ZM1930,1180 1930,1179 1934,1181 1936,1188 1936,1197 1934,1201 1930,1200 1928,1198 1928,1196 1930,1186ZM1321,1196 1322,1194 1325,1196 1324,1200 1322,1202ZM1956,1198 1960,1197 1962,1198 1963,1201 1962,1204 1955,1210 1952,1210 1950,1208ZM513,1204 518,1203 521,1204 523,1208 523,1216 525,1222 524,1227 522,1226 520,1220 513,1210 512,1208ZM1000,1208 1004,1206 1006,1207 1009,1214 1006,1217 1004,1219 1000,1216 999,1210ZM838,1210 842,1209 846,1210 848,1216 848,1221 844,1221 838,1217 837,1214ZM1747,1210 1750,1209 1752,1210 1754,1222 1752,1226 1750,1226 1748,1222 1746,1216ZM1665,1214 1672,1213 1675,1216 1674,1220 1670,1223 1664,1222 1661,1220 1661,1216ZM1717,1214 1720,1212 1723,1216 1721,1226 1718,1227 1713,1226 1713,1222ZM2058,1214 2063,1214 2065,1216 2062,1219 2059,1220 2055,1216ZM615,1216 620,1214 622,1214 624,1216 623,1220 620,1223 616,1222 615,1220ZM242,1220 247,1220 251,1222 251,1226 249,1228 242,1231ZM1980,1222 1982,1221 1985,1222 1984,1225 1982,1226ZM1327,1226 1328,1225 1328,1226 1328,1226ZM490,1228 494,1227 498,1228 503,1232 503,1234 500,1239 494,1240 490,1238 489,1234 488,1232ZM1330,1228 1331,1232 1330,1236 1330,1232ZM886,1232 887,1232 886,1234ZM887,1234 890,1233 897,1238 899,1240 898,1244 896,1246 892,1245ZM1035,1238 1037,1238 1039,1240 1036,1245 1032,1246 1031,1244 1032,1240ZM1847,1238 1850,1237 1856,1238 1858,1240 1859,1244 1858,1246 1852,1251 1844,1253 1840,1251 1840,1246 1844,1240ZM648,1240 674,1240 680,1243 683,1246 685,1258 682,1267 674,1274 664,1287 662,1288 656,1286 640,1276 640,1250 643,1244ZM658,1260 656,1262 653,1268 653,1270 656,1275 662,1274 665,1270 666,1268 665,1264 663,1262ZM1900,1240 1904,1238 1906,1239 1910,1244 1910,1246 1906,1250 1900,1250 1898,1246ZM1303,1246 1304,1246 1304,1246 1304,1247ZM1342,1250 1346,1247 1347,1250 1346,1255 1343,1252ZM1062,1252 1064,1251 1067,1252 1068,1258 1064,1262 1067,1264 1066,1268 1064,1267 1061,1264 1061,1258ZM259,1256 262,1255 263,1258 260,1262 256,1262 255,1258ZM388,1262 393,1264 393,1268 391,1271 386,1270 381,1268 381,1264 386,1262ZM601,1270 602,1270 605,1270 604,1271ZM1128,1270 1136,1270 1137,1274 1137,1286 1135,1288 1126,1288 1124,1287 1120,1283 1121,1276 1124,1273ZM1293,1270 1306,1270 1311,1270 1314,1274 1304,1280 1300,1292 1294,1294 1292,1294 1288,1291 1282,1284 1280,1280 1280,1276 1282,1274ZM691,1274 694,1271 698,1271 700,1274 708,1288 706,1291 704,1291 699,1286 692,1280ZM1524,1274 1526,1272 1538,1273 1545,1280 1545,1282 1548,1286 1548,1288 1547,1304 1544,1306 1544,1309 1534,1310 1530,1306 1528,1304 1531,1294 1530,1292 1525,1286 1520,1282 1518,1276ZM1740,1280 1744,1279 1745,1280 1748,1283 1749,1288 1747,1292 1742,1294 1737,1292 1734,1286 1735,1282ZM815,1282 820,1282 824,1283 825,1288 825,1292 818,1304 809,1310 806,1310 804,1310 806,1300 805,1292 808,1287ZM242,1286 242,1284 245,1286 248,1288 249,1292 246,1300 242,1306ZM993,1286 1000,1284 1002,1288 998,1295 988,1300 986,1298 990,1288ZM2193,1286 2198,1284 2198,1296 2194,1294 2191,1292 2191,1288ZM747,1288 752,1286 754,1286 761,1288 762,1292 761,1294 758,1297 752,1297 747,1294 745,1292ZM437,1292 440,1290 442,1290 444,1292 443,1294 440,1294ZM895,1298 898,1298 900,1304 888,1322 887,1324 889,1334 888,1336 884,1338 880,1337 880,1334 883,1324 879,1312 880,1310 890,1300ZM562,1300 570,1300 572,1304 570,1306 566,1310 560,1310 556,1308 555,1306 555,1304ZM1732,1306 1736,1306 1738,1308 1745,1316 1746,1318 1744,1321 1735,1324 1732,1327 1724,1318 1721,1312 1723,1310ZM1799,1306 1802,1305 1807,1306 1810,1310 1810,1312 1808,1315 1804,1315 1801,1312ZM2159,1306 2165,1306 2170,1310 2172,1312 2169,1316 2162,1314 2157,1310ZM2056,1312 2056,1312 2056,1316 2056,1316ZM979,1318 982,1316 986,1316 989,1318 990,1322 986,1326 980,1326 977,1324 977,1322ZM1111,1318 1114,1317 1118,1318 1124,1324 1137,1346 1137,1354 1140,1358 1138,1360 1136,1362 1118,1368 1112,1367 1102,1364 1094,1365 1090,1362 1088,1354 1089,1346 1091,1340 1102,1325ZM697,1322 700,1320 705,1322 706,1324 706,1328 704,1330 697,1328 696,1324ZM2010,1322 2014,1320 2018,1322 2019,1328 2014,1332 2011,1332 2007,1330 2007,1328ZM1933,1330 1936,1329 1940,1330 1952,1337 1958,1348 1964,1354 1965,1358 1964,1360 1959,1366 1954,1370 1952,1370 1948,1369 1944,1364 1943,1348 1934,1336 1932,1334ZM405,1334 406,1333 411,1336 412,1340 410,1344 406,1344 405,1342 404,1336ZM2189,1334 2198,1333 2198,1347 2194,1346 2190,1340 2188,1336ZM1390,1336 1394,1335 1395,1336 1394,1342 1390,1341ZM1810,1342 1816,1342 1820,1346 1820,1348 1817,1352 1810,1356 1808,1354 1806,1348 1807,1346ZM682,1346 686,1344 688,1344 692,1346 693,1348 688,1350 686,1349ZM388,1348 392,1348 394,1349 397,1351 398,1355 394,1357 386,1354 385,1352ZM1507,1348 1512,1348 1514,1352 1513,1354 1506,1354 1504,1352ZM954,1352 958,1349 962,1349 965,1352 964,1367 962,1370 956,1372 950,1369 947,1366 949,1360ZM2185,1354 2188,1355 2192,1358 2192,1360 2188,1363 2182,1364 2180,1360 2180,1358ZM1207,1358 1208,1356 1210,1357 1211,1360 1208,1361ZM310,1360 314,1360 317,1364 317,1366 316,1368 314,1369 310,1368 309,1364ZM431,1364 434,1361 436,1362 439,1364 440,1366 436,1369 432,1366ZM469,1366 472,1366 476,1368 477,1372 476,1375 472,1375 468,1372 467,1370ZM1384,1370 1384,1368 1388,1368 1390,1370 1390,1372 1386,1378 1385,1382 1385,1388 1388,1397 1386,1400 1382,1400 1379,1400 1377,1396 1374,1388 1376,1383 1381,1376ZM383,1379 388,1377 392,1378 394,1382 393,1384 392,1388 386,1391 382,1390 380,1388 379,1384ZM1936,1382 1940,1380 1942,1380 1948,1384 1952,1388 1952,1390 1951,1394 1946,1397 1942,1398 1939,1396 1936,1394 1934,1388ZM484,1384 488,1382 491,1384 490,1400 484,1408 478,1411 475,1411 473,1409 473,1402ZM1663,1388 1670,1385 1672,1386 1673,1390 1670,1397 1666,1398 1663,1396 1661,1390ZM1747,1388 1752,1390 1752,1394 1749,1394 1748,1392ZM1441,1394 1446,1394 1440,1414 1444,1419 1449,1430 1454,1434 1457,1436 1462,1436 1474,1431 1480,1431 1498,1438 1506,1444 1508,1448 1503,1454 1503,1456 1506,1460 1506,1462 1513,1468 1513,1478 1516,1480 1516,1484 1555,1484 1558,1481 1564,1481 1568,1481 1570,1484 1580,1485 1630,1484 1640,1478 1640,1468 1642,1464 1646,1463 1653,1466 1657,1468 1657,1472 1656,1474 1658,1478 1660,1478 1666,1484 1666,1490 1669,1492 1669,1496 1666,1499 1666,1502 1663,1504 1663,1528 1658,1534 1648,1534 1628,1540 1627,1550 1624,1552 1623,1556 1619,1558 1620,1568 1618,1574 1617,1610 1616,1612 1617,1616 1620,1618 1621,1628 1623,1630 1620,1634 1620,1642 1617,1646 1617,1654 1616,1658 1612,1659 1586,1660 1570,1659 1528,1660 1526,1659 1508,1659 1506,1658 1505,1646 1506,1598 1503,1594 1502,1576 1505,1574 1506,1570 1504,1525 1503,1544 1500,1546 1500,1550 1492,1558 1490,1557 1482,1564 1481,1576 1474,1580 1470,1586 1469,1588 1474,1598 1475,1606 1473,1610 1474,1612 1462,1623 1456,1623 1454,1620 1449,1618 1449,1606 1450,1598 1449,1594 1444,1593 1424,1600 1417,1612 1414,1613 1412,1611 1406,1610 1402,1607 1384,1608 1382,1611 1366,1611 1364,1608 1360,1608 1358,1605 1346,1606 1342,1603 1330,1603 1319,1592 1319,1582 1316,1580 1316,1570 1299,1552 1298,1546 1295,1544 1296,1538 1294,1534 1294,1531 1298,1530 1299,1528 1298,1527 1294,1527 1293,1520 1290,1516 1290,1510 1293,1508 1293,1492 1296,1490 1297,1486 1306,1477 1310,1480 1316,1480 1316,1474 1314,1472 1318,1471 1322,1467 1324,1467 1328,1470 1340,1470 1344,1466 1344,1462 1354,1452 1360,1452 1364,1448 1372,1449 1376,1447 1390,1449 1396,1446 1401,1442 1397,1432 1400,1426 1424,1405 1426,1405 1432,1398 1436,1398ZM1474,1501 1469,1504 1460,1513 1448,1516 1436,1527 1426,1528 1420,1530 1416,1534 1413,1540 1414,1546 1417,1550 1424,1553 1430,1552 1438,1543 1450,1539 1458,1534 1476,1514 1478,1510 1478,1504ZM1478,1486 1475,1490 1478,1493 1480,1493 1482,1490 1480,1487ZM1352,1489 1345,1493 1344,1496 1347,1508 1352,1510 1360,1510 1363,1508 1361,1498 1358,1492 1354,1489ZM1426,1414 1425,1414 1425,1418 1426,1420 1430,1420 1433,1418 1430,1415ZM1438,1459 1437,1460 1437,1462 1438,1463 1442,1464 1445,1462ZM1008,1396 1010,1395 1012,1395 1042,1396 1046,1399 1064,1397 1066,1401 1070,1401 1078,1410 1082,1410 1102,1431 1106,1431 1113,1438 1116,1444 1124,1454 1132,1470 1148,1478 1151,1480 1151,1486 1147,1496 1151,1508 1154,1510 1162,1514 1170,1522 1186,1535 1198,1535 1208,1533 1210,1534 1221,1544 1221,1546 1223,1550 1224,1556 1232,1563 1238,1563 1240,1566 1244,1566 1255,1576 1255,1580 1258,1582 1258,1586 1261,1588 1261,1600 1258,1604 1258,1612 1255,1616 1256,1637 1274,1638 1276,1641 1282,1641 1286,1644 1288,1644 1292,1647 1300,1647 1306,1653 1310,1652 1312,1655 1321,1654 1324,1643 1327,1640 1336,1646 1340,1646 1352,1644 1358,1645 1364,1648 1365,1652 1366,1652 1370,1655 1378,1655 1382,1658 1388,1658 1402,1673 1412,1673 1414,1676 1426,1677 1430,1680 1436,1680 1438,1683 1442,1683 1444,1686 1448,1686 1450,1689 1454,1689 1462,1697 1462,1700 1466,1695 1468,1695 1472,1692 1480,1692 1484,1689 1486,1689 1490,1686 1492,1686 1496,1683 1498,1686 1516,1686 1520,1689 1526,1689 1532,1696 1532,1700 1535,1702 1536,1714 1533,1718 1533,1720 1532,1723 1528,1722 1526,1725 1516,1724 1514,1727 1499,1730 1498,1731 1496,1731 1492,1732 1468,1731 1466,1728 1462,1728 1461,1726 1461,1723 1457,1721 1456,1714 1451,1720 1444,1720 1442,1723 1433,1723 1430,1726 1420,1726 1418,1723 1408,1723 1406,1720 1388,1720 1384,1717 1372,1716 1352,1717 1348,1714 1340,1714 1336,1710 1328,1710 1324,1708 1318,1708 1316,1705 1306,1705 1304,1702 1298,1702 1294,1705 1286,1705 1282,1702 1268,1702 1264,1699 1252,1699 1250,1695 1246,1695 1238,1686 1234,1686 1232,1684 1226,1684 1217,1676 1217,1672 1214,1670 1214,1666 1210,1663 1204,1663 1190,1648 1186,1648 1180,1642 1178,1642 1172,1636 1168,1636 1136,1604 1136,1600 1127,1592 1127,1588 1124,1586 1124,1582 1118,1576 1118,1574 1115,1570 1115,1568 1112,1564 1112,1562 1109,1558 1109,1556 1106,1552 1106,1550 1083,1526 1082,1522 1079,1520 1079,1516 1076,1514 1076,1504 1073,1502 1073,1498 1070,1495 1067,1496 1063,1510 1052,1518 1042,1520 1038,1522 1037,1526 1036,1534 1034,1537 1018,1534 1006,1535 1004,1532 1004,1526 1006,1522 1018,1525 1028,1523 1030,1520 1029,1510 1032,1504 1036,1502 1054,1496 1062,1490 1060,1486 1058,1486 1053,1480 1053,1478 1043,1468 1043,1466 1040,1461 1036,1461 1006,1430 1006,1426 1002,1424 1003,1420 1000,1418 1000,1413 1004,1413 1009,1412 1001,1410 1000,1406 1002,1402 1002,1400ZM1066,1443 1065,1444 1066,1448 1070,1447 1073,1444 1070,1442ZM1088,1444 1082,1448 1088,1459 1090,1463 1094,1465 1100,1464 1102,1460 1104,1456 1102,1449 1096,1444ZM1081,1396 1084,1394 1088,1395 1091,1400 1092,1402 1084,1401 1082,1400ZM379,1400 382,1397 386,1399 385,1402 382,1405 380,1404ZM1297,1406 1300,1407 1301,1408 1300,1412 1298,1415 1294,1412ZM1788,1406 1790,1406 1794,1408 1794,1412 1792,1413 1790,1415 1787,1414 1783,1412 1783,1408ZM2044,1406 2048,1407 2048,1408 2049,1412 2048,1414 2043,1412 2042,1408ZM255,1408 256,1407 258,1408 257,1412ZM1550,1408 1552,1407 1557,1408 1558,1412 1556,1415 1552,1416 1549,1414 1548,1412ZM1885,1408 1889,1412 1886,1414 1883,1411ZM603,1414 610,1412 615,1414 614,1420 610,1425 604,1428 596,1425 590,1427 587,1426 587,1424 590,1419ZM1152,1414 1156,1412 1160,1413 1162,1418 1161,1420 1156,1423 1154,1423 1150,1420ZM1702,1414 1706,1413 1708,1416 1709,1420 1709,1424 1706,1427 1700,1428 1697,1426 1697,1424ZM801,1424 808,1421 815,1424 816,1426 812,1431 802,1433 798,1430 798,1426ZM1141,1430 1142,1429 1145,1430 1142,1430ZM1683,1432 1684,1431 1687,1432 1684,1434ZM2189,1432 2192,1431 2198,1431 2198,1438 2188,1441 2186,1438ZM1659,1438 1660,1436 1665,1438 1664,1440ZM1972,1438 1972,1436 1976,1436 1978,1438 1976,1442 1972,1441ZM1704,1448 1708,1446 1712,1447 1712,1450 1708,1453 1706,1453 1704,1450ZM795,1454 796,1452 800,1453 800,1457 796,1457ZM270,1456 272,1455 274,1456 279,1460 280,1463 278,1464 274,1463ZM952,1456 956,1455 958,1455 962,1460 960,1466 956,1470 952,1469 950,1466 950,1460ZM1832,1456 1834,1454 1838,1454 1840,1456 1838,1460 1834,1460ZM492,1460 494,1459 496,1460 496,1462 494,1464ZM552,1460 556,1459 560,1462 561,1466 560,1468 557,1472 550,1473 548,1472 548,1468 549,1462ZM611,1459 616,1459 618,1460 621,1462 621,1466 618,1474 614,1478 610,1479 608,1478 605,1474 604,1468 606,1462ZM720,1462 722,1461 724,1462 722,1463ZM2090,1462 2092,1461 2096,1462 2098,1464 2102,1468 2102,1474 2099,1480 2096,1483 2090,1482 2086,1478 2085,1472ZM1544,1466 1550,1463 1552,1463 1555,1466 1555,1468 1552,1472 1546,1472 1543,1472 1542,1468ZM1258,1468 1260,1472 1258,1475 1256,1476 1250,1474 1252,1472ZM1703,1468 1706,1466 1712,1466 1714,1469 1718,1469 1724,1475 1730,1475 1732,1478 1732,1480 1735,1484 1735,1486 1738,1490 1738,1499 1741,1502 1741,1520 1738,1522 1738,1526 1732,1532 1732,1538 1735,1540 1732,1544 1732,1546 1729,1550 1729,1552 1726,1555 1724,1555 1720,1558 1712,1558 1709,1555 1706,1555 1697,1546 1697,1544 1694,1540 1694,1538 1691,1534 1691,1532 1688,1528 1688,1520 1685,1516 1685,1486 1688,1484 1688,1480 1694,1475 1700,1469ZM1222,1474 1228,1473 1232,1474 1229,1480 1226,1484 1222,1484 1220,1478ZM1848,1478 1852,1475 1857,1478 1861,1484 1860,1486 1856,1489 1852,1490 1846,1488 1844,1484ZM403,1480 408,1480 409,1484 398,1493 392,1494 389,1492 389,1490 389,1484 392,1481ZM1812,1490 1814,1488 1816,1490 1817,1492 1816,1496 1814,1497 1810,1497 1809,1496 1809,1492ZM2191,1490 2198,1489 2198,1511 2194,1509 2192,1506 2189,1495 2189,1492ZM792,1502 796,1500 801,1502 802,1504 801,1508 796,1513 794,1513 790,1510 790,1504ZM1794,1502 1798,1501 1804,1503 1806,1508 1803,1510 1798,1513 1796,1513 1792,1512 1790,1508 1791,1504ZM978,1508 982,1507 984,1508 984,1510 978,1514 970,1512 970,1510ZM824,1510 826,1509 836,1511 840,1514 841,1516 840,1520 835,1526 830,1529 824,1530 820,1528 819,1526ZM1276,1516 1280,1520 1276,1523 1274,1523 1272,1520 1274,1517ZM2049,1516 2050,1516 2055,1516 2058,1520 2058,1522 2054,1524 2050,1523 2048,1520ZM1799,1520 1802,1517 1810,1517 1814,1520 1822,1520 1826,1523 1834,1523 1838,1526 1844,1526 1855,1538 1855,1540 1858,1544 1858,1552 1861,1556 1861,1570 1870,1580 1874,1580 1879,1586 1879,1588 1882,1592 1882,1598 1885,1600 1885,1612 1882,1615 1882,1624 1873,1633 1868,1633 1867,1634 1867,1636 1870,1639 1870,1652 1870,1658 1867,1660 1867,1666 1861,1672 1861,1676 1852,1684 1837,1684 1829,1676 1829,1670 1826,1666 1826,1652 1829,1648 1829,1645 1832,1643 1832,1640 1844,1628 1844,1624 1840,1624 1838,1621 1834,1620 1828,1620 1821,1624 1814,1626 1810,1623 1807,1623 1806,1622 1806,1618 1803,1616 1803,1612 1800,1610 1800,1606 1786,1594 1786,1612 1780,1618 1778,1618 1774,1621 1766,1621 1762,1618 1760,1618 1756,1615 1750,1615 1748,1612 1714,1612 1702,1612 1696,1618 1694,1618 1690,1621 1684,1621 1682,1618 1672,1618 1670,1615 1666,1615 1658,1606 1658,1604 1655,1600 1655,1585 1664,1577 1685,1576 1687,1574 1690,1571 1702,1569 1706,1569 1708,1571 1754,1571 1756,1574 1766,1574 1768,1577 1772,1577 1774,1580 1778,1580 1780,1582 1780,1586 1783,1589 1784,1592 1784,1576 1780,1573 1778,1573 1774,1570 1772,1569 1768,1566 1766,1566 1761,1562 1760,1558 1758,1556 1758,1552 1763,1544 1761,1528 1762,1527 1766,1529 1772,1529 1774,1523 1776,1526 1784,1526 1786,1523 1790,1523 1792,1520ZM2167,1520 2170,1519 2181,1520 2181,1522 2179,1528 2176,1530 2174,1531 2169,1528 2166,1526 2165,1522ZM734,1522 736,1520 740,1522 740,1525 736,1525ZM264,1528 266,1528 269,1528 271,1532 271,1534 268,1537 266,1537 263,1534 262,1532ZM313,1538 320,1535 321,1538 317,1544 314,1545 310,1544 310,1540ZM252,1544 256,1544 260,1546 260,1550 256,1551 253,1550 252,1546ZM637,1546 638,1545 639,1546 638,1547ZM493,1550 494,1549 494,1550 494,1550ZM2095,1558 2096,1558 2096,1558 2096,1559ZM1100,1562 1102,1561 1108,1568 1108,1570 1106,1575 1100,1574 1097,1570 1096,1568ZM2173,1564 2176,1562 2181,1564 2181,1568 2176,1569 2173,1568ZM889,1570 892,1569 893,1570 892,1573 890,1575ZM693,1576 694,1575 698,1575 698,1580 694,1582 693,1580ZM625,1588 626,1588 627,1588 626,1590ZM2098,1592 2102,1592 2110,1604 2108,1613 2103,1600 2098,1594ZM1039,1604 1040,1604 1042,1606 1040,1607 1038,1606ZM2068,1604 2072,1604 2075,1606 2074,1621 2072,1629 2068,1631 2066,1631 2059,1628 2059,1610 2060,1606 2062,1605ZM368,1610 374,1608 380,1608 382,1610 383,1612 380,1618 374,1620 369,1616 367,1612ZM1075,1612 1077,1612 1077,1616 1076,1617 1074,1616ZM1429,1612 1436,1612 1440,1616 1440,1618 1436,1625 1432,1625 1424,1623 1418,1616 1420,1614ZM1129,1622 1130,1621 1133,1622 1134,1628 1132,1632 1129,1630ZM1766,1628 1772,1627 1774,1628 1776,1630 1775,1634 1772,1636 1768,1636 1766,1634 1764,1630ZM735,1630 742,1628 748,1628 753,1630 755,1634 754,1637 752,1640 744,1646 724,1654 721,1654 718,1652 720,1642 722,1640ZM1905,1636 1912,1637 1918,1642 1928,1640 1930,1641 1933,1642 1933,1645 1932,1652 1952,1653 1961,1652 1970,1646 1976,1646 1978,1643 1984,1643 1988,1641 2019,1642 2016,1648 2014,1660 2010,1670 2009,1676 2012,1684 2020,1695 2026,1696 2038,1694 2044,1695 2050,1706 2054,1708 2060,1708 2062,1705 2080,1704 2084,1707 2092,1706 2096,1702 2099,1702 2102,1705 2102,1714 2101,1724 2098,1726 2080,1724 2062,1728 2044,1729 2042,1732 2038,1731 2036,1734 2030,1734 2026,1736 2024,1736 2021,1738 2024,1740 2026,1740 2030,1743 2032,1743 2034,1748 2039,1754 2039,1760 2042,1763 2043,1772 2046,1774 2046,1778 2049,1780 2048,1786 2051,1790 2051,1792 2054,1796 2055,1804 2058,1808 2058,1810 2060,1813 2062,1814 2052,1826 2052,1828 2053,1832 2060,1836 2066,1834 2068,1831 2071,1826 2071,1822 2067,1816 2074,1816 2095,1834 2094,1838 2097,1840 2096,1845 2080,1844 2060,1841 2048,1842 2036,1846 2020,1843 2008,1845 1990,1843 1989,1840 1988,1832 1985,1828 1985,1820 1985,1804 1988,1802 1989,1790 1992,1786 1992,1780 1995,1778 1994,1772 1997,1768 1998,1760 2001,1756 2001,1754 2004,1750 2004,1748 2012,1740 2018,1740 2020,1738 2018,1736 2014,1736 2012,1733 1994,1734 1990,1732 1985,1732 1982,1729 1960,1725 1943,1726 1924,1724 1912,1725 1911,1724 1912,1718 1915,1712 1914,1702 1918,1682 1923,1664 1921,1654 1918,1654 1912,1656 1904,1665 1900,1666 1898,1664 1895,1660 1892,1655 1891,1646 1894,1642ZM410,1640 416,1639 417,1642 413,1648 404,1655 400,1656 394,1654 393,1652 394,1648 404,1648ZM809,1639 812,1638 814,1638 819,1642 826,1652 824,1654 814,1651 809,1646ZM1811,1640 1814,1637 1817,1637 1826,1640 1819,1642ZM1428,1642 1430,1642 1432,1646 1430,1648 1427,1646ZM2043,1642 2048,1641 2053,1642 2050,1647 2048,1649ZM1170,1646 1172,1643 1175,1646 1172,1653 1169,1654 1167,1652ZM2197,1648 2198,1648 2198,1664 2194,1661 2194,1658ZM431,1652 434,1649 436,1650 437,1654 434,1657 431,1654ZM2077,1654 2098,1652 2103,1654 2104,1664 2103,1682 2102,1684 2102,1688 2105,1690 2105,1694 2105,1696 2102,1700 2102,1702 2097,1690 2097,1688 2099,1684 2099,1682 2097,1678 2097,1676ZM903,1664 904,1663 908,1664 909,1666 907,1672 902,1676 896,1674 893,1672ZM2105,1664 2108,1661 2116,1663 2128,1661 2131,1666 2130,1670 2128,1671 2110,1673 2108,1670ZM2032,1666 2036,1666 2038,1668 2039,1672 2036,1673 2032,1672 2031,1670ZM368,1670 376,1667 382,1668 387,1672 388,1676 386,1678 382,1680 376,1681 370,1680 366,1676 366,1672ZM1048,1672 1052,1671 1058,1672 1063,1676 1064,1678 1060,1683 1054,1684 1052,1682 1049,1678ZM879,1676 884,1674 887,1676 884,1684 878,1688 875,1688 874,1684 877,1678ZM1777,1676 1780,1675 1780,1679 1778,1680 1776,1678ZM1604,1678 1606,1676 1610,1676 1614,1678 1619,1684 1619,1690 1616,1692 1606,1689 1603,1684ZM316,1690 317,1690 316,1691ZM319,1694 320,1693 320,1694 320,1694ZM980,1700 988,1698 992,1700 995,1706 992,1708 988,1710 980,1708 977,1706 978,1702ZM470,1706 478,1706 482,1708 483,1714 482,1718 478,1721 472,1720 465,1714 464,1712 465,1708ZM1844,1706 1850,1704 1852,1705 1856,1707 1856,1712 1852,1718 1840,1723 1838,1720 1837,1714 1840,1708ZM853,1718 856,1715 860,1717 865,1724 863,1726 860,1727 852,1724 851,1720ZM1555,1720 1558,1721 1559,1724 1556,1729 1552,1730 1548,1726 1550,1724ZM303,1724 305,1724 306,1726 304,1730 302,1730 301,1726ZM1230,1724 1232,1723 1234,1725 1237,1730 1235,1738 1238,1742 1239,1748 1238,1753 1234,1755 1232,1754 1230,1750 1232,1740 1234,1738 1228,1730 1228,1726ZM388,1726 388,1726 392,1726 388,1727ZM905,1726 910,1725 911,1726 911,1732 909,1736 902,1740 896,1738 898,1732ZM1055,1726 1058,1725 1060,1725 1062,1730 1055,1742 1055,1748 1057,1750 1054,1752 1054,1748 1048,1742 1047,1738ZM1278,1726 1282,1725 1285,1726 1291,1732 1293,1738 1292,1743 1286,1742 1277,1736 1276,1730ZM1534,1726 1540,1726 1542,1730 1540,1738 1538,1742 1534,1743 1531,1742 1529,1736 1530,1730ZM1079,1730 1084,1727 1090,1727 1100,1728 1108,1732 1112,1738 1114,1744 1112,1756 1108,1759 1102,1750 1090,1749 1084,1746 1080,1738ZM487,1732 490,1733 493,1736 496,1751 487,1753 482,1752 479,1750 478,1748 482,1738 484,1733ZM2151,1736 2156,1734 2158,1736 2158,1739 2156,1743 2152,1743 2152,1742 2151,1738ZM957,1738 958,1738 962,1741 963,1744 962,1746 958,1745 956,1742ZM1338,1738 1340,1738 1342,1740 1342,1743 1340,1744 1336,1742ZM1032,1742 1034,1741 1034,1742 1034,1742ZM1422,1744 1424,1743 1425,1744 1425,1748 1424,1750 1422,1748ZM242,1748 242,1746 243,1750 242,1753ZM328,1750 334,1748 337,1750 334,1758 328,1763 326,1762 322,1760 323,1756ZM1513,1754 1514,1751 1516,1752 1517,1754ZM283,1756 286,1755 290,1755 292,1760 291,1766 286,1769 284,1767 282,1762ZM2149,1756 2150,1756 2152,1758 2156,1766 2156,1769 2152,1769 2151,1766ZM1545,1760 1546,1758 1549,1759 1549,1762 1546,1764 1544,1762ZM405,1762 406,1761 408,1762 406,1763ZM648,1762 652,1760 656,1760 659,1762 660,1766 658,1768 652,1768 647,1766ZM1591,1766 1594,1764 1596,1766 1596,1772 1593,1780 1588,1784 1582,1785 1580,1785 1577,1780 1578,1778 1582,1772ZM856,1768 858,1768 856,1770ZM1879,1768 1880,1767 1882,1768 1887,1774 1892,1777 1910,1776 1912,1777 1914,1784 1917,1786 1917,1790 1915,1792 1915,1799 1912,1802 1912,1804 1906,1811 1906,1814 1904,1815 1899,1816 1898,1820 1895,1822 1896,1828 1893,1832 1893,1834 1888,1841 1880,1844 1874,1848 1816,1850 1777,1849 1744,1844 1738,1840 1734,1834 1734,1832 1736,1828 1746,1822 1758,1820 1762,1816 1763,1808 1773,1798 1777,1792 1778,1790 1777,1780 1780,1778 1784,1778 1790,1780 1794,1778 1798,1777 1810,1779 1816,1778 1826,1772 1838,1771 1844,1769 1846,1769 1854,1774 1858,1776 1866,1772 1876,1770ZM1858,1802 1856,1808 1858,1809 1862,1804 1862,1802ZM1453,1772 1456,1769 1460,1769 1462,1771 1468,1780 1466,1784 1456,1788 1454,1788 1451,1778ZM1698,1772 1700,1769 1706,1775 1708,1780 1706,1784 1702,1784 1700,1783 1698,1778ZM667,1780 674,1784 675,1786 675,1790 674,1791 668,1792 661,1790 660,1786 661,1784 664,1781ZM1237,1780 1244,1781 1248,1784 1247,1790 1244,1793 1240,1793 1238,1790 1232,1784 1234,1781ZM1320,1784 1322,1782 1324,1782 1328,1785 1330,1792 1329,1796 1328,1797 1324,1798 1322,1795 1320,1790ZM2133,1786 2134,1785 2138,1786 2141,1796 2142,1798 2140,1802 2132,1802 2126,1799 2126,1796 2127,1792ZM2170,1786 2170,1785 2174,1786 2174,1791 2170,1792ZM368,1792 370,1791 375,1792 378,1796 376,1800 374,1801ZM1749,1792 1750,1791 1754,1792 1750,1799 1748,1800 1747,1798 1749,1796ZM289,1796 292,1794 298,1794 305,1796 307,1798 304,1804 302,1807 296,1809 290,1809 285,1808 284,1804 286,1798ZM1197,1802 1203,1804 1208,1814 1208,1817 1204,1819 1196,1810 1194,1804 1196,1802ZM1680,1808 1682,1805 1684,1805 1700,1805 1706,1812 1708,1812 1714,1818 1718,1818 1719,1819 1725,1826 1725,1828 1725,1840 1722,1846 1718,1848 1696,1850 1670,1845 1652,1848 1642,1845 1636,1840 1635,1838 1638,1834 1638,1832 1646,1823 1648,1824 1652,1821 1660,1821 1662,1820 1662,1816 1666,1812 1670,1812 1672,1809 1678,1809ZM1959,1810 1960,1809 1960,1813 1958,1814 1957,1811ZM1230,1814 1234,1813 1235,1816 1230,1816ZM474,1820 476,1818 478,1819 496,1828 500,1828 502,1822 506,1820 508,1822 509,1826 506,1829 500,1830 494,1840 490,1842 488,1842 482,1837 478,1832ZM1441,1820 1444,1819 1448,1821 1452,1826 1451,1828 1444,1830 1439,1828 1439,1826ZM331,1822 334,1823 342,1828 344,1834 342,1838 340,1838 334,1838 328,1834 327,1828 328,1824ZM1242,1826 1244,1825 1246,1827 1246,1832 1242,1832 1241,1828ZM1595,1852 1600,1851 1606,1851 1609,1856 1609,1858 1604,1863 1598,1863 1594,1858 1593,1856ZM1941,1856 1942,1854 1944,1856 1942,1861 1940,1858ZM2130,1856 2134,1854 2136,1856 2135,1858 2132,1867 2128,1868 2129,1858ZM476,1858 482,1856 484,1856 486,1858 483,1868 470,1868 472,1863ZM406,1862 410,1859 412,1860 416,1862 419,1868 404,1868ZM1681,1862 1684,1864 1685,1868 1672,1868 1676,1864ZM838,1864 844,1862 854,1864 862,1864 867,1868 836,1868ZM1327,1864 1330,1863 1333,1864 1334,1868 1326,1868ZM1388,1864 1390,1863 1393,1868 1386,1868ZM1917,1864 1918,1864 1922,1868 1915,1868Z"/>
<path fill="#bad0f8" fill-rule="evenodd" d="M430,364 434,364 437,368 436,372 433,375 430,374 428,370 428,368ZM376,382 380,380 382,380 394,385 410,387 413,388 414,392 413,398 416,400 428,395 436,394 442,397 452,404 454,404 458,399 460,398 464,400 465,404 465,406 464,408 458,407 454,409 448,422 446,424 440,426 428,423 412,422 400,417 386,415 374,415 338,410 332,407 329,404 330,400 334,397 352,393 364,394 368,393ZM479,400 482,399 484,400 486,404 485,406 481,406 479,404ZM264,404 266,401 268,402 277,410 286,413 290,413 292,411 296,405 298,405 304,408 314,410 318,412 319,424 318,428 316,430 310,435 296,438 285,442 278,443 266,443 261,440 259,430 259,422ZM817,584 826,581 832,581 842,585 848,591 854,600 856,608 858,622 856,628 850,632 842,633 827,628 820,623 807,590 808,586ZM1462,616 1466,616 1474,620 1484,620 1492,622 1499,620 1520,619 1522,620 1532,627 1538,631 1539,634 1538,636 1532,637 1528,640 1513,656 1499,662 1496,668 1492,670 1490,671 1484,671 1472,663 1466,662 1438,666 1426,671 1420,672 1406,663 1405,656 1407,652 1412,649 1420,646 1442,642 1457,634 1454,626 1455,622ZM1986,620 1988,617 1990,618 1994,620 1994,622 1988,623ZM275,634 278,632 280,634 280,638 278,638ZM1976,640 1982,640 1988,644 1990,650 1988,655 1982,653 1977,650 1975,644ZM337,646 340,645 344,646 344,650 344,653 340,655 338,654 336,652 335,650ZM1990,662 1990,660 1992,662 1990,665ZM1526,674 1532,673 1535,674 1538,676 1539,680 1538,682 1528,689 1522,690 1516,689 1515,688 1515,686 1519,680 1521,676ZM429,680 434,679 446,682 449,686 451,692 449,700 450,706 461,718 461,722 458,725 452,727 443,724 424,720 422,718 422,716 428,710 429,706 426,686 428,681ZM1978,680 1982,677 1988,677 1994,682 1996,686 1994,688 1990,690 1984,690 1979,686 1978,682ZM1610,688 1612,687 1616,687 1620,692 1621,695 1615,704 1611,712 1610,713 1600,710 1603,706 1606,706 1609,704ZM1689,704 1694,702 1714,701 1718,704 1724,711 1730,714 1732,718 1733,722 1732,726 1727,729 1712,731 1696,722 1690,724 1688,721 1687,716 1687,706ZM1924,712 1927,712 1930,716 1934,716 1946,715 1954,713 1960,713 1972,725 1978,730 1985,730 1986,734 1984,737 1982,738 1976,737 1964,740 1954,739 1948,740 1946,742 1942,752 1940,753 1934,753 1924,757 1912,755 1904,757 1898,756 1894,751 1894,746 1895,740 1908,728 1911,722 1916,718 1918,718ZM1464,734 1466,733 1467,734 1466,735ZM559,736 574,735 580,737 584,740 587,746 594,764 594,770 590,776 584,780 568,786 560,793 556,796 554,805 548,812 544,820 532,839 514,850 506,853 499,850 494,844 490,844 484,849 472,846 466,843 458,832 455,826 456,824 464,812 476,807 485,796 496,791 500,787 504,770 504,758 507,752 512,748 530,741 544,740ZM1401,748 1405,748 1406,752 1402,753 1401,752ZM1453,748 1457,749 1460,751 1466,759 1468,759 1480,755 1485,758 1485,764 1483,775 1483,778 1489,788 1490,793 1486,793 1480,790 1478,790 1475,796 1478,800 1480,801 1484,800 1490,794 1499,812 1505,815 1514,819 1520,826 1522,832 1522,838 1515,856 1509,868 1508,878 1513,884 1528,890 1536,898 1546,904 1548,910 1547,920 1548,928 1558,940 1558,944 1556,947 1550,948 1538,948 1532,945 1522,934 1516,920 1514,916 1504,913 1492,911 1483,908 1480,904 1481,896 1478,893 1466,894 1454,890 1448,890 1436,888 1420,890 1384,884 1382,885 1378,889 1372,902 1372,908 1378,914 1382,914 1394,911 1414,913 1424,908 1444,902 1460,906 1468,910 1470,914 1470,920 1474,931 1476,940 1475,952 1476,958 1474,962 1466,964 1456,963 1448,955 1438,952 1435,944 1432,942 1412,935 1394,932 1388,934 1376,940 1366,956 1360,961 1352,958 1328,972 1322,971 1314,962 1310,950 1306,943 1304,932 1297,914 1292,909 1282,897 1280,895 1270,899 1268,900 1263,898 1261,896 1263,890 1274,886 1280,880 1286,880 1294,882 1298,880 1304,868 1305,848 1298,824 1301,802 1304,800 1306,799 1316,801 1327,796 1342,789 1354,780 1364,780 1376,785 1394,781 1406,781 1409,778 1418,767 1432,760 1439,752 1444,749ZM1312,856 1311,860 1313,862 1322,864 1334,867 1337,866 1337,860 1334,856ZM1366,813 1363,818 1363,820 1366,824 1372,826 1379,824 1380,820 1379,818 1376,814 1372,813ZM1330,939 1330,940 1330,941 1331,940ZM1834,752 1868,752 1874,764 1874,772 1870,778 1862,785 1857,790 1852,791 1844,787 1840,787 1829,796 1827,802 1829,814 1833,826 1832,832 1828,836 1826,836 1822,839 1806,838 1799,830 1798,826 1800,814 1800,808 1798,806 1796,804 1786,804 1784,796 1777,784 1777,776 1780,772 1784,771 1792,765 1796,767 1802,774 1805,776 1808,774 1808,769 1805,758 1810,757 1814,754 1832,754ZM1273,794 1282,791 1286,794 1284,806 1280,810 1276,811 1274,810 1269,806 1268,800ZM1023,802 1028,802 1034,803 1048,813 1060,818 1064,820 1066,830 1064,836 1060,838 1050,842 1047,844 1048,851 1054,856 1060,860 1078,860 1112,872 1114,874 1114,878 1111,892 1106,906 1102,910 1096,913 1090,913 1076,909 1060,900 1048,888 1046,887 1040,886 1037,883 1041,868 1042,860 1040,854 1030,845 1022,840 1003,820 1003,818 1013,809ZM1207,806 1214,804 1219,806 1220,812 1219,818 1217,820 1214,823 1208,823 1198,818 1192,822 1190,821 1187,814 1187,812 1189,808 1198,812ZM429,808 431,808 430,812 427,812ZM1080,814 1082,813 1086,814 1088,830 1091,836 1090,839 1088,840 1086,838 1086,830 1079,818ZM1579,826 1582,827 1586,831 1589,842 1586,849 1579,853 1576,851 1573,838 1575,832ZM1152,832 1154,830 1160,830 1180,836 1192,837 1202,838 1207,842 1206,844 1190,865 1166,869 1154,872 1130,868 1126,865 1126,850 1124,848 1118,845 1117,842 1120,840 1124,842 1126,845 1148,836ZM435,836 436,834 438,836 436,839ZM1237,838 1240,837 1250,836 1253,838 1255,842 1240,851 1238,844ZM1260,844 1264,843 1270,844 1272,848 1272,850 1268,853 1261,854 1259,850ZM702,856 710,855 718,858 722,862 726,874 729,904 724,910 716,914 706,914 694,910 693,908 688,892 690,868 694,862ZM612,860 616,859 620,860 632,869 634,873 634,884 632,890 628,892 622,890 608,881 605,878 606,872 610,862ZM1617,866 1622,864 1628,864 1628,872 1622,870 1619,868ZM432,878 436,875 442,879 445,884 442,890 440,891 436,890 434,887 432,880ZM929,878 937,878 958,883 962,886 957,908 944,920 939,920 932,914 908,905 903,898 903,892 906,886 910,881 916,878ZM654,896 662,894 668,895 670,897 679,910 679,914 676,915 670,916 656,913 651,910 648,904 651,898ZM1610,896 1612,894 1616,896 1616,899 1612,902 1610,902 1609,898ZM1149,908 1154,906 1156,906 1159,910 1156,914 1150,915 1147,914 1147,910ZM811,910 818,911 820,913 821,916 819,922 814,928 814,934 813,940 809,944 793,946 782,939 757,932 757,928 766,928 778,924 796,925 800,924 806,913ZM1003,926 1010,927 1015,932 1014,934 1009,944 992,951 982,951 974,954 952,955 944,962 949,973 946,976 944,973 941,968 941,964 943,962 940,958 923,949 920,944 920,940 922,936 952,941 964,937 982,945 986,945 992,942 995,938 998,927ZM1185,926 1190,924 1192,924 1194,926 1194,932 1193,934 1190,936 1184,934 1183,932ZM1585,950 1586,950 1587,952 1586,954ZM1613,962 1628,961 1628,968 1614,964ZM1164,964 1172,962 1175,964 1175,968 1168,975 1162,976 1160,974 1158,970 1159,968ZM1359,968 1360,966 1364,967 1365,970 1360,972 1358,971ZM792,992 794,990 796,992 798,994 796,1004 794,1006 791,1003 790,1000 790,995ZM1126,994 1132,993 1136,994 1144,1000 1144,1018 1147,1034 1144,1038 1142,1039 1137,1034 1130,1030 1112,1034 1106,1033 1103,1030 1089,1010 1090,1008 1100,1011 1102,1009 1112,999ZM820,1000 826,999 829,1000 827,1006 824,1009 820,1009 819,1006ZM988,1010 1006,1009 1012,1011 1018,1018 1019,1028 1004,1046 1000,1048 992,1049 980,1054 976,1058 970,1069 968,1070 966,1066 974,1052 973,1046 969,1034 971,1022 974,1016ZM1082,1034 1088,1031 1090,1031 1093,1034 1096,1046 1095,1048 1088,1054 1082,1057 1078,1055 1076,1052 1074,1046 1076,1040ZM867,1042 869,1042 872,1045 872,1048 868,1053 866,1055 862,1055 860,1052 861,1048 862,1045ZM1552,1118 1574,1117 1576,1120 1594,1120 1604,1130 1605,1144 1607,1150 1609,1172 1606,1174 1606,1180 1597,1190 1598,1192 1604,1189 1612,1179 1616,1180 1618,1184 1618,1186 1612,1196 1610,1198 1606,1198 1598,1196 1596,1192 1594,1192 1588,1196 1582,1192 1576,1191 1572,1192 1568,1197 1564,1197 1558,1195 1551,1190 1544,1177 1534,1168 1534,1150 1536,1148 1536,1138 1543,1130 1543,1126ZM1633,1228 1636,1231 1636,1235 1634,1235 1633,1232ZM1582,1274 1586,1276 1579,1280 1577,1276ZM1662,1310 1666,1307 1670,1309 1672,1309 1676,1312 1677,1316 1676,1318 1666,1324 1661,1322 1660,1316ZM1105,1334 1109,1334 1113,1340 1112,1342 1106,1342 1102,1340 1102,1336ZM1038,1418 1040,1416 1042,1416 1048,1417 1054,1416 1058,1417 1061,1430 1060,1432 1054,1436 1040,1432 1038,1430 1036,1424ZM1401,1462 1402,1461 1406,1461 1408,1463 1410,1468 1408,1478 1406,1477 1401,1472 1399,1466ZM1704,1468 1706,1467 1712,1467 1714,1470 1718,1470 1724,1476 1730,1477 1730,1480 1734,1484 1734,1486 1737,1490 1737,1498 1740,1502 1740,1520 1737,1522 1737,1526 1731,1532 1731,1538 1735,1540 1732,1543 1732,1546 1729,1550 1729,1552 1726,1554 1724,1554 1720,1557 1712,1558 1708,1554 1706,1554 1698,1546 1698,1544 1695,1540 1695,1538 1692,1534 1692,1532 1689,1528 1689,1520 1686,1516 1686,1486 1689,1484 1689,1480 1694,1474 1700,1469ZM1644,1478 1646,1476 1654,1476 1658,1479 1660,1480 1664,1484 1664,1490 1667,1492 1667,1496 1664,1498 1664,1502 1661,1504 1662,1528 1652,1533 1642,1533 1640,1534 1636,1535 1632,1538 1628,1539 1626,1540 1625,1550 1622,1552 1622,1556 1616,1558 1616,1610 1608,1604 1608,1600 1605,1598 1606,1594 1594,1592 1588,1595 1580,1607 1570,1616 1569,1618 1580,1628 1580,1634 1576,1640 1576,1642 1582,1649 1588,1644 1592,1644 1594,1646 1596,1652 1595,1658 1586,1658 1574,1656 1552,1656 1550,1658 1528,1658 1526,1656 1508,1656 1506,1646 1507,1598 1504,1594 1504,1576 1508,1573 1516,1581 1526,1582 1538,1587 1540,1585 1543,1576 1541,1568 1550,1561 1551,1558 1554,1544 1558,1538 1560,1534 1554,1528 1554,1526 1562,1520 1565,1516 1564,1514 1562,1510 1558,1509 1551,1514 1550,1516 1550,1522 1548,1526 1538,1530 1532,1531 1526,1530 1520,1528 1518,1534 1515,1538 1516,1546 1513,1550 1512,1558 1509,1562 1508,1569 1507,1526 1505,1522 1508,1520 1504,1517 1497,1516 1496,1515 1495,1510 1496,1507 1498,1503 1504,1502 1509,1498 1511,1496 1511,1486 1512,1484 1514,1483 1516,1486 1556,1486 1558,1483 1564,1483 1568,1483 1570,1486 1580,1486 1630,1485 1634,1482 1636,1482 1640,1479 1642,1479ZM1526,1614 1523,1616 1528,1619 1531,1618 1530,1616ZM1528,1632 1527,1634 1527,1636 1528,1638 1532,1637 1533,1634 1532,1631ZM1117,1484 1120,1483 1122,1486 1120,1489 1118,1491 1114,1490ZM1498,1484 1502,1481 1505,1484 1498,1497 1495,1495 1495,1492ZM1066,1490 1066,1489 1067,1490ZM1082,1489 1088,1488 1090,1488 1100,1496 1108,1499 1116,1508 1118,1514 1112,1522 1109,1532 1112,1540 1114,1542 1118,1540 1120,1534 1118,1528 1124,1523 1130,1522 1142,1523 1154,1530 1168,1533 1180,1545 1186,1548 1202,1550 1214,1559 1226,1559 1228,1562 1228,1564 1222,1576 1222,1579 1226,1579 1234,1572 1238,1571 1246,1571 1250,1573 1253,1576 1253,1580 1256,1582 1256,1586 1259,1588 1259,1600 1256,1604 1256,1612 1253,1616 1254,1636 1256,1639 1274,1639 1276,1642 1282,1642 1286,1645 1288,1645 1292,1648 1300,1648 1306,1654 1310,1654 1312,1657 1330,1656 1334,1653 1336,1653 1340,1650 1348,1649 1358,1650 1360,1653 1366,1653 1370,1656 1378,1656 1382,1660 1388,1660 1402,1675 1412,1674 1414,1677 1426,1678 1430,1681 1436,1681 1438,1684 1442,1684 1444,1687 1448,1687 1450,1690 1454,1690 1460,1696 1460,1700 1464,1702 1460,1712 1456,1712 1450,1719 1444,1719 1442,1722 1432,1722 1430,1725 1420,1725 1418,1722 1408,1722 1406,1719 1388,1718 1384,1715 1377,1714 1379,1702 1376,1701 1372,1701 1368,1702 1367,1706 1368,1714 1352,1716 1348,1713 1340,1712 1336,1709 1328,1709 1324,1706 1318,1706 1316,1703 1306,1703 1304,1700 1298,1701 1294,1704 1286,1703 1282,1700 1268,1700 1264,1697 1252,1697 1250,1694 1246,1694 1238,1685 1234,1685 1232,1682 1226,1682 1218,1676 1218,1672 1215,1670 1215,1666 1210,1662 1204,1662 1190,1647 1186,1647 1180,1641 1178,1641 1172,1635 1168,1635 1137,1604 1137,1600 1128,1592 1128,1588 1125,1586 1125,1582 1119,1576 1119,1574 1116,1570 1116,1568 1113,1564 1113,1562 1110,1558 1111,1556 1108,1552 1108,1550 1093,1534 1092,1532 1084,1526 1084,1522 1081,1520 1081,1516 1078,1514 1078,1504 1075,1502 1075,1498 1070,1492ZM1244,1665 1240,1667 1240,1669 1240,1674 1244,1674 1246,1670ZM1268,1678 1267,1678 1268,1682 1270,1678ZM1334,1669 1323,1672 1320,1676 1319,1678 1319,1682 1325,1690 1328,1700 1330,1702 1334,1703 1342,1694 1354,1689 1357,1684 1357,1682 1351,1676 1339,1669ZM1310,1514 1312,1512 1318,1512 1328,1517 1340,1522 1354,1521 1364,1522 1378,1519 1384,1522 1384,1526 1384,1528 1373,1544 1370,1546 1352,1546 1336,1552 1330,1552 1322,1549 1310,1550 1305,1546 1305,1544 1311,1538 1312,1534 1309,1520ZM1801,1520 1810,1518 1814,1521 1822,1521 1826,1524 1834,1524 1838,1527 1844,1527 1854,1538 1854,1540 1857,1544 1857,1552 1860,1556 1860,1570 1870,1581 1874,1581 1878,1586 1878,1588 1881,1592 1881,1598 1884,1600 1884,1612 1881,1616 1880,1624 1874,1631 1868,1631 1865,1634 1866,1636 1869,1640 1869,1652 1869,1658 1866,1660 1866,1666 1860,1672 1860,1676 1852,1683 1838,1683 1830,1676 1830,1670 1827,1666 1827,1652 1830,1649 1830,1646 1833,1642 1833,1640 1845,1628 1846,1624 1844,1622 1840,1622 1832,1614 1808,1621 1807,1618 1804,1616 1804,1612 1801,1610 1801,1606 1786,1593 1785,1594 1785,1612 1780,1617 1778,1617 1774,1620 1766,1620 1762,1617 1760,1617 1756,1614 1750,1614 1748,1611 1714,1611 1702,1611 1696,1617 1694,1617 1690,1620 1684,1620 1682,1617 1672,1617 1670,1614 1666,1614 1659,1606 1659,1604 1656,1600 1656,1586 1664,1578 1696,1577 1700,1580 1706,1574 1708,1574 1712,1572 1754,1572 1756,1575 1766,1575 1768,1578 1772,1578 1774,1581 1778,1581 1784,1593 1785,1592 1785,1576 1780,1572 1778,1572 1774,1569 1772,1568 1767,1564 1766,1556 1769,1544 1766,1532 1772,1530 1774,1527 1784,1527 1786,1524 1790,1524 1792,1521 1798,1521ZM1490,1526 1496,1523 1497,1526 1498,1532 1496,1536 1492,1536 1490,1532 1489,1528ZM1458,1550 1461,1550 1463,1552 1460,1558 1456,1564 1455,1568 1458,1580 1455,1586 1454,1587 1442,1587 1432,1590 1424,1589 1420,1591 1414,1601 1412,1602 1397,1598 1394,1586 1388,1591 1376,1598 1364,1601 1359,1604 1346,1604 1342,1601 1330,1601 1321,1592 1321,1582 1318,1580 1318,1569 1330,1574 1333,1580 1336,1582 1342,1583 1346,1582 1349,1576 1348,1574 1335,1570 1336,1567 1348,1561 1354,1560 1370,1563 1384,1561 1394,1564 1396,1553 1400,1551 1402,1551 1409,1556 1414,1558 1436,1561 1440,1558 1443,1552ZM1618,1642 1618,1642 1619,1642ZM1978,1646 1978,1645 1984,1646 1993,1652 1994,1654 1999,1684 1996,1702 1999,1718 1998,1724 1993,1730 1984,1730 1982,1727 1978,1727 1972,1723 1970,1723 1960,1714 1954,1714 1952,1711 1936,1710 1934,1713 1930,1713 1928,1710 1922,1709 1918,1706 1918,1690 1922,1686 1928,1689 1930,1689 1941,1684 1950,1670 1949,1660 1952,1660 1956,1654 1960,1654 1970,1647 1976,1647ZM1614,1648 1616,1646 1616,1649ZM1608,1654 1612,1652 1614,1654 1612,1656ZM1494,1724 1496,1722 1499,1726 1493,1726ZM1873,1772 1876,1773 1882,1780 1889,1784 1906,1785 1916,1786 1916,1790 1913,1792 1913,1798 1910,1802 1910,1804 1904,1810 1904,1814 1898,1815 1886,1811 1882,1808 1878,1796 1871,1784ZM1818,1786 1822,1786 1823,1786 1820,1790 1818,1790ZM2005,1786 2008,1786 2014,1788 2026,1798 2036,1814 2037,1820 2035,1826 2026,1828 2014,1825 2006,1810 2000,1808 1994,1810 1990,1814 1987,1822 1987,1804 1990,1802 1990,1790ZM1681,1808 1690,1806 1700,1807 1705,1814 1706,1820 1716,1832 1717,1838 1716,1840 1708,1843 1700,1843 1670,1838 1654,1843 1647,1840 1643,1838 1643,1834 1652,1827 1670,1831 1672,1830 1681,1820 1679,1810ZM1773,1816 1780,1815 1790,1817 1804,1814 1834,1819 1846,1819 1856,1821 1870,1821 1882,1824 1893,1828 1892,1834 1888,1838 1868,1843 1846,1841 1804,1844 1792,1842 1780,1842 1746,1838 1746,1834 1750,1831 1760,1830 1762,1828 1769,1820Z"/>
<path fill="#a6c4fe" fill-rule="evenodd" d="M266,418 272,418 280,420 287,428 288,430 287,434 284,437 278,438 272,439 266,437 263,434 262,428 263,422ZM826,590 830,588 836,589 840,592 844,598 844,604 842,608 836,616 832,617 830,616 825,614 820,604 821,596ZM1414,652 1418,651 1424,650 1430,652 1430,656 1426,660 1420,661 1413,658 1412,656ZM565,740 574,739 580,742 584,754 582,760 574,766 570,776 554,792 538,801 534,814 524,832 520,832 518,830 512,827 502,826 499,824 497,806 499,800 508,790 507,782 509,770 509,758 511,754 518,752 532,751ZM1830,764 1834,761 1838,762 1841,766 1834,767 1831,766ZM1447,766 1448,765 1450,765 1456,770 1462,773 1466,778 1465,788 1456,808 1474,816 1486,816 1490,817 1496,826 1503,832 1506,838 1502,854 1495,860 1491,866 1489,878 1486,882 1468,885 1464,884 1459,878 1451,860 1448,848 1442,836 1440,824 1438,822 1432,823 1424,820 1413,824 1402,823 1384,832 1376,838 1374,842 1378,850 1385,854 1384,856 1364,874 1352,878 1348,878 1346,874 1343,850 1344,848 1362,842 1364,839 1364,834 1365,832 1378,832 1384,828 1387,824 1386,820 1382,812 1376,806 1370,804 1364,807 1359,812 1354,822 1342,828 1336,829 1324,827 1310,830 1306,827 1308,824 1318,817 1324,805 1348,793 1354,791 1370,798 1372,798 1384,795 1396,796 1412,788 1426,789 1430,788 1437,782ZM1026,814 1028,813 1030,814 1034,818 1030,826 1028,829 1024,826ZM1153,838 1162,836 1168,836 1174,839 1184,844 1186,848 1185,854 1178,860 1172,862 1154,864 1144,861 1138,854 1139,848 1142,844ZM1393,844 1394,844 1396,848 1394,848 1392,848ZM703,860 710,858 716,861 718,864 722,873 725,902 725,904 722,908 716,911 707,910 699,908 696,904 692,892 694,868 698,864ZM1063,866 1072,865 1084,866 1099,871 1106,875 1108,880 1107,890 1100,906 1094,908 1078,905 1070,901 1060,892 1057,886 1053,872 1055,868ZM1309,872 1316,870 1324,872 1329,874 1333,880 1333,884 1328,908 1324,913 1318,916 1312,916 1306,910 1303,904 1300,896 1300,890 1301,884 1306,874ZM1431,872 1432,870 1438,870 1444,874 1444,878 1442,878 1436,878 1432,874ZM1350,916 1352,914 1358,916 1359,920 1358,922 1354,924 1352,922ZM1462,940 1463,940 1466,944 1462,948 1461,946 1460,944ZM929,944 940,942 944,944 947,946 946,949 943,952 940,952 934,951 930,950 928,946ZM1120,1004 1130,1002 1135,1004 1138,1010 1137,1016 1136,1020 1133,1022 1114,1026 1111,1024 1112,1012 1115,1006ZM1001,1022 1004,1021 1004,1022 1004,1022ZM980,1024 982,1023 986,1022 990,1024 989,1036 987,1040 982,1041 979,1040 977,1034ZM1593,1142 1598,1142 1600,1144 1599,1148 1592,1153 1588,1152 1588,1145ZM1704,1468 1706,1467 1712,1468 1714,1471 1718,1471 1724,1476 1729,1477 1729,1480 1734,1484 1734,1486 1737,1490 1737,1498 1740,1502 1739,1520 1736,1522 1736,1526 1730,1532 1731,1538 1734,1540 1731,1544 1731,1546 1728,1550 1728,1552 1726,1554 1724,1554 1720,1557 1712,1557 1708,1554 1706,1554 1699,1546 1699,1544 1696,1540 1696,1538 1693,1534 1692,1532 1689,1528 1689,1520 1686,1516 1687,1486 1690,1484 1689,1480 1695,1474 1700,1470 1702,1470ZM1645,1478 1646,1477 1653,1478 1648,1482 1646,1483 1642,1480ZM1623,1490 1628,1487 1632,1490 1633,1492 1630,1502 1628,1503 1624,1499ZM1529,1514 1532,1511 1534,1515 1535,1520 1532,1522 1528,1520ZM1792,1522 1796,1522 1798,1526 1804,1529 1808,1528 1810,1526 1812,1522 1822,1522 1826,1525 1834,1525 1838,1528 1844,1528 1853,1538 1853,1540 1856,1544 1856,1552 1859,1556 1859,1570 1870,1582 1874,1582 1877,1586 1877,1588 1880,1592 1880,1598 1883,1600 1883,1612 1880,1616 1880,1621 1868,1617 1858,1610 1856,1610 1840,1618 1834,1611 1832,1609 1816,1613 1810,1612 1802,1606 1786,1592 1786,1576 1780,1571 1778,1571 1775,1568 1775,1550 1770,1532 1774,1528 1784,1528 1786,1525 1790,1525ZM1792,1540 1790,1542 1787,1546 1788,1552 1792,1556 1804,1557 1807,1558 1816,1569 1820,1570 1828,1564 1834,1564 1838,1563 1837,1556 1834,1551 1832,1550ZM1133,1534 1138,1532 1144,1533 1156,1542 1172,1549 1180,1556 1197,1562 1201,1564 1205,1570 1211,1588 1216,1594 1234,1604 1240,1610 1242,1616 1240,1628 1242,1630 1250,1634 1252,1636 1250,1640 1228,1653 1216,1666 1210,1661 1204,1661 1190,1646 1186,1646 1180,1640 1178,1640 1172,1634 1168,1634 1138,1604 1138,1600 1129,1592 1129,1588 1126,1586 1126,1582 1120,1576 1120,1574 1117,1570 1117,1568 1114,1564 1114,1560 1119,1558 1123,1556 1129,1540ZM1198,1602 1194,1606 1195,1610 1198,1611 1202,1609 1202,1606 1202,1602ZM1564,1540 1564,1540 1568,1542 1570,1552 1575,1558 1574,1560 1570,1559 1564,1553 1563,1546ZM1441,1574 1444,1572 1446,1574 1448,1576 1444,1578 1442,1577ZM1711,1574 1712,1573 1754,1573 1756,1576 1766,1576 1768,1579 1772,1579 1774,1582 1778,1582 1778,1586 1781,1588 1781,1592 1784,1594 1784,1612 1780,1616 1778,1616 1774,1619 1766,1619 1762,1616 1760,1616 1756,1613 1750,1613 1748,1610 1702,1610 1696,1616 1694,1616 1690,1619 1684,1619 1682,1616 1672,1616 1670,1613 1666,1613 1660,1606 1660,1604 1657,1600 1657,1586 1664,1579 1696,1578 1700,1581 1706,1575 1708,1575ZM1762,1606 1762,1610 1766,1611 1766,1608ZM1558,1576 1558,1575 1560,1576 1560,1586 1558,1590 1556,1590 1553,1585 1554,1582ZM1843,1630 1846,1628 1856,1630 1863,1634 1868,1640 1868,1658 1865,1660 1865,1666 1859,1672 1859,1676 1852,1682 1838,1682 1831,1676 1831,1670 1828,1666 1828,1652 1831,1648 1831,1646 1834,1642 1834,1640ZM1339,1652 1358,1651 1359,1654 1352,1658 1340,1659 1328,1663 1324,1663 1320,1660 1320,1658 1330,1657 1334,1654 1336,1654ZM1969,1660 1970,1659 1970,1660 1970,1661ZM1305,1672 1306,1672 1309,1672 1309,1676 1306,1677 1305,1676ZM1415,1697 1418,1694 1420,1694 1430,1694 1436,1696 1437,1700 1437,1720 1420,1724 1418,1721 1408,1720 1413,1714 1413,1702ZM1979,1712 1982,1712 1986,1714 1987,1718 1984,1720 1979,1718 1977,1714Z"/>
<path fill="#92b4fe" fill-rule="evenodd" d="M272,427 275,428 274,429ZM827,598 833,596 836,597 838,602 836,607 832,609 830,609 827,608 826,602ZM550,758 554,757 560,759 562,766 561,776 552,788 544,791 536,792 526,789 521,784 519,782 520,778 524,774 530,771 540,770 543,766 546,760ZM1410,796 1414,796 1417,796 1417,800 1412,802 1408,800ZM1336,806 1342,805 1345,808 1345,814 1340,818 1334,817 1330,812 1331,808ZM1154,842 1162,839 1172,840 1178,844 1179,848 1178,854 1174,857 1168,859 1156,859 1150,858 1146,854 1145,850 1146,848ZM703,866 710,865 713,868 719,902 716,905 710,906 704,903 700,900 697,892 697,886 700,878 701,868ZM1067,872 1072,869 1084,870 1094,872 1101,878 1103,880 1104,886 1101,896 1096,902 1090,904 1082,903 1076,900 1069,896 1064,886 1064,878ZM1310,878 1316,876 1318,877 1322,880 1322,884 1319,898 1316,904 1312,904 1310,902 1306,896 1305,890 1306,884ZM937,946 938,946 939,946 938,947ZM1705,1468 1712,1468 1714,1471 1718,1471 1724,1477 1727,1478 1727,1480 1730,1483 1733,1484 1733,1486 1736,1490 1736,1498 1739,1502 1739,1520 1736,1522 1736,1526 1730,1532 1730,1538 1733,1540 1730,1544 1730,1546 1727,1550 1727,1552 1724,1553 1720,1556 1712,1556 1708,1553 1706,1553 1700,1546 1702,1538 1700,1535 1696,1536 1693,1534 1693,1532 1690,1528 1690,1520 1687,1516 1687,1486 1690,1484 1690,1480 1696,1474 1700,1471 1702,1471ZM1143,1562 1148,1560 1162,1560 1166,1561 1168,1565 1180,1569 1184,1574 1188,1586 1188,1592 1186,1596 1169,1604 1162,1610 1158,1600 1154,1595 1150,1595 1148,1596 1138,1602 1138,1600 1129,1592 1130,1586 1134,1570ZM1705,1576 1710,1576 1708,1581 1700,1585 1690,1584 1686,1580 1696,1579 1700,1582ZM1169,1624 1172,1624 1174,1628 1172,1629ZM1831,1652 1832,1650 1834,1649 1839,1654 1839,1658 1834,1660 1832,1659 1830,1654Z"/>
<path fill="#7da0f9" fill-rule="evenodd" d="M530,778 536,776 544,776 549,778 549,782 548,784 544,787 536,788 530,784 529,782ZM1155,844 1162,842 1168,842 1173,844 1175,848 1176,850 1172,855 1166,857 1159,856 1154,854 1152,850 1152,848ZM1074,874 1088,873 1097,878 1099,880 1100,886 1098,892 1094,899 1088,900 1082,899 1076,896 1073,892 1069,886 1069,880 1070,878ZM1146,1570 1150,1572 1154,1575 1156,1582 1154,1586 1144,1587 1141,1586 1140,1580 1141,1574Z"/>
<path fill="#688aef" fill-rule="evenodd" d="M1158,848 1163,845 1166,845 1171,848 1172,850 1168,853 1162,854 1157,850ZM1081,878 1090,877 1095,880 1097,886 1094,892 1088,895 1081,892 1077,884 1078,880Z"/>
<path fill="#5572df" fill-rule="evenodd" d="M1086,884 1088,881 1090,881 1092,884 1090,887 1088,887Z"/>
</g>
<path d="M1318.9,354.1 L1304.8,354.1 L1295.9,374.0 L1271.7,389.3 L1257.7,402.0 L1266.6,404.6 L1289.5,394.4 L1309.9,374.0 L1318.9,359.9Z" fill="#fff"/>
<path d="M1230.9,419.9 L1244.9,405.9 L1250.0,408.4 L1236.0,422.4Z" fill="#fff"/>
<path d="M1204.1,423.7 L1209.7,418.6 L1217.3,424.5 L1211.7,428.8Z" fill="#fff"/>
<path d="M1449.8,1539.2 L1468.2,1516.2 L1492.6,1497.9 L1517.7,1504.9 L1493.3,1508.0 L1485.9,1523.3 L1486.5,1539.8 L1465.7,1555.1 L1463.6,1572.9 L1457.4,1563.7 L1459.0,1551.4Z" fill="#fff"/>
</g>
<g fill="none" stroke="#000" stroke-width="4.2" stroke-linejoin="miter" stroke-miterlimit="4" stroke-linecap="butt">
<path d="M255.9,986.9 L266.1,986.9 L294.7,989.8 L358.0,986.1 L398.0,982.9 L414.3,999.2 L420.4,1013.5 L436.3,1020.4 L464.1,1040.0 L468.2,1044.9 L458.0,1053.1 L472.2,1067.8 L485.3,1080.0 L500.0,1082.0 L531.4,1069.4 L534.3,1105.3 L550.6,1182.9 L572.2,1214.3 L579.2,1253.1 L598.0,1283.7 L615.9,1335.9 L635.9,1354.3 L643.7,1349.0 L651.0,1333.9 L670.2,1327.8 L664.9,1320.4 L674.3,1304.9 L685.3,1303.3 L685.7,1267.3 L694.7,1246.9 L692.7,1226.5 L688.6,1202.0 L694.7,1185.7 L709.0,1182.9 L734.7,1171.4 L734.7,1161.2 L774.3,1133.5 L796.7,1109.4 L825.3,1095.9 L838.4,1082.9 L836.7,1066.5 L840.0,1066.0 L863.0,1062.2 L878.3,1062.2 L881.0,1053.7 L895.4,1058.3 L897.4,1054.5 L907.4,1059.1 L914.2,1046.8 L911.9,1038.4 L931.1,1039.2 L939.5,1049.9 L944.1,1060.6 L946.4,1074.4 L949.0,1077.5 L953.3,1085.1 L962.5,1097.4 L967.0,1101.2 L980.8,1105.0 L980.4,1121.6 L994.7,1146.1 L998.8,1160.4 L990.6,1184.1 L1015.1,1189.8 L1053.9,1164.5 L1054.8,1163.8 L1064.0,1183.1 L1070.1,1220.4 L1076.2,1237.2 L1082.3,1244.9 L1081.4,1266.3 L1088.5,1281.0 L1083.9,1295.4 L1082.3,1306.1 L1081.4,1318.4 L1075.3,1345.9 L1078.7,1358.8 L1083.0,1345.9 L1105.1,1368.6 L1107.4,1377.0 L1116.5,1386.2 L1121.9,1395.4 L1118.8,1411.5 L1126.5,1422.2 L1129.5,1440.6 L1141.8,1454.3 L1144.1,1465.8 L1190.0,1494.9 L1204.5,1493.4 L1206.1,1486.5 L1197.7,1467.4 L1189.2,1462.0 L1185.4,1445.9 L1187.3,1422.4 L1178.8,1407.1 L1163.5,1391.8 L1150.6,1381.1 L1137.4,1378.1 L1125.2,1365.8 L1120.6,1345.9 L1111.4,1328.2 L1097.7,1326.9 L1096.7,1312.9 L1106.8,1284.7 L1115.1,1262.7 L1116.9,1238.8 L1133.5,1238.8 L1132.9,1254.1 L1151.2,1255.6 L1167.1,1262.7 L1173.3,1275.5 L1181.8,1290.2 L1191.0,1297.5 L1207.9,1300.6 L1223.2,1312.9 L1217.0,1328.2 L1224.7,1341.3 L1244.6,1326.9 L1267.5,1303.7 L1292.0,1290.8 L1311.3,1276.4 L1314.1,1238.8 L1305.8,1199.0 L1292.0,1180.6 L1273.7,1166.8 L1258.4,1146.9 L1235.4,1117.9 L1241.5,1102.5 L1259.9,1082.7 L1285.9,1065.8 L1295.7,1062.8 L1321.1,1068.9 L1319.6,1076.5 L1326.3,1091.2 L1335.5,1091.2 L1343.5,1068.9 L1367.0,1065.2 L1397.6,1054.5 L1409.3,1045.3 L1416.0,1050.5 L1426.7,1042.9 L1453.7,1038.3 L1478.8,1023.0 L1512.4,1000.0 L1513.9,1002.3 L1536.2,968.7 L1565.3,924.9 L1577.5,922.8 L1585.2,889.1 L1574.5,884.5 L1567.8,870.7 L1582.1,865.2 L1582.1,848.4 L1565.3,829.4 L1553.1,811.0 L1546.3,792.7 L1523.1,779.8 L1534.7,763.6 L1554.6,754.4 L1565.3,743.1 L1595.3,736.9 L1592.2,726.8 L1577.5,725.9 L1558.6,717.7 L1534.7,733.0 L1516.9,725.3 L1516.3,716.7 L1499.5,713.1 L1488.2,698.4 L1499.5,689.2 L1520.0,688.0 L1534.7,673.9 L1556.1,659.5 L1576.0,651.8 L1587.3,663.5 L1569.0,677.9 L1574.5,685.5 L1563.8,694.7 L1583.7,690.1 L1603.6,677.9 L1631.1,673.3 L1654.1,682.4 L1651.0,699.3 L1641.8,711.5 L1652.5,719.2 L1660.2,716.1 L1671.8,717.7 L1687.1,737.5 L1671.8,743.1 L1681.6,763.6 L1677.0,780.4 L1679.2,791.1 L1698.5,789.6 L1716.8,779.8 L1736.7,775.8 L1743.5,762.0 L1742.9,740.6 L1736.7,726.8 L1726.0,711.5 L1716.8,702.3 L1700.0,688.6 L1701.5,676.9 L1709.2,670.8 L1724.5,666.5 L1737.3,657.3 L1748.4,651.8 L1746.8,638.1 L1756.6,628.9 L1770.4,624.3 L1775.0,616.6 L1802.5,601.3 L1816.8,612.9 L1828.7,612.9 L1857.6,600.5 L1930.0,539.2 L1937.4,523.4 L1969.5,491.8 L1977.9,458.9 L1980.5,431.3 L1997.1,410.3 L1995.8,392.6 L1965.5,369.5 L1941.1,368.9 L1928.7,378.7 L1907.6,373.4 L1897.1,361.1 L1864.2,357.1 L1911.6,330.0 L2014.3,265.9 L2083.7,259.8 L2149.0,263.9 L2177.6,252.4 L2216.3,239.4 L2300.0,230.0 L2300.0,100.0 L200.0,100.0 L200.0,987.0Z"/>
<path d="M1308.9,1101.0 L1330.3,1095.8 L1345.6,1096.4 L1349.6,1104.1 L1339.5,1116.3 L1334.9,1125.5 L1316.5,1136.2 L1299.1,1129.5 L1298.8,1113.3Z"/>
<path d="M1480.3,1345.9 L1489.5,1332.1 L1506.3,1321.4 L1520.1,1306.1 L1530.2,1283.2 L1534.5,1298.5 L1523.2,1312.2 L1509.4,1326.0 L1491.0,1338.3Z"/>
<path d="M692.7,1315.1 L706.9,1326.5 L717.1,1344.1 L726.5,1364.5 L723.3,1385.7 L695.9,1397.1 L685.3,1379.6 L681.6,1349.0 L687.3,1332.7Z"/>
<path d="M1013.6,1407.6 L1061.0,1412.1 L1082.4,1432.0 L1108.5,1453.5 L1128.4,1479.5 L1149.8,1480.4 L1169.7,1497.9 L1180.4,1513.2 L1196.3,1522.3 L1188.1,1539.2 L1200.3,1546.8 L1207.3,1547.8 L1211.6,1562.1 L1219.6,1574.4 L1234.0,1576.5 L1245.3,1590.6 L1240.1,1615.7 L1238.6,1649.4 L1214.7,1650.0 L1195.7,1634.1 L1171.2,1617.2 L1145.2,1589.7 L1133.0,1569.8 L1117.7,1539.2 L1096.2,1519.3 L1085.5,1485.6 L1065.6,1471.8 L1053.4,1453.5 L1036.5,1442.8 L1015.1,1418.3Z"/>
<path d="M1242.2,1650.3 L1269.2,1651.8 L1286.0,1659.2 L1296.1,1661.6 L1299.2,1669.3 L1339.6,1670.8 L1344.2,1662.2 L1384.0,1673.9 L1391.6,1686.1 L1422.2,1690.7 L1449.8,1703.0 L1425.3,1711.2 L1400.8,1703.0 L1382.4,1703.0 L1358.0,1701.4 L1338.1,1696.8 L1315.1,1689.2 L1298.3,1687.0 L1290.6,1689.8 L1252.3,1681.5 L1248.4,1672.3 L1229.4,1670.8Z"/>
<path d="M1471.2,1716.7 L1478.9,1705.1 L1491.1,1705.1 L1496.3,1696.8 L1503.4,1703.0 L1517.7,1700.8 L1522.6,1710.0 L1485.0,1717.3Z"/>
<path d="M1560.0,1496.4 L1591.1,1504.3 L1626.8,1505.4 L1650.0,1489.3 L1654.3,1493.6 L1635.7,1516.1 L1621.4,1519.6 L1607.1,1516.1 L1544.6,1521.4 L1542.1,1535.0 L1561.4,1554.3 L1571.4,1544.6 L1613.6,1537.5 L1612.5,1546.4 L1595.7,1550.0 L1590.0,1558.9 L1573.2,1565.0 L1593.6,1592.9 L1587.5,1600.7 L1607.1,1625.0 L1607.9,1637.5 L1597.1,1645.7 L1588.6,1637.5 L1595.7,1620.7 L1580.4,1628.6 L1573.2,1620.7 L1575.7,1614.3 L1558.9,1598.2 L1561.4,1582.1 L1548.2,1586.4 L1550.7,1642.9 L1535.7,1646.4 L1527.9,1640.0 L1533.9,1623.2 L1528.6,1598.2 L1519.6,1594.6 L1515.0,1583.9 L1523.2,1571.4 L1529.3,1544.6 L1538.6,1514.3Z"/>
<path d="M1708.9,1480.4 L1710.7,1488.6 L1723.2,1491.1 L1725.7,1517.9 L1716.1,1518.6 L1713.6,1530.4 L1719.6,1541.1 L1714.3,1544.6 L1704.3,1526.8 L1699.3,1503.6 L1701.8,1487.5Z"/>
<path d="M1667.9,1592.1 L1689.3,1591.1 L1696.4,1597.1 L1687.5,1605.4 L1673.9,1601.8Z"/>
<path d="M1708.9,1595.7 L1714.3,1585.7 L1741.1,1585.0 L1764.3,1591.1 L1773.2,1607.1 L1750.0,1596.4 L1728.6,1594.6Z"/>
<path d="M1850.0,1640.0 L1856.1,1646.4 L1853.6,1658.9 L1843.9,1671.4 L1841.1,1655.4Z"/>
<path d="M1555.8,1129.8 L1569.5,1129.8 L1583.0,1136.9 L1589.4,1130.3 L1591.3,1136.9 L1588.5,1146.4 L1595.3,1160.6 L1589.7,1177.6 L1575.9,1184.7 L1572.8,1202.5 L1577.1,1218.4 L1588.9,1221.4 L1598.4,1219.1 L1624.5,1230.9 L1623.3,1242.7 L1630.4,1248.2 L1628.0,1257.0 L1612.6,1247.5 L1603.9,1235.6 L1598.4,1242.7 L1584.2,1229.7 L1561.7,1233.3 L1553.9,1228.5 L1555.3,1216.7 L1561.7,1214.3 L1556.3,1210.3 L1553.9,1215.5 L1543.5,1204.9 L1538.7,1195.4 L1538.0,1176.4 L1547.0,1182.4 L1549.2,1148.0Z"/>
<path d="M1547.5,1237.5 L1565.3,1239.2 L1571.2,1246.3 L1568.1,1264.8Z"/>
<path d="M1631.6,1256.5 L1652.9,1257.0 L1660.0,1266.4 L1664.7,1289.4 L1650.5,1285.4 L1647.0,1281.8 L1645.8,1272.4Z"/>
<path d="M1632.8,1279.5 L1645.8,1281.8 L1654.1,1303.1 L1643.9,1307.9 L1643.4,1294.8 L1637.5,1292.5Z"/>
<path d="M1580.7,1270.7 L1594.9,1277.1 L1607.9,1278.3 L1604.3,1292.5 L1596.0,1297.2 L1583.0,1302.7 L1582.3,1281.8Z"/>
<path d="M1603.1,1294.8 L1615.0,1291.3 L1613.8,1305.5 L1628.0,1285.4 L1625.6,1305.5 L1615.0,1317.3 L1611.4,1326.8 L1605.5,1332.7 L1591.8,1317.3 L1600.8,1309.1Z"/>
<path d="M1656.4,1317.3 L1674.2,1326.3 L1681.3,1370.6 L1673.7,1390.8 L1665.9,1370.6 L1655.7,1380.1 L1661.9,1395.5 L1656.4,1406.2 L1630.4,1393.1 L1624.5,1378.4 L1630.4,1368.3 L1618.1,1358.8 L1611.4,1366.6 L1602.0,1365.9 L1585.4,1376.6 L1582.3,1371.3 L1589.4,1354.1 L1603.1,1348.1 L1615.5,1339.8 L1622.1,1349.3 L1638.2,1343.4 L1642.2,1333.9 L1655.7,1332.7Z"/>
<path d="M1741.3,814.1 L1761.2,808.6 L1776.5,801.8 L1797.3,817.1 L1782.6,853.3 L1768.9,863.1 L1758.2,855.4 L1764.3,835.5 L1752.0,830.9Z"/>
<path d="M1805.6,812.5 L1817.9,798.8 L1830.1,801.8 L1837.8,794.2 L1852.4,795.7 L1855.5,804.9 L1844.5,817.1 L1834.7,810.4 L1824.0,815.6 L1818.8,827.9 L1805.6,822.7Z"/>
<path d="M2013.7,368.9 L2024.7,365.5 L2036.6,399.7 L2036.6,420.8 L2045.8,443.2 L2066.8,480.8 L2033.9,473.4 L2021.6,503.7 L2043.2,526.1 L2042.4,541.8 L2026.1,527.4 L2011.6,545.3 L2007.6,526.1 L2010.3,503.7 L2007.6,482.6 L2013.7,458.9 L2013.7,437.9 L2001.6,416.8 L2002.4,387.4 L2023.4,377.9Z"/>
<path d="M2008.9,553.7 L2018.2,562.9 L2036.6,576.1 L2065.5,587.4 L2080.8,578.7 L2085.8,602.4 L2055.0,608.4 L2034.7,629.5 L2001.1,615.5 L1990.5,637.4 L1966.3,638.4 L1963.4,618.2 L1974.2,601.1 L1997.1,599.7 L2003.7,570.8Z"/>
<path d="M1491.1,1395.3 L1524.8,1409.7 L1522.6,1418.3 L1508.0,1419.2 L1511.0,1429.6 L1495.7,1436.6 L1483.5,1455.9 L1498.8,1477.3 L1496.3,1486.5 L1520.2,1505.5 L1494.2,1508.6 L1487.1,1523.9 L1488.1,1540.7 L1466.6,1556.0 L1466.6,1579.0 L1459.0,1610.2 L1455.9,1602.9 L1431.4,1612.0 L1422.9,1598.9 L1408.5,1596.7 L1396.2,1591.2 L1371.7,1598.9 L1365.6,1589.7 L1350.3,1590.6 L1333.5,1587.5 L1330.4,1559.1 L1316.6,1552.0 L1309.0,1534.6 L1305.9,1516.2 L1307.4,1496.3 L1320.6,1481.6 L1336.5,1488.7 L1351.8,1485.6 L1356.4,1467.2 L1367.1,1462.7 L1391.6,1459.0 L1417.6,1430.5 L1425.3,1421.3 L1445.2,1407.6 L1462.0,1392.2 L1472.0,1378.1 L1479.4,1377.1 L1491.0,1388.8Z"/>
<path d="M1573.0,984.9 L1583.7,991.6 L1581.8,1000.0 L1570.0,1030.8 L1557.0,1056.8 L1544.4,1039.1 L1542.8,1022.5 L1554.6,1000.8Z"/>
<path d="M1775.0,794.2 L1810.2,768.2 L1853.1,762.0 L1876.0,766.6 L1897.1,730.0 L1911.6,739.2 L1954.2,710.3 L1968.2,685.3 L1965.0,660.3 L1974.2,647.1 L1995.8,643.2 L2008.4,672.1 L2007.6,689.2 L1987.9,710.3 L1989.2,731.3 L1980.5,751.1 L1984.7,761.6 L1974.2,776.1 L1945.8,785.8 L1907.6,787.4 L1877.9,811.6 L1864.2,803.7 L1862.9,787.9 L1862.2,788.1 L1828.6,792.7 L1801.0,800.3 L1776.5,801.8Z"/>
<path d="M1489.2,1960.7 L1501.4,1958.4 L1516.0,1956.1 L1519.0,1951.5 L1524.4,1949.2 L1536.6,1950.8 L1558.8,1944.7 L1571.1,1935.5 L1576.4,1923.2 L1588.7,1913.0 L1590.2,1892.6 L1604.8,1874.7 L1613.9,1893.4 L1623.9,1888.8 L1615.5,1878.4 L1622.4,1867.7 L1632.3,1873.2 L1634.6,1856.6 L1646.1,1846.7 L1650.7,1837.5 L1662.2,1834.0 L1662.2,1827.6 L1671.3,1830.6 L1672.1,1824.5 L1691.2,1818.7 L1708.1,1829.1 L1719.6,1841.3 L1732.6,1841.6 L1746.3,1844.1 L1741.7,1832.1 L1751.7,1815.3 L1758.9,1810.7 L1760.0,1801.8 L1775.0,1787.5 L1785.0,1783.9 L1806.4,1781.4 L1807.9,1771.4 L1793.6,1764.3 L1803.6,1762.5 L1828.6,1775.0 L1848.2,1780.4 L1854.3,1777.9 L1867.9,1785.0 L1888.6,1780.4 L1893.6,1776.8 L1902.9,1786.4 L1892.9,1805.4 L1881.4,1810.7 L1883.9,1822.1 L1869.6,1841.1 L1871.4,1846.4 L1887.5,1857.9 L1905.4,1864.3 L1932.1,1882.9 L1941.1,1885.0 L1950.7,1894.6 L1971.4,1902.9 L1986.4,1894.6 L1998.2,1864.3 L2004.3,1842.9 L2000.0,1817.9 L2003.6,1796.4 L2008.9,1780.4 L2013.2,1758.9 L2020.7,1751.8 L2028.6,1767.9 L2030.4,1778.6 L2039.3,1796.4 L2042.9,1810.7 L2051.8,1835.7 L2064.3,1826.8 L2082.1,1844.6 L2080.4,1858.9 L2089.3,1883.9 L2094.6,1889.3 L2098.2,1907.1 L2103.6,1925.0 L2103.2,1929.0 L2126.7,1939.8 L2156.3,1958.2 L2200.0,1985.0 L1450.0,1985.0Z"/>
<path d="M1518.7,1728.4 L1538.6,1723.5 L1558.5,1736.6 L1556.9,1742.8 L1547.7,1743.7Z"/>
<path d="M1766.1,1544.6 L1793.6,1538.6 L1804.6,1532.1 L1839.3,1541.1 L1844.6,1557.1 L1849.3,1583.9 L1870.4,1596.4 L1889.3,1574.3 L1913.6,1560.7 L1932.1,1560.7 L1966.1,1575.7 L1990.0,1581.4 L2028.6,1596.4 L2065.0,1606.4 L2091.1,1628.6 L2095.7,1642.9 L2130.4,1654.3 L2135.7,1666.1 L2116.1,1669.6 L2121.4,1683.9 L2139.3,1696.4 L2152.9,1717.9 L2166.1,1717.1 L2166.1,1728.6 L2200.0,1737.5 L2200.0,1748.2 L2137.5,1741.1 L2119.6,1726.8 L2107.1,1714.3 L2097.1,1696.4 L2069.6,1686.8 L2050.0,1693.6 L2039.3,1701.8 L2039.3,1717.1 L2023.2,1723.2 L2012.5,1720.7 L1990.0,1718.9 L1967.9,1700.0 L1950.7,1696.4 L1944.6,1703.6 L1916.1,1704.3 L1923.2,1687.5 L1938.6,1681.4 L1933.9,1658.9 L1923.2,1640.0 L1882.1,1622.1 L1864.3,1619.6 L1832.1,1600.7 L1825.7,1610.7 L1817.9,1612.5 L1812.5,1594.6 L1796.4,1585.0 L1813.6,1577.9 L1835.0,1577.9 L1833.9,1573.2 L1803.6,1571.4 L1789.3,1558.9 L1776.8,1556.4Z"/>
<path d="M2200.0,1640.0 L2164.3,1642.9 L2144.6,1641.1 L2146.4,1648.2 L2178.6,1660.0 L2200.0,1662.5Z"/>
<path d="M1485.7,1705.4 L1517.9,1700.7 L1523.2,1710.0 L1485.7,1716.1Z"/>
<path d="M1537.5,1705.4 L1555.4,1700.0 L1569.6,1706.4 L1585.7,1703.6 L1604.3,1696.4 L1600.7,1708.9 L1569.6,1716.1 L1539.3,1711.4Z"/>
<path d="M1517.9,1727.9 L1538.6,1723.2 L1557.1,1735.7 L1556.4,1743.6 L1545.7,1743.9Z"/>
<path d="M1614.3,1744.6 L1623.2,1725.7 L1646.4,1716.1 L1651.8,1708.9 L1685.7,1701.8 L1698.2,1703.6 L1678.6,1714.3 L1650.0,1723.2 L1635.7,1741.1 L1616.1,1746.4Z"/>
<path d="M266.1,414.9 L281.2,406.7 L277.1,401.4 L298.0,395.3 L282.4,381.0 L292.7,373.3 L372.2,365.1 L382.4,359.8 L436.3,352.0 L455.1,343.9 L493.5,348.0 L500.0,370.0 L522.0,365.1 L550.6,372.0 L548.2,383.5 L568.6,382.7 L622.9,362.7 L613.5,370.0 L641.6,387.1 L688.6,440.2 L700.0,429.2 L729.4,441.4 L761.2,436.1 L772.2,440.6 L783.3,451.6 L794.7,455.7 L806.1,464.7 L833.5,462.2 L846.5,474.9"/>
<path d="M846.5,474.9 L876.3,470.0 L917.1,451.6 L949.0,441.4 L970.2,447.6 L989.8,448.4 L1004.9,457.8 L1060.0,463.1"/>
<path d="M846.5,474.9 L829.4,489.6 L811.8,492.4 L811.0,512.9 L798.8,522.2 L756.7,515.7 L741.6,553.7 L731.4,557.8 L687.3,566.7 L706.9,604.7 L692.7,610.0 L692.7,621.0"/>
<path d="M846.5,474.9 L853.9,476.1 L859.2,489.2 L876.3,499.8 L908.2,508.8 L921.2,525.1 L914.3,550.4 L922.0,559.0 L976.3,565.9 L1013.1,581.4 L1023.3,600.6 L1036.3,613.7 L1060.0,613.3"/>
<path d="M266.1,419.0 L296.7,431.2 L291.8,441.4 L266.1,440.6"/>
<path d="M266.1,571.2 L283.7,579.4 L304.9,597.3 L366.9,592.9 L392.7,608.0 L390.6,629.6 L400.8,629.6 L405.7,646.7 L433.5,647.6 L439.6,657.8 L445.7,657.8 L455.9,642.2 L482.4,628.4 L496.7,624.3 L500.8,614.9 L513.9,611.2 L549.8,619.0 L553.9,605.9 L565.3,601.8 L595.5,610.8 L602.9,608.8 L670.2,611.6 L680.4,618.2 L692.7,621.0"/>
<path d="M692.7,621.0 L693.5,625.1 L655.9,639.4 L647.8,647.6 L621.2,651.6 L614.3,663.1 L590.6,664.7 L575.1,670.0 L554.7,680.2 L560.0,685.1 L553.1,689.6 L513.1,686.3 L483.7,679.4 L464.1,681.0 L465.7,670.0 L488.6,673.3 L494.7,668.0 L513.1,669.2 L540.4,653.7 L515.1,642.7 L500.0,648.4 L483.7,640.2 L502.4,627.1 L496.7,624.3"/>
<path d="M488.6,673.3 L484.5,665.9 L490.6,651.6 L461.2,656.9 L453.9,672.0 L444.5,683.5 L425.3,682.2 L420.0,690.4 L436.3,696.5 L440.8,712.0 L429.4,733.3"/>
<path d="M266.1,645.5 L272.2,646.3 L294.7,645.5 L302.0,649.6 L312.2,671.2 L349.8,695.7 L374.3,705.5 L400.8,714.9 L400.8,728.4"/>
<path d="M400.8,727.8 L421.2,729.8 L433.5,734.7 L449.8,726.5 L460.0,731.8 L464.1,722.4 L476.3,720.4 L483.7,710.2 L492.7,704.1 L503.7,710.2 L506.9,730.6 L516.3,740.0 L541.6,726.9 L580.4,726.5 L584.5,733.9"/>
<path d="M400.8,727.8 L392.7,725.7 L384.5,721.6 L382.4,729.0 L362.0,733.9 L358.0,751.0 L329.4,760.4 L323.3,769.8 L309.0,772.7 L287.8,766.5 L286.5,746.9 L266.1,746.1"/>
<path d="M287.8,766.5 L278.4,807.3 L282.4,811.4 L274.3,821.6 L282.4,852.2 L297.6,856.3 L299.6,870.6 L281.2,889.0"/>
<path d="M281.2,889.0 L298.8,908.6 L321.2,921.6 L321.2,940.0 L332.7,953.5 L302.9,964.5 L294.7,989.0"/>
<path d="M281.2,889.0 L288.6,893.1 L313.1,898.4 L347.8,895.1 L353.9,898.0 L368.2,895.1 L396.7,886.9 L396.7,870.6 L413.1,858.4 L427.3,854.3 L451.8,848.2 L460.0,844.1 L461.2,831.8 L476.3,815.5 L474.3,801.2 L494.7,799.2 L500.0,780.8 L509.0,772.7 L504.1,756.3 L515.1,745.3 L562.0,738.0 L584.5,733.9"/>
<path d="M553.1,682.9 L558.0,697.1 L565.3,701.2 L577.6,706.5 L579.2,717.6 L582.4,727.8 L584.5,733.9"/>
<path d="M584.5,733.9 L598.8,745.3 L606.9,760.4 L641.6,768.6"/>
<path d="M641.6,768.6 L621.2,784.9 L598.8,787.8 L580.4,786.1 L564.1,784.1 L554.7,793.1 L564.1,819.6 L570.2,827.8 L587.3,837.1 L568.2,848.2 L567.3,863.7 L549.8,884.1 L539.6,901.2 L513.1,928.6 L486.5,928.6 L465.3,950.2 L479.2,960.4 L481.6,976.7 L493.5,989.0 L497.6,1005.3 L449.8,1005.3 L436.3,1020.4"/>
<path d="M641.6,768.6 L664.1,793.1 L663.3,810.6 L670.2,819.6 L669.4,831.0 L655.1,829.8 L662.0,852.2 L684.5,868.6 L711.0,880.8"/>
<path d="M711.0,880.8 L721.2,875.9 L768.2,898.0 L778.4,909.4 L827.3,925.7 L847.8,929.0 L863.3,930.6 L860.0,944.1 L862.0,960.4 L841.6,961.6 L802.9,954.3 L786.5,944.1 L758.0,940.0 L729.4,925.7 L690.6,909.4 L696.7,891.0 L711.0,880.8"/>
<path d="M861.4,930.2 L874.9,925.6 L876.7,941.2 L878.3,945.1"/>
<path d="M878.3,945.1 L890.5,925.9 L902.0,921.0 L913.5,925.2 L928.0,925.9 L938.0,932.0 L945.6,938.9 L944.9,952.7 L931.8,953.2 L908.9,951.9 L895.9,955.3 L878.3,945.1"/>
<path d="M938.0,932.0 L954.0,929.7 L974.7,912.9 L999.2,900.7 L1016.8,905.3 L1032.1,896.5 L1042.1,909.8 L1035.2,918.6 L1058.1,922.1 L1059.7,929.7 L1052.0,933.6 L1054.3,947.4 L1039.0,943.1"/>
<path d="M1039.0,943.1 L1010.7,958.8 L1011.4,970.3 L1000.0,987.1 L998.4,997.9 L989.2,1016.7 L972.4,1011.6 L971.6,1033.1 L966.7,1040.7 L969.3,1049.1 L960.2,1054.2"/>
<path d="M960.2,1054.2 L958.6,1070.6 L950.2,1066.7 L949.0,1077.5"/>
<path d="M881.0,1053.7 L880.1,1049.1 L877.5,1037.7 L869.8,1020.8 L874.4,1007.8 L860.7,1002.1 L865.3,994.0 L879.0,986.1 L863.0,974.9 L871.4,960.8 L886.7,969.5 L897.4,971.5 L899.4,984.9 L918.1,987.9 L940.3,988.7 L952.5,992.5 L941.8,1010.1 L932.6,1011.3 L925.7,1023.1 L938.0,1034.6 L941.8,1020.8 L948.4,1020.8 L958.6,1048.4 L960.2,1054.2"/>
<path d="M1058.1,922.1 L1069.6,921.0 L1078.0,933.6 L1086.4,938.2 L1086.7,971.8 L1065.8,989.4 L1063.8,1015.5 L1086.4,1011.9 L1091.8,1030.8 L1104.8,1035.4 L1098.7,1053.0 L1123.2,1066.0 L1140.0,1059.9"/>
<path d="M1117.5,1088.8 L1106.8,1093.4 L1090.6,1103.5 L1076.2,1105.6 L1067.0,1128.6 L1058.8,1131.6 L1074.7,1156.1 L1090.6,1180.6 L1083.3,1199.0 L1076.2,1202.0 L1080.8,1214.3 L1096.1,1232.7 L1098.3,1251.0 L1106.8,1270.9 L1093.1,1295.4 L1083.9,1312.2 L1079.3,1333.7"/>
<path d="M1139.0,1058.2 L1140.5,1071.9 L1151.8,1072.9 L1149.7,1049.0 L1161.9,1045.9 L1171.1,1039.8 L1209.4,1037.3 L1227.8,1026.9 L1238.5,1034.3 L1258.4,1038.3 L1255.3,1052.7 L1266.0,1059.7 L1285.9,1065.8"/>
<path d="M1139.0,1068.9 L1123.1,1081.1 L1117.5,1088.8 L1125.2,1093.4 L1127.3,1107.1 L1142.0,1109.6 L1137.4,1131.6 L1136.8,1151.5 L1159.8,1138.7 L1165.0,1142.3 L1178.8,1141.4 L1183.4,1134.1 L1199.6,1136.2 L1215.5,1153.1 L1217.7,1173.0 L1233.9,1193.5 L1233.3,1208.2 L1227.8,1218.9"/>
<path d="M1167.1,1262.7 L1165.0,1238.8 L1178.2,1221.0 L1205.7,1217.3 L1227.8,1218.9 L1243.1,1228.1 L1252.9,1214.3 L1272.1,1221.0"/>
<path d="M1161.9,1045.9 L1174.2,1064.3 L1183.4,1082.0 L1209.4,1082.0 L1217.7,1099.5 L1202.7,1107.8 L1197.1,1114.8 L1224.7,1127.0 L1246.1,1153.1 L1272.1,1185.2 L1276.7,1200.5 L1272.1,1221.0"/>
<path d="M1272.1,1221.0 L1277.6,1237.2 L1275.2,1261.7 L1237.5,1278.0 L1247.6,1291.4 L1224.7,1293.3 L1207.9,1300.6"/>
<path d="M1116.5,1387.0 L1119.6,1383.2 L1138.0,1392.4 L1139.5,1403.1 L1153.3,1400.0 L1158.6,1392.4 L1160.9,1391.6"/>
<path d="M1320.6,1481.6 L1324.3,1497.9 L1339.0,1508.6 L1351.8,1504.0 L1365.6,1505.5 L1379.4,1493.9 L1388.6,1492.7 L1408.5,1498.8 L1426.8,1493.9 L1437.5,1464.2 L1446.7,1455.0 L1452.9,1434.5 L1477.3,1434.5 L1495.7,1436.6"/>
<path d="M1417.6,1430.5 L1426.8,1438.8 L1431.4,1433.6 L1442.1,1433.6 L1445.2,1407.6"/>
<path d="M1990.0,1581.4 L1990.0,1718.9"/>
<path d="M1631.1,673.3 L1649.5,659.5 L1672.4,648.8 L1687.8,633.5 L1696.9,639.6 L1715.3,641.1 L1712.9,629.8 L1745.3,619.7 L1754.5,608.4 L1767.3,619.7 L1770.4,624.3"/>
<path d="M1671.8,717.7 L1683.2,719.2 L1692.3,710.0 L1715.3,706.9 L1716.8,702.3"/>
<path d="M1056.1,465.1 L1077.3,450.0 L1068.4,437.8 L1090.6,414.8 L1113.5,423.7 L1159.4,432.1 L1163.3,448.0 L1193.1,456.9 L1213.0,453.1 L1239.8,450.0 L1261.5,453.1 L1281.9,462.0 L1295.9,474.0 L1313.8,474.0 L1341.8,477.3 L1362.2,472.2 L1389.0,468.4 L1420.9,453.8 L1433.7,456.1 L1445.2,462.5 L1469.9,460.7"/>
<path d="M1037.0,613.8 L1061.2,613.3 L1104.6,618.1 L1132.7,615.8 L1153.1,618.9 L1185.5,631.6 L1211.2,631.6 L1220.7,638.0 L1246.2,626.5 L1280.6,618.9 L1311.2,618.4 L1336.7,611.2 L1352.0,599.7 L1367.3,592.9 L1356.6,576.8 L1367.3,562.8 L1401.8,569.6 L1424.7,558.9 L1455.4,550.0 L1471.9,536.0"/>
<path d="M1469.4,461.8 L1444.1,497.8 L1449.0,506.7 L1461.2,503.9 L1483.7,508.0 L1500.0,499.8 L1515.1,506.7 L1536.7,521.8 L1533.9,530.0 L1518.4,527.1 L1487.8,530.0 L1471.4,536.1"/>
<path d="M1469.4,461.8 L1495.9,468.8 L1524.5,456.5 L1525.7,447.6 L1544.9,423.1 L1557.1,416.9 L1556.3,404.7 L1544.9,399.4 L1562.4,390.4 L1587.8,385.5 L1616.3,384.7 L1644.9,390.4 L1667.3,398.6 L1689.8,431.2 L1702.9,463.1 L1738.8,470.0 L1767.3,486.3 L1775.5,505.9 L1808.2,505.9 L1826.5,497.8 L1861.2,491.2 L1852.4,508.9 L1841.8,518.9 L1835.3,540.5 L1820.0,562.1 L1794.5,557.6 L1794.9,560.0 L1775.9,565.5 L1782.0,584.5 L1779.0,609.0 L1767.3,609.0 L1767.3,619.7"/>
</g></g>
<rect x="265.4" y="174.5" width="1912.9" height="1784.5" fill="none" stroke="#000" stroke-width="3.33" stroke-linejoin="miter"/>
<text x="1221.9" y="91.3" font-family="DejaVu Sans, Liberation Sans, sans-serif" font-size="79.9" text-anchor="middle" fill="#000">Air temperature anomaly between 2015 and 1961 (Celsius)</text>
<line x1="249.2" x2="265.4" y1="352.6" y2="352.6" stroke="#000" stroke-width="3.33"/>
<text x="236" y="377.4" font-family="DejaVu Sans, Liberation Sans, sans-serif" font-size="66.67" text-anchor="end" fill="#000">55°N</text>
<line x1="249.2" x2="265.4" y1="565.8" y2="565.8" stroke="#000" stroke-width="3.33"/>
<text x="236" y="590.6" font-family="DejaVu Sans, Liberation Sans, sans-serif" font-size="66.67" text-anchor="end" fill="#000">45°N</text>
<line x1="249.2" x2="265.4" y1="779.0" y2="779.0" stroke="#000" stroke-width="3.33"/>
<text x="236" y="803.8" font-family="DejaVu Sans, Liberation Sans, sans-serif" font-size="66.67" text-anchor="end" fill="#000">35°N</text>
<line x1="249.2" x2="265.4" y1="992.2" y2="992.2" stroke="#000" stroke-width="3.33"/>
<text x="236" y="1017.0" font-family="DejaVu Sans, Liberation Sans, sans-serif" font-size="66.67" text-anchor="end" fill="#000">25°N</text>
<line x1="249.2" x2="265.4" y1="1205.4" y2="1205.4" stroke="#000" stroke-width="3.33"/>
<text x="236" y="1230.2" font-family="DejaVu Sans, Liberation Sans, sans-serif" font-size="66.67" text-anchor="end" fill="#000">15°N</text>
<line x1="249.2" x2="265.4" y1="1418.6" y2="1418.6" stroke="#000" stroke-width="3.33"/>
<text x="236" y="1443.4" font-family="DejaVu Sans, Liberation Sans, sans-serif" font-size="66.67" text-anchor="end" fill="#000">5°N</text>
<line x1="249.2" x2="265.4" y1="1631.8" y2="1631.8" stroke="#000" stroke-width="3.33"/>
<text x="236" y="1656.6" font-family="DejaVu Sans, Liberation Sans, sans-serif" font-size="66.67" text-anchor="end" fill="#000">5°S</text>
<line x1="249.2" x2="265.4" y1="1845.0" y2="1845.0" stroke="#000" stroke-width="3.33"/>
<text x="236" y="1869.8" font-family="DejaVu Sans, Liberation Sans, sans-serif" font-size="66.67" text-anchor="end" fill="#000">15°S</text>
<line x1="688.6" x2="688.6" y1="1959.0" y2="1975.2" stroke="#000" stroke-width="3.33"/>
<text x="688.6" y="2039.2" font-family="DejaVu Sans, Liberation Sans, sans-serif" font-size="66.67" text-anchor="middle" fill="#000">80°E</text>
<line x1="1115.0" x2="1115.0" y1="1959.0" y2="1975.2" stroke="#000" stroke-width="3.33"/>
<text x="1115.0" y="2039.2" font-family="DejaVu Sans, Liberation Sans, sans-serif" font-size="66.67" text-anchor="middle" fill="#000">100°E</text>
<line x1="1541.4" x2="1541.4" y1="1959.0" y2="1975.2" stroke="#000" stroke-width="3.33"/>
<text x="1541.4" y="2039.2" font-family="DejaVu Sans, Liberation Sans, sans-serif" font-size="66.67" text-anchor="middle" fill="#000">120°E</text>
<line x1="1967.8" x2="1967.8" y1="1959.0" y2="1975.2" stroke="#000" stroke-width="3.33"/>
<text x="1967.8" y="2039.2" font-family="DejaVu Sans, Liberation Sans, sans-serif" font-size="66.67" text-anchor="middle" fill="#000">140°E</text>
<polygon points="171.5,2086.6 66.0,2125.1 171.5,2163.5" fill="#3b4cc0"/>
<rect x="171.00" y="2086.6" width="124.14" height="76.9" fill="#4358cb"/>
<rect x="294.54" y="2086.6" width="124.14" height="76.9" fill="#5572df"/>
<rect x="418.07" y="2086.6" width="124.14" height="76.9" fill="#688aef"/>
<rect x="541.61" y="2086.6" width="124.14" height="76.9" fill="#7da0f9"/>
<rect x="665.14" y="2086.6" width="124.14" height="76.9" fill="#92b4fe"/>
<rect x="788.68" y="2086.6" width="124.14" height="76.9" fill="#a6c4fe"/>
<rect x="912.21" y="2086.6" width="124.14" height="76.9" fill="#bad0f8"/>
<rect x="1035.75" y="2086.6" width="124.14" height="76.9" fill="#ccd9ed"/>
<rect x="1159.28" y="2086.6" width="124.14" height="76.9" fill="#dddcdc"/>
<rect x="1282.82" y="2086.6" width="124.14" height="76.9" fill="#ebd3c6"/>
<rect x="1406.35" y="2086.6" width="124.14" height="76.9" fill="#f4c6af"/>
<rect x="1529.89" y="2086.6" width="124.14" height="76.9" fill="#f7b497"/>
<rect x="1653.42" y="2086.6" width="124.14" height="76.9" fill="#f59f80"/>
<rect x="1776.96" y="2086.6" width="124.14" height="76.9" fill="#ee8669"/>
<rect x="1900.49" y="2086.6" width="124.14" height="76.9" fill="#e36b54"/>
<rect x="2024.03" y="2086.6" width="124.14" height="76.9" fill="#d24b40"/>
<rect x="2147.56" y="2086.6" width="124.14" height="76.9" fill="#be242e"/>
<polygon points="2270.6,2086.6 2376.1,2125.1 2270.6,2163.5" fill="#b40426"/>
<polygon points="171.0,2086.6 2271.1,2086.6 2376.1,2125.1 2271.1,2163.5 171.0,2163.5 66.0,2125.1" fill="none" stroke="#000" stroke-width="3.33" stroke-linejoin="miter"/>
<line x1="294.5" x2="294.5" y1="2163.5" y2="2179.7" stroke="#000" stroke-width="3.33"/>
<text x="294.5" y="2243.3" font-family="DejaVu Sans, Liberation Sans, sans-serif" font-size="66.67" text-anchor="middle" fill="#000">−2.834</text>
<line x1="541.6" x2="541.6" y1="2163.5" y2="2179.7" stroke="#000" stroke-width="3.33"/>
<text x="541.6" y="2243.3" font-family="DejaVu Sans, Liberation Sans, sans-serif" font-size="66.67" text-anchor="middle" fill="#000">−1.834</text>
<line x1="788.7" x2="788.7" y1="2163.5" y2="2179.7" stroke="#000" stroke-width="3.33"/>
<text x="788.7" y="2243.3" font-family="DejaVu Sans, Liberation Sans, sans-serif" font-size="66.67" text-anchor="middle" fill="#000">−0.834</text>
<line x1="1035.7" x2="1035.7" y1="2163.5" y2="2179.7" stroke="#000" stroke-width="3.33"/>
<text x="1035.7" y="2243.3" font-family="DejaVu Sans, Liberation Sans, sans-serif" font-size="66.67" text-anchor="middle" fill="#000">0.166</text>
<line x1="1282.8" x2="1282.8" y1="2163.5" y2="2179.7" stroke="#000" stroke-width="3.33"/>
<text x="1282.8" y="2243.3" font-family="DejaVu Sans, Liberation Sans, sans-serif" font-size="66.67" text-anchor="middle" fill="#000">1.166</text>
<line x1="1529.9" x2="1529.9" y1="2163.5" y2="2179.7" stroke="#000" stroke-width="3.33"/>
<text x="1529.9" y="2243.3" font-family="DejaVu Sans, Liberation Sans, sans-serif" font-size="66.67" text-anchor="middle" fill="#000">2.166</text>
<line x1="1777.0" x2="1777.0" y1="2163.5" y2="2179.7" stroke="#000" stroke-width="3.33"/>
<text x="1777.0" y="2243.3" font-family="DejaVu Sans, Liberation Sans, sans-serif" font-size="66.67" text-anchor="middle" fill="#000">3.166</text>
<line x1="2024.0" x2="2024.0" y1="2163.5" y2="2179.7" stroke="#000" stroke-width="3.33"/>
<text x="2024.0" y="2243.3" font-family="DejaVu Sans, Liberation Sans, sans-serif" font-size="66.67" text-anchor="middle" fill="#000">4.166</text>
<line x1="2271.1" x2="2271.1" y1="2163.5" y2="2179.7" stroke="#000" stroke-width="3.33"/>
<text x="2271.1" y="2243.3" font-family="DejaVu Sans, Liberation Sans, sans-serif" font-size="66.67" text-anchor="middle" fill="#000">5.166</text>
<text x="1221.0" y="2323.2" font-family="DejaVu Sans, Liberation Sans, sans-serif" font-size="66.67" text-anchor="middle" fill="#000">Air Temperature difference (Celsius)</text>
</svg>
</body></html>
